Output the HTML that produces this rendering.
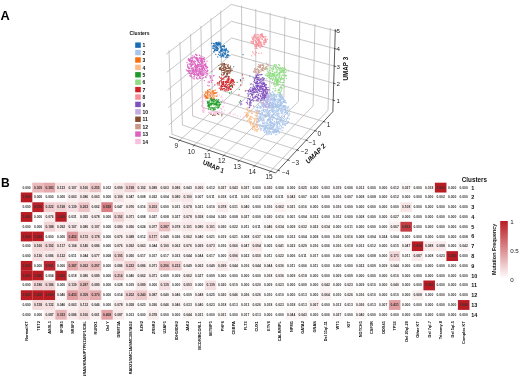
<!DOCTYPE html><html><head><meta charset="utf-8"><style>html,body{margin:0;padding:0;background:#fff;width:520px;height:376px;overflow:hidden}svg{display:block;filter:blur(0.3px)}text{font-family:"Liberation Sans",sans-serif}</style></head><body>
<svg width="520" height="376" viewBox="0 0 520 376">
<rect width="520" height="376" fill="#fff"/>
<text x="0.6" y="20.4" font-size="12.8" font-weight="bold" fill="#000">A</text>
<text transform="translate(1.1,186.8) scale(0.9,1)" font-size="13.4" font-weight="bold" fill="#000">B</text>
<line x1="179.74" y1="140.29" x2="242.04" y2="84.63" stroke="#b4b4b4" stroke-width="0.75"/>
<line x1="194.23" y1="145.23" x2="255.81" y2="88.74" stroke="#b4b4b4" stroke-width="0.75"/>
<line x1="208.96" y1="150.26" x2="269.8" y2="92.9" stroke="#b4b4b4" stroke-width="0.75"/>
<line x1="223.95" y1="155.37" x2="284.01" y2="97.14" stroke="#b4b4b4" stroke-width="0.75"/>
<line x1="239.2" y1="160.56" x2="298.45" y2="101.44" stroke="#b4b4b4" stroke-width="0.75"/>
<line x1="254.71" y1="165.85" x2="313.11" y2="105.8" stroke="#b4b4b4" stroke-width="0.75"/>
<line x1="270.49" y1="171.23" x2="328.01" y2="110.24" stroke="#b4b4b4" stroke-width="0.75"/>
<line x1="171.9" y1="134.28" x2="278.13" y2="170.29" stroke="#b4b4b4" stroke-width="0.75"/>
<line x1="182.43" y1="125.05" x2="287.76" y2="159.97" stroke="#b4b4b4" stroke-width="0.75"/>
<line x1="192.67" y1="116.07" x2="297.11" y2="149.95" stroke="#b4b4b4" stroke-width="0.75"/>
<line x1="202.64" y1="107.33" x2="306.2" y2="140.22" stroke="#b4b4b4" stroke-width="0.75"/>
<line x1="212.35" y1="98.82" x2="315.04" y2="130.75" stroke="#b4b4b4" stroke-width="0.75"/>
<line x1="221.81" y1="90.53" x2="323.64" y2="121.55" stroke="#b4b4b4" stroke-width="0.75"/>
<line x1="171.9" y1="134.28" x2="168.99" y2="50.34" stroke="#b4b4b4" stroke-width="0.75"/>
<line x1="182.43" y1="125.05" x2="179.91" y2="41.99" stroke="#b4b4b4" stroke-width="0.75"/>
<line x1="192.67" y1="116.07" x2="190.53" y2="33.87" stroke="#b4b4b4" stroke-width="0.75"/>
<line x1="202.64" y1="107.33" x2="200.85" y2="25.98" stroke="#b4b4b4" stroke-width="0.75"/>
<line x1="212.35" y1="98.82" x2="210.9" y2="18.3" stroke="#b4b4b4" stroke-width="0.75"/>
<line x1="221.81" y1="90.53" x2="220.67" y2="10.82" stroke="#b4b4b4" stroke-width="0.75"/>
<line x1="168.74" y1="125.02" x2="231.85" y2="70.68" stroke="#b4b4b4" stroke-width="0.75"/>
<line x1="168.12" y1="107.69" x2="231.68" y2="54.43" stroke="#b4b4b4" stroke-width="0.75"/>
<line x1="167.49" y1="90.12" x2="231.52" y2="37.97" stroke="#b4b4b4" stroke-width="0.75"/>
<line x1="166.85" y1="72.3" x2="231.35" y2="21.29" stroke="#b4b4b4" stroke-width="0.75"/>
<line x1="166.2" y1="54.23" x2="231.17" y2="4.4" stroke="#b4b4b4" stroke-width="0.75"/>
<line x1="242.04" y1="84.63" x2="241.55" y2="5.44" stroke="#b4b4b4" stroke-width="0.75"/>
<line x1="255.81" y1="88.74" x2="255.75" y2="9.04" stroke="#b4b4b4" stroke-width="0.75"/>
<line x1="269.8" y1="92.9" x2="270.19" y2="12.7" stroke="#b4b4b4" stroke-width="0.75"/>
<line x1="284.01" y1="97.14" x2="284.86" y2="16.42" stroke="#b4b4b4" stroke-width="0.75"/>
<line x1="298.45" y1="101.44" x2="299.77" y2="20.2" stroke="#b4b4b4" stroke-width="0.75"/>
<line x1="313.11" y1="105.8" x2="314.92" y2="24.04" stroke="#b4b4b4" stroke-width="0.75"/>
<line x1="328.01" y1="110.24" x2="330.33" y2="27.95" stroke="#b4b4b4" stroke-width="0.75"/>
<line x1="231.85" y1="70.68" x2="333.19" y2="100.24" stroke="#b4b4b4" stroke-width="0.75"/>
<line x1="231.68" y1="54.43" x2="333.7" y2="83.25" stroke="#b4b4b4" stroke-width="0.75"/>
<line x1="231.52" y1="37.97" x2="334.22" y2="66.04" stroke="#b4b4b4" stroke-width="0.75"/>
<line x1="231.35" y1="21.29" x2="334.74" y2="48.58" stroke="#b4b4b4" stroke-width="0.75"/>
<line x1="231.17" y1="4.4" x2="335.28" y2="30.89" stroke="#b4b4b4" stroke-width="0.75"/>
<line x1="169.15" y1="136.69" x2="275.62" y2="172.98" stroke="#333" stroke-width="0.8"/>
<line x1="275.62" y1="172.98" x2="332.85" y2="111.68" stroke="#333" stroke-width="0.8"/>
<line x1="332.85" y1="111.68" x2="335.33" y2="29.21" stroke="#333" stroke-width="0.8"/>
<line x1="180.19" y1="139.9" x2="178.25" y2="141.63" stroke="#222" stroke-width="0.7"/>
<line x1="194.67" y1="144.83" x2="192.75" y2="146.59" stroke="#222" stroke-width="0.7"/>
<line x1="209.4" y1="149.85" x2="207.51" y2="151.63" stroke="#222" stroke-width="0.7"/>
<line x1="224.38" y1="154.95" x2="222.52" y2="156.76" stroke="#222" stroke-width="0.7"/>
<line x1="239.62" y1="160.14" x2="237.78" y2="161.98" stroke="#222" stroke-width="0.7"/>
<line x1="255.13" y1="165.42" x2="253.31" y2="167.28" stroke="#222" stroke-width="0.7"/>
<line x1="270.9" y1="170.79" x2="269.12" y2="172.69" stroke="#222" stroke-width="0.7"/>
<line x1="277.56" y1="170.09" x2="280.02" y2="170.93" stroke="#222" stroke-width="0.7"/>
<line x1="287.19" y1="159.78" x2="289.66" y2="160.6" stroke="#222" stroke-width="0.7"/>
<line x1="296.54" y1="149.77" x2="299.02" y2="150.57" stroke="#222" stroke-width="0.7"/>
<line x1="305.63" y1="140.04" x2="308.11" y2="140.82" stroke="#222" stroke-width="0.7"/>
<line x1="314.47" y1="130.57" x2="316.95" y2="131.35" stroke="#222" stroke-width="0.7"/>
<line x1="323.06" y1="121.37" x2="325.55" y2="122.13" stroke="#222" stroke-width="0.7"/>
<line x1="332.61" y1="100.07" x2="335.11" y2="100.8" stroke="#222" stroke-width="0.7"/>
<line x1="333.12" y1="83.09" x2="335.63" y2="83.8" stroke="#222" stroke-width="0.7"/>
<line x1="333.64" y1="65.88" x2="336.15" y2="66.56" stroke="#222" stroke-width="0.7"/>
<line x1="334.16" y1="48.43" x2="336.68" y2="49.09" stroke="#222" stroke-width="0.7"/>
<line x1="334.69" y1="30.74" x2="337.21" y2="31.38" stroke="#222" stroke-width="0.7"/>
<text x="176.3" y="145.2" font-size="6.5" fill="#222" text-anchor="middle" dominant-baseline="central">9</text>
<text x="191.3" y="151.3" font-size="6.5" fill="#222" text-anchor="middle" dominant-baseline="central">10</text>
<text x="207.4" y="155.9" font-size="6.5" fill="#222" text-anchor="middle" dominant-baseline="central">11</text>
<text x="221.7" y="160.6" font-size="6.5" fill="#222" text-anchor="middle" dominant-baseline="central">12</text>
<text x="237.2" y="166.4" font-size="6.5" fill="#222" text-anchor="middle" dominant-baseline="central">13</text>
<text x="252.3" y="171.7" font-size="6.5" fill="#222" text-anchor="middle" dominant-baseline="central">14</text>
<text x="269" y="176.4" font-size="6.5" fill="#222" text-anchor="middle" dominant-baseline="central">15</text>
<text x="285.8" y="172.6" font-size="6.5" fill="#222" text-anchor="middle" dominant-baseline="central">−4</text>
<text x="295.4" y="162" font-size="6.5" fill="#222" text-anchor="middle" dominant-baseline="central">−3</text>
<text x="304.4" y="151.5" font-size="6.5" fill="#222" text-anchor="middle" dominant-baseline="central">−2</text>
<text x="312.3" y="142.1" font-size="6.5" fill="#222" text-anchor="middle" dominant-baseline="central">−1</text>
<text x="319.4" y="133.2" font-size="6.5" fill="#222" text-anchor="middle" dominant-baseline="central">0</text>
<text x="328.5" y="124.7" font-size="6.5" fill="#222" text-anchor="middle" dominant-baseline="central">1</text>
<text x="336.6" y="100.3" font-size="6.2" fill="#222" text-anchor="start" dominant-baseline="central">1</text>
<text x="336.6" y="83.3" font-size="6.2" fill="#222" text-anchor="start" dominant-baseline="central">2</text>
<text x="336.6" y="66.2" font-size="6.2" fill="#222" text-anchor="start" dominant-baseline="central">3</text>
<text x="336.6" y="48.8" font-size="6.2" fill="#222" text-anchor="start" dominant-baseline="central">4</text>
<text x="336.6" y="30.9" font-size="6.2" fill="#222" text-anchor="start" dominant-baseline="central">5</text>
<text transform="translate(213.6,166.2) scale(1,1.15) rotate(21.5)" font-size="5.9" font-weight="bold" text-anchor="middle" dominant-baseline="central" fill="#111">UMAP 1</text>
<text transform="translate(315.6,153.4) scale(1,1.2) rotate(-39.5)" font-size="6.2" font-weight="bold" text-anchor="middle" dominant-baseline="central" fill="#111">UMAP 2</text>
<text transform="translate(345.1,68.7) rotate(-90)" font-size="6.3" font-weight="bold" text-anchor="middle" dominant-baseline="central" fill="#111">UMAP 3</text>
<g>
<circle cx="222.94" cy="106.73" r="0.62" fill="#f9bfdc"/>
<circle cx="213.97" cy="112" r="0.62" fill="#f9bfdc"/>
<circle cx="217.24" cy="92.45" r="0.62" fill="#f9bfdc"/>
<circle cx="202.52" cy="99.52" r="0.62" fill="#f9bfdc"/>
<circle cx="223.29" cy="106.64" r="0.62" fill="#f9bfdc"/>
<circle cx="202.46" cy="107.7" r="0.62" fill="#f9bfdc"/>
<circle cx="201.49" cy="106.34" r="0.62" fill="#f9bfdc"/>
<circle cx="217.72" cy="111.87" r="0.62" fill="#f9bfdc"/>
<circle cx="210.89" cy="95.45" r="0.62" fill="#f9bfdc"/>
<circle cx="221.29" cy="109.35" r="0.62" fill="#f9bfdc"/>
<circle cx="202.75" cy="111.18" r="0.62" fill="#f9bfdc"/>
<circle cx="202.81" cy="103.26" r="0.62" fill="#f9bfdc"/>
<circle cx="204.17" cy="107.86" r="0.62" fill="#f9bfdc"/>
<circle cx="202.96" cy="97.77" r="0.62" fill="#f9bfdc"/>
<circle cx="211.36" cy="95.4" r="0.62" fill="#f9bfdc"/>
<circle cx="222.13" cy="100.33" r="0.62" fill="#f9bfdc"/>
<circle cx="210.33" cy="113.01" r="0.62" fill="#f9bfdc"/>
<circle cx="207.03" cy="94.62" r="0.62" fill="#f9bfdc"/>
<circle cx="207.62" cy="94.53" r="0.62" fill="#f9bfdc"/>
<circle cx="211.3" cy="113.42" r="0.62" fill="#f9bfdc"/>
<circle cx="224.22" cy="103.27" r="0.62" fill="#f9bfdc"/>
<circle cx="224.14" cy="101.68" r="0.62" fill="#f9bfdc"/>
<circle cx="210.52" cy="111.77" r="0.62" fill="#f9bfdc"/>
<circle cx="208.83" cy="112.13" r="0.62" fill="#f9bfdc"/>
<circle cx="222.09" cy="97.75" r="0.62" fill="#f9bfdc"/>
<circle cx="206.09" cy="100.15" r="0.62" fill="#f9bfdc"/>
<circle cx="203.67" cy="103.16" r="0.62" fill="#f9bfdc"/>
<circle cx="214.26" cy="93.49" r="0.62" fill="#f9bfdc"/>
<circle cx="224.33" cy="103.02" r="0.62" fill="#f9bfdc"/>
<circle cx="211.24" cy="95.41" r="0.62" fill="#f9bfdc"/>
<circle cx="203.96" cy="109.27" r="0.62" fill="#f9bfdc"/>
<circle cx="221.45" cy="108.68" r="0.62" fill="#f9bfdc"/>
<circle cx="207.78" cy="97.51" r="0.62" fill="#f9bfdc"/>
<circle cx="222.8" cy="100.3" r="0.62" fill="#f9bfdc"/>
<circle cx="216.08" cy="114.42" r="0.62" fill="#f9bfdc"/>
<circle cx="206.22" cy="97.94" r="0.62" fill="#f9bfdc"/>
<circle cx="208.64" cy="112.38" r="0.62" fill="#f9bfdc"/>
<circle cx="211.62" cy="95.52" r="0.62" fill="#f9bfdc"/>
<circle cx="211.74" cy="93.84" r="0.62" fill="#f9bfdc"/>
<circle cx="214.7" cy="113.3" r="0.62" fill="#f9bfdc"/>
<circle cx="217.59" cy="94.24" r="0.62" fill="#f9bfdc"/>
<circle cx="207.45" cy="98.02" r="0.62" fill="#f9bfdc"/>
<circle cx="208.25" cy="94.28" r="0.62" fill="#f9bfdc"/>
<circle cx="216.52" cy="93.57" r="0.62" fill="#f9bfdc"/>
<circle cx="203.61" cy="108.47" r="0.62" fill="#f9bfdc"/>
<circle cx="213.61" cy="94.35" r="0.62" fill="#f9bfdc"/>
<circle cx="221.06" cy="97.07" r="0.62" fill="#f9bfdc"/>
<circle cx="220.28" cy="108.74" r="0.62" fill="#f9bfdc"/>
<circle cx="219.56" cy="95.02" r="0.62" fill="#f9bfdc"/>
<circle cx="203.88" cy="108.55" r="0.62" fill="#f9bfdc"/>
<circle cx="201.76" cy="105.56" r="0.62" fill="#f9bfdc"/>
<circle cx="219.26" cy="110.9" r="0.62" fill="#f9bfdc"/>
<circle cx="210.31" cy="95.14" r="0.62" fill="#f9bfdc"/>
<circle cx="211.83" cy="110.58" r="0.62" fill="#f9bfdc"/>
<circle cx="221.44" cy="96.14" r="0.62" fill="#f9bfdc"/>
<circle cx="211.39" cy="113.72" r="0.62" fill="#f9bfdc"/>
<circle cx="203.9" cy="100.94" r="0.62" fill="#f9bfdc"/>
<circle cx="204.27" cy="110.71" r="0.62" fill="#f9bfdc"/>
<circle cx="204.37" cy="97.17" r="0.62" fill="#f9bfdc"/>
<circle cx="217.42" cy="111.92" r="0.62" fill="#f9bfdc"/>
<circle cx="221.54" cy="113.53" r="0.62" fill="#f9bfdc"/>
<circle cx="214.64" cy="111.78" r="0.62" fill="#f9bfdc"/>
<circle cx="223.87" cy="112.06" r="0.62" fill="#f9bfdc"/>
<circle cx="203.55" cy="112.49" r="0.62" fill="#f9bfdc"/>
<circle cx="211.05" cy="112.79" r="0.62" fill="#f9bfdc"/>
<circle cx="218.49" cy="113.56" r="0.62" fill="#f9bfdc"/>
<circle cx="216.96" cy="113.04" r="0.62" fill="#f9bfdc"/>
<circle cx="214.81" cy="112.95" r="0.62" fill="#f9bfdc"/>
<circle cx="216.79" cy="112.5" r="0.62" fill="#f9bfdc"/>
<circle cx="221.25" cy="111.67" r="0.62" fill="#f9bfdc"/>
<circle cx="217.23" cy="112.23" r="0.62" fill="#f9bfdc"/>
<circle cx="215.39" cy="114.06" r="0.62" fill="#f9bfdc"/>
<circle cx="213.25" cy="113.18" r="0.62" fill="#f9bfdc"/>
<circle cx="216.89" cy="112.33" r="0.62" fill="#f9bfdc"/>
<circle cx="210.23" cy="112.45" r="0.62" fill="#f9bfdc"/>
<circle cx="215.64" cy="112.96" r="0.62" fill="#f9bfdc"/>
<circle cx="215.8" cy="113.2" r="0.62" fill="#f9bfdc"/>
<circle cx="218.52" cy="113.78" r="0.62" fill="#f9bfdc"/>
<circle cx="213.67" cy="112.06" r="0.62" fill="#f9bfdc"/>
<circle cx="203.04" cy="112.46" r="0.62" fill="#f9bfdc"/>
<circle cx="213.82" cy="114.43" r="0.62" fill="#f9bfdc"/>
<circle cx="221.18" cy="112.55" r="0.62" fill="#f9bfdc"/>
<circle cx="202.97" cy="105.97" r="0.62" fill="#f9bfdc"/>
<circle cx="201.6" cy="101.72" r="0.62" fill="#f9bfdc"/>
<circle cx="202.56" cy="99.42" r="0.62" fill="#f9bfdc"/>
<circle cx="202.74" cy="101.53" r="0.62" fill="#f9bfdc"/>
<circle cx="202.96" cy="110.47" r="0.62" fill="#f9bfdc"/>
<circle cx="202.68" cy="96.17" r="0.62" fill="#f9bfdc"/>
<circle cx="202" cy="95.47" r="0.62" fill="#f9bfdc"/>
<circle cx="202.91" cy="92.41" r="0.62" fill="#f9bfdc"/>
<circle cx="202.18" cy="109.55" r="0.62" fill="#f9bfdc"/>
<circle cx="203.82" cy="111.63" r="0.62" fill="#f9bfdc"/>
<circle cx="202.05" cy="96.63" r="0.62" fill="#f9bfdc"/>
<circle cx="202.99" cy="96.04" r="0.62" fill="#f9bfdc"/>
<circle cx="202.36" cy="96.8" r="0.62" fill="#f9bfdc"/>
<circle cx="201.73" cy="105.05" r="0.62" fill="#f9bfdc"/>
<circle cx="202.62" cy="101.32" r="0.62" fill="#f9bfdc"/>
<circle cx="202.55" cy="107.34" r="0.62" fill="#f9bfdc"/>
<circle cx="233.46" cy="114.25" r="0.62" fill="#f9bfdc"/>
<circle cx="230.34" cy="112.67" r="0.62" fill="#f9bfdc"/>
<circle cx="229.52" cy="115.41" r="0.62" fill="#f9bfdc"/>
<circle cx="245.91" cy="116.27" r="0.62" fill="#f9bfdc"/>
<circle cx="222.28" cy="112.02" r="0.62" fill="#f9bfdc"/>
<circle cx="240.52" cy="116.55" r="0.62" fill="#f9bfdc"/>
<circle cx="244.2" cy="116.62" r="0.62" fill="#f9bfdc"/>
<circle cx="229.54" cy="112.68" r="0.62" fill="#f9bfdc"/>
<circle cx="224.58" cy="110.35" r="0.62" fill="#f9bfdc"/>
<circle cx="230.43" cy="113.67" r="0.62" fill="#f9bfdc"/>
<circle cx="229.6" cy="112.54" r="0.62" fill="#f9bfdc"/>
<circle cx="235.16" cy="114.61" r="0.62" fill="#f9bfdc"/>
<circle cx="237.77" cy="115.95" r="0.62" fill="#f9bfdc"/>
<circle cx="243.77" cy="118.82" r="0.62" fill="#f9bfdc"/>
<circle cx="248.38" cy="115.35" r="0.62" fill="#fcbb85"/>
<circle cx="249.07" cy="118.87" r="0.62" fill="#fcbb85"/>
<circle cx="246.91" cy="114.89" r="0.62" fill="#fcbb85"/>
<circle cx="247.41" cy="116.07" r="0.62" fill="#fcbb85"/>
<circle cx="250.51" cy="124.68" r="0.62" fill="#fcbb85"/>
<circle cx="252.98" cy="124.98" r="0.62" fill="#fcbb85"/>
<circle cx="246.99" cy="117.31" r="0.62" fill="#fcbb85"/>
<circle cx="250.53" cy="118.88" r="0.62" fill="#fcbb85"/>
<circle cx="252.73" cy="128.43" r="0.62" fill="#fcbb85"/>
<circle cx="256.66" cy="130.81" r="0.62" fill="#fcbb85"/>
<circle cx="247.21" cy="114.84" r="0.62" fill="#fcbb85"/>
<circle cx="246.81" cy="114.17" r="0.62" fill="#fcbb85"/>
<circle cx="252.23" cy="127.69" r="0.62" fill="#fcbb85"/>
<circle cx="250.71" cy="123.4" r="0.62" fill="#fcbb85"/>
<circle cx="247.5" cy="120.64" r="0.62" fill="#fcbb85"/>
<circle cx="252.92" cy="123.34" r="0.62" fill="#fcbb85"/>
<circle cx="253.6" cy="126.89" r="0.62" fill="#fcbb85"/>
<circle cx="246.83" cy="112.7" r="0.62" fill="#fcbb85"/>
<circle cx="254.96" cy="130.91" r="0.62" fill="#fcbb85"/>
<circle cx="256.49" cy="129.83" r="0.62" fill="#fcbb85"/>
<circle cx="249.75" cy="119.93" r="0.62" fill="#fcbb85"/>
<circle cx="251.34" cy="119.53" r="0.62" fill="#fcbb85"/>
<circle cx="246.76" cy="117.17" r="0.62" fill="#fcbb85"/>
<circle cx="250.16" cy="122.22" r="0.62" fill="#fcbb85"/>
<circle cx="247.65" cy="116.33" r="0.62" fill="#fcbb85"/>
<circle cx="249.67" cy="122.77" r="0.62" fill="#fcbb85"/>
<circle cx="252.59" cy="129.33" r="0.62" fill="#fcbb85"/>
<circle cx="248.83" cy="119.96" r="0.62" fill="#fcbb85"/>
<circle cx="254.48" cy="126.85" r="0.62" fill="#fcbb85"/>
<circle cx="246.42" cy="114.83" r="0.62" fill="#fcbb85"/>
<circle cx="254.85" cy="128.29" r="0.62" fill="#fcbb85"/>
<circle cx="246.7" cy="115.44" r="0.62" fill="#fcbb85"/>
<circle cx="246.84" cy="115.42" r="0.62" fill="#fcbb85"/>
<circle cx="252.13" cy="126.61" r="0.62" fill="#fcbb85"/>
<circle cx="249.61" cy="119" r="0.62" fill="#fcbb85"/>
<circle cx="246.65" cy="114.03" r="0.62" fill="#fcbb85"/>
<circle cx="247.31" cy="113.17" r="0.62" fill="#fcbb85"/>
<circle cx="254.35" cy="127.47" r="0.62" fill="#fcbb85"/>
<circle cx="244.93" cy="112.27" r="0.62" fill="#fcbb85"/>
<circle cx="245.93" cy="114.95" r="0.62" fill="#fcbb85"/>
<circle cx="257.8" cy="129.38" r="0.62" fill="#fcbb85"/>
<circle cx="253.34" cy="123.96" r="0.62" fill="#fcbb85"/>
<circle cx="249.44" cy="118.85" r="0.62" fill="#fcbb85"/>
<circle cx="246.24" cy="116.42" r="0.62" fill="#fcbb85"/>
<circle cx="252.45" cy="127.81" r="0.62" fill="#fcbb85"/>
<circle cx="253.53" cy="125.2" r="0.62" fill="#fcbb85"/>
<circle cx="253.13" cy="125.53" r="0.62" fill="#fcbb85"/>
<circle cx="249.28" cy="120.26" r="0.62" fill="#fcbb85"/>
<circle cx="251.42" cy="121.68" r="0.62" fill="#fcbb85"/>
<circle cx="253.95" cy="129.77" r="0.62" fill="#fcbb85"/>
<circle cx="250.6" cy="121.51" r="0.62" fill="#fcbb85"/>
<circle cx="247.25" cy="113.98" r="0.62" fill="#fcbb85"/>
<circle cx="248.19" cy="114.9" r="0.62" fill="#fcbb85"/>
<circle cx="252.2" cy="124.2" r="0.62" fill="#fcbb85"/>
<circle cx="254.28" cy="126.33" r="0.62" fill="#fcbb85"/>
<circle cx="257.64" cy="129.63" r="0.62" fill="#fcbb85"/>
<circle cx="258.66" cy="111.48" r="0.62" fill="#fcbb85"/>
<circle cx="256.51" cy="118.1" r="0.62" fill="#fcbb85"/>
<circle cx="257.09" cy="127.02" r="0.62" fill="#fcbb85"/>
<circle cx="256.37" cy="119.87" r="0.62" fill="#fcbb85"/>
<circle cx="255.26" cy="118.47" r="0.62" fill="#fcbb85"/>
<circle cx="256.91" cy="126.02" r="0.62" fill="#fcbb85"/>
<circle cx="257.37" cy="126.76" r="0.62" fill="#fcbb85"/>
<circle cx="257.21" cy="114.72" r="0.62" fill="#fcbb85"/>
<circle cx="257.7" cy="118.38" r="0.62" fill="#fcbb85"/>
<circle cx="253.95" cy="111.98" r="0.62" fill="#fcbb85"/>
<circle cx="258.29" cy="113.22" r="0.62" fill="#fcbb85"/>
<circle cx="256.49" cy="121.49" r="0.62" fill="#fcbb85"/>
<circle cx="256.24" cy="115.39" r="0.62" fill="#fcbb85"/>
<circle cx="257.08" cy="126.97" r="0.62" fill="#fcbb85"/>
<circle cx="257.35" cy="116.89" r="0.62" fill="#fcbb85"/>
<circle cx="257.74" cy="113.29" r="0.62" fill="#fcbb85"/>
<circle cx="257.86" cy="125.47" r="0.62" fill="#fcbb85"/>
<circle cx="256.37" cy="113.2" r="0.62" fill="#fcbb85"/>
<circle cx="256.97" cy="111.74" r="0.62" fill="#fcbb85"/>
<circle cx="257.05" cy="131.56" r="0.62" fill="#fcbb85"/>
<circle cx="256.44" cy="112.98" r="0.62" fill="#fcbb85"/>
<circle cx="258.57" cy="111.6" r="0.62" fill="#fcbb85"/>
<circle cx="257.87" cy="119.62" r="0.62" fill="#fcbb85"/>
<circle cx="258.26" cy="110.79" r="0.62" fill="#fcbb85"/>
<circle cx="257.09" cy="127" r="0.62" fill="#fcbb85"/>
<circle cx="256.4" cy="111.84" r="0.62" fill="#fcbb85"/>
<circle cx="257.45" cy="111.12" r="0.62" fill="#fcbb85"/>
<circle cx="257.28" cy="129.53" r="0.62" fill="#fcbb85"/>
<circle cx="256.01" cy="119.87" r="0.62" fill="#fcbb85"/>
<circle cx="255.8" cy="129.79" r="0.62" fill="#fcbb85"/>
<circle cx="255.34" cy="129.55" r="0.62" fill="#fcbb85"/>
<circle cx="256.69" cy="124.82" r="0.62" fill="#fcbb85"/>
<circle cx="256.12" cy="110.85" r="0.62" fill="#fcbb85"/>
<circle cx="257.23" cy="121.43" r="0.62" fill="#fcbb85"/>
<circle cx="258.59" cy="112.98" r="0.62" fill="#fcbb85"/>
<circle cx="257.82" cy="110.71" r="0.62" fill="#fcbb85"/>
<circle cx="258.65" cy="128.54" r="0.62" fill="#fcbb85"/>
<circle cx="256.14" cy="116.27" r="0.62" fill="#fcbb85"/>
<circle cx="256.22" cy="125.17" r="0.62" fill="#fcbb85"/>
<circle cx="254.34" cy="121.62" r="0.62" fill="#fcbb85"/>
<circle cx="255.69" cy="126.24" r="0.62" fill="#fcbb85"/>
<circle cx="256.4" cy="123.99" r="0.62" fill="#fcbb85"/>
<circle cx="255.75" cy="129.15" r="0.62" fill="#fcbb85"/>
<circle cx="257.32" cy="121.14" r="0.62" fill="#fcbb85"/>
<circle cx="247.39" cy="109.95" r="0.62" fill="#fcbb85"/>
<circle cx="250.03" cy="111.42" r="0.62" fill="#fcbb85"/>
<circle cx="251.41" cy="111.96" r="0.62" fill="#fcbb85"/>
<circle cx="247.36" cy="109.68" r="0.62" fill="#fcbb85"/>
<circle cx="251.88" cy="112.81" r="0.62" fill="#fcbb85"/>
<circle cx="252.63" cy="113.25" r="0.62" fill="#fcbb85"/>
<circle cx="249.63" cy="110.29" r="0.62" fill="#fcbb85"/>
<circle cx="246.85" cy="108.04" r="0.62" fill="#fcbb85"/>
<circle cx="247.48" cy="107.94" r="0.62" fill="#fcbb85"/>
<circle cx="248.72" cy="111.36" r="0.62" fill="#fcbb85"/>
<circle cx="249.32" cy="110.59" r="0.62" fill="#fcbb85"/>
<circle cx="247.22" cy="110.12" r="0.62" fill="#fcbb85"/>
<circle cx="247.73" cy="110.75" r="0.62" fill="#fcbb85"/>
<circle cx="251.3" cy="113.2" r="0.62" fill="#fcbb85"/>
<circle cx="250" cy="122.07" r="0.62" fill="#fcbb85"/>
<circle cx="253.77" cy="118.48" r="0.62" fill="#fcbb85"/>
<circle cx="254.68" cy="120.41" r="0.62" fill="#fcbb85"/>
<circle cx="253.73" cy="122.46" r="0.62" fill="#fcbb85"/>
<circle cx="254.7" cy="119.66" r="0.62" fill="#fcbb85"/>
<circle cx="249.98" cy="118.11" r="0.62" fill="#fcbb85"/>
<circle cx="251.09" cy="116.28" r="0.62" fill="#fcbb85"/>
<circle cx="250.33" cy="117.02" r="0.62" fill="#fcbb85"/>
<circle cx="255.32" cy="115.22" r="0.62" fill="#fcbb85"/>
<circle cx="252.02" cy="117.44" r="0.62" fill="#fcbb85"/>
<circle cx="252.05" cy="117.43" r="0.62" fill="#fcbb85"/>
<circle cx="250.02" cy="116.88" r="0.62" fill="#fcbb85"/>
<circle cx="267.15" cy="121.05" r="0.62" fill="#a9c5ec"/>
<circle cx="274.51" cy="96.61" r="0.62" fill="#a9c5ec"/>
<circle cx="267.59" cy="120.15" r="0.62" fill="#a9c5ec"/>
<circle cx="265.53" cy="116.3" r="0.62" fill="#a9c5ec"/>
<circle cx="267.66" cy="125.61" r="0.62" fill="#a9c5ec"/>
<circle cx="280.77" cy="121.93" r="0.62" fill="#a9c5ec"/>
<circle cx="264.4" cy="129.19" r="0.62" fill="#a9c5ec"/>
<circle cx="283.34" cy="100.21" r="0.62" fill="#a9c5ec"/>
<circle cx="274.09" cy="97.88" r="0.62" fill="#a9c5ec"/>
<circle cx="266.71" cy="133.05" r="0.62" fill="#a9c5ec"/>
<circle cx="268.54" cy="105.41" r="0.62" fill="#a9c5ec"/>
<circle cx="275.76" cy="104.88" r="0.62" fill="#a9c5ec"/>
<circle cx="275.16" cy="102.94" r="0.62" fill="#a9c5ec"/>
<circle cx="283.24" cy="118.55" r="0.62" fill="#a9c5ec"/>
<circle cx="273.94" cy="117.7" r="0.62" fill="#a9c5ec"/>
<circle cx="276.86" cy="113.34" r="0.62" fill="#a9c5ec"/>
<circle cx="273.37" cy="126.49" r="0.62" fill="#a9c5ec"/>
<circle cx="273.46" cy="109.2" r="0.62" fill="#a9c5ec"/>
<circle cx="267.8" cy="107.67" r="0.62" fill="#a9c5ec"/>
<circle cx="277.12" cy="110.08" r="0.62" fill="#a9c5ec"/>
<circle cx="281.24" cy="119.43" r="0.62" fill="#a9c5ec"/>
<circle cx="281.91" cy="109.05" r="0.62" fill="#a9c5ec"/>
<circle cx="281.56" cy="105.16" r="0.62" fill="#a9c5ec"/>
<circle cx="274.05" cy="132.85" r="0.62" fill="#a9c5ec"/>
<circle cx="272.18" cy="102.49" r="0.62" fill="#a9c5ec"/>
<circle cx="282.17" cy="115.18" r="0.62" fill="#a9c5ec"/>
<circle cx="282.48" cy="98.9" r="0.62" fill="#a9c5ec"/>
<circle cx="271.9" cy="115.36" r="0.62" fill="#a9c5ec"/>
<circle cx="270.68" cy="102.04" r="0.62" fill="#a9c5ec"/>
<circle cx="272.56" cy="107.44" r="0.62" fill="#a9c5ec"/>
<circle cx="273.59" cy="114.58" r="0.62" fill="#a9c5ec"/>
<circle cx="284.36" cy="100.37" r="0.62" fill="#a9c5ec"/>
<circle cx="282.75" cy="123.9" r="0.62" fill="#a9c5ec"/>
<circle cx="277.49" cy="126.74" r="0.62" fill="#a9c5ec"/>
<circle cx="258.9" cy="118.58" r="0.62" fill="#a9c5ec"/>
<circle cx="271.42" cy="133.2" r="0.62" fill="#a9c5ec"/>
<circle cx="265.44" cy="101.28" r="0.62" fill="#a9c5ec"/>
<circle cx="278" cy="123.57" r="0.62" fill="#a9c5ec"/>
<circle cx="269.66" cy="113.35" r="0.62" fill="#a9c5ec"/>
<circle cx="271.47" cy="94.55" r="0.62" fill="#a9c5ec"/>
<circle cx="285.5" cy="110.76" r="0.62" fill="#a9c5ec"/>
<circle cx="268.85" cy="119.47" r="0.62" fill="#a9c5ec"/>
<circle cx="271.26" cy="128.6" r="0.62" fill="#a9c5ec"/>
<circle cx="266.17" cy="110.68" r="0.62" fill="#a9c5ec"/>
<circle cx="264.11" cy="97.5" r="0.62" fill="#a9c5ec"/>
<circle cx="278.85" cy="107.48" r="0.62" fill="#a9c5ec"/>
<circle cx="267.95" cy="107.31" r="0.62" fill="#a9c5ec"/>
<circle cx="258.72" cy="120.3" r="0.62" fill="#a9c5ec"/>
<circle cx="270.84" cy="124.83" r="0.62" fill="#a9c5ec"/>
<circle cx="270.76" cy="106.95" r="0.62" fill="#a9c5ec"/>
<circle cx="267.23" cy="110.58" r="0.62" fill="#a9c5ec"/>
<circle cx="278.93" cy="115.36" r="0.62" fill="#a9c5ec"/>
<circle cx="270.37" cy="126.46" r="0.62" fill="#a9c5ec"/>
<circle cx="276.75" cy="121.04" r="0.62" fill="#a9c5ec"/>
<circle cx="260.13" cy="115.23" r="0.62" fill="#a9c5ec"/>
<circle cx="261.47" cy="125.69" r="0.62" fill="#a9c5ec"/>
<circle cx="276.8" cy="121.99" r="0.62" fill="#a9c5ec"/>
<circle cx="269.98" cy="114.54" r="0.62" fill="#a9c5ec"/>
<circle cx="264.34" cy="99.57" r="0.62" fill="#a9c5ec"/>
<circle cx="265.96" cy="127.94" r="0.62" fill="#a9c5ec"/>
<circle cx="283.52" cy="98.52" r="0.62" fill="#a9c5ec"/>
<circle cx="276.33" cy="119.18" r="0.62" fill="#a9c5ec"/>
<circle cx="283.79" cy="120.44" r="0.62" fill="#a9c5ec"/>
<circle cx="271.27" cy="103.26" r="0.62" fill="#a9c5ec"/>
<circle cx="265.86" cy="109.65" r="0.62" fill="#a9c5ec"/>
<circle cx="272.87" cy="100.97" r="0.62" fill="#a9c5ec"/>
<circle cx="288.22" cy="107.54" r="0.62" fill="#a9c5ec"/>
<circle cx="257.91" cy="111.17" r="0.62" fill="#a9c5ec"/>
<circle cx="281.05" cy="98.96" r="0.62" fill="#a9c5ec"/>
<circle cx="268.45" cy="106.42" r="0.62" fill="#a9c5ec"/>
<circle cx="262.12" cy="112.36" r="0.62" fill="#a9c5ec"/>
<circle cx="268.17" cy="114.2" r="0.62" fill="#a9c5ec"/>
<circle cx="278.42" cy="112.86" r="0.62" fill="#a9c5ec"/>
<circle cx="261.21" cy="130.06" r="0.62" fill="#a9c5ec"/>
<circle cx="268.89" cy="119.23" r="0.62" fill="#a9c5ec"/>
<circle cx="260.01" cy="116.24" r="0.62" fill="#a9c5ec"/>
<circle cx="263.14" cy="100.21" r="0.62" fill="#a9c5ec"/>
<circle cx="283.4" cy="118.46" r="0.62" fill="#a9c5ec"/>
<circle cx="266.42" cy="102.11" r="0.62" fill="#a9c5ec"/>
<circle cx="289.51" cy="118.77" r="0.62" fill="#a9c5ec"/>
<circle cx="262.45" cy="125.17" r="0.62" fill="#a9c5ec"/>
<circle cx="258.87" cy="119.49" r="0.62" fill="#a9c5ec"/>
<circle cx="259.58" cy="107.77" r="0.62" fill="#a9c5ec"/>
<circle cx="269.76" cy="113.64" r="0.62" fill="#a9c5ec"/>
<circle cx="262.65" cy="104.13" r="0.62" fill="#a9c5ec"/>
<circle cx="284.43" cy="117.35" r="0.62" fill="#a9c5ec"/>
<circle cx="269.58" cy="122.8" r="0.62" fill="#a9c5ec"/>
<circle cx="271" cy="108.78" r="0.62" fill="#a9c5ec"/>
<circle cx="263.09" cy="119.65" r="0.62" fill="#a9c5ec"/>
<circle cx="276.95" cy="101.35" r="0.62" fill="#a9c5ec"/>
<circle cx="261.87" cy="110.67" r="0.62" fill="#a9c5ec"/>
<circle cx="260.91" cy="106.48" r="0.62" fill="#a9c5ec"/>
<circle cx="269.32" cy="102.82" r="0.62" fill="#a9c5ec"/>
<circle cx="286.48" cy="111.88" r="0.62" fill="#a9c5ec"/>
<circle cx="288.89" cy="115.28" r="0.62" fill="#a9c5ec"/>
<circle cx="273.82" cy="113.6" r="0.62" fill="#a9c5ec"/>
<circle cx="284.23" cy="123.23" r="0.62" fill="#a9c5ec"/>
<circle cx="276.69" cy="131.69" r="0.62" fill="#a9c5ec"/>
<circle cx="275.18" cy="114.7" r="0.62" fill="#a9c5ec"/>
<circle cx="282.16" cy="112.96" r="0.62" fill="#a9c5ec"/>
<circle cx="281.39" cy="127.87" r="0.62" fill="#a9c5ec"/>
<circle cx="258.34" cy="118.97" r="0.62" fill="#a9c5ec"/>
<circle cx="280.6" cy="105.33" r="0.62" fill="#a9c5ec"/>
<circle cx="262.75" cy="112.79" r="0.62" fill="#a9c5ec"/>
<circle cx="270.92" cy="117.38" r="0.62" fill="#a9c5ec"/>
<circle cx="271.16" cy="125.26" r="0.62" fill="#a9c5ec"/>
<circle cx="258.95" cy="124.91" r="0.62" fill="#a9c5ec"/>
<circle cx="268.24" cy="131.56" r="0.62" fill="#a9c5ec"/>
<circle cx="260.72" cy="117.02" r="0.62" fill="#a9c5ec"/>
<circle cx="262.74" cy="122.23" r="0.62" fill="#a9c5ec"/>
<circle cx="280.52" cy="117.65" r="0.62" fill="#a9c5ec"/>
<circle cx="280.38" cy="104.43" r="0.62" fill="#a9c5ec"/>
<circle cx="278.26" cy="116.16" r="0.62" fill="#a9c5ec"/>
<circle cx="263.47" cy="110.47" r="0.62" fill="#a9c5ec"/>
<circle cx="272.41" cy="114.57" r="0.62" fill="#a9c5ec"/>
<circle cx="280.77" cy="106.3" r="0.62" fill="#a9c5ec"/>
<circle cx="264.15" cy="129.61" r="0.62" fill="#a9c5ec"/>
<circle cx="266.85" cy="123.73" r="0.62" fill="#a9c5ec"/>
<circle cx="271.47" cy="134.31" r="0.62" fill="#a9c5ec"/>
<circle cx="284.02" cy="109.28" r="0.62" fill="#a9c5ec"/>
<circle cx="267.02" cy="97.25" r="0.62" fill="#a9c5ec"/>
<circle cx="269.19" cy="133.75" r="0.62" fill="#a9c5ec"/>
<circle cx="269.16" cy="117.99" r="0.62" fill="#a9c5ec"/>
<circle cx="263.43" cy="120.59" r="0.62" fill="#a9c5ec"/>
<circle cx="268.68" cy="118.94" r="0.62" fill="#a9c5ec"/>
<circle cx="269.4" cy="108.09" r="0.62" fill="#a9c5ec"/>
<circle cx="284.09" cy="109.9" r="0.62" fill="#a9c5ec"/>
<circle cx="273.59" cy="114.24" r="0.62" fill="#a9c5ec"/>
<circle cx="276.75" cy="99.53" r="0.62" fill="#a9c5ec"/>
<circle cx="280.22" cy="97.77" r="0.62" fill="#a9c5ec"/>
<circle cx="273.2" cy="127.19" r="0.62" fill="#a9c5ec"/>
<circle cx="285.8" cy="111.42" r="0.62" fill="#a9c5ec"/>
<circle cx="274.19" cy="110.58" r="0.62" fill="#a9c5ec"/>
<circle cx="269.79" cy="97.6" r="0.62" fill="#a9c5ec"/>
<circle cx="282.72" cy="124.95" r="0.62" fill="#a9c5ec"/>
<circle cx="261.75" cy="119.26" r="0.62" fill="#a9c5ec"/>
<circle cx="274.35" cy="94.65" r="0.62" fill="#a9c5ec"/>
<circle cx="263.69" cy="106.78" r="0.62" fill="#a9c5ec"/>
<circle cx="283.35" cy="120.74" r="0.62" fill="#a9c5ec"/>
<circle cx="272.37" cy="110.89" r="0.62" fill="#a9c5ec"/>
<circle cx="258.1" cy="125.11" r="0.62" fill="#a9c5ec"/>
<circle cx="271.94" cy="126.13" r="0.62" fill="#a9c5ec"/>
<circle cx="265.06" cy="128.65" r="0.62" fill="#a9c5ec"/>
<circle cx="283.16" cy="121.65" r="0.62" fill="#a9c5ec"/>
<circle cx="267.46" cy="119.64" r="0.62" fill="#a9c5ec"/>
<circle cx="281.43" cy="116.31" r="0.62" fill="#a9c5ec"/>
<circle cx="287.45" cy="113.97" r="0.62" fill="#a9c5ec"/>
<circle cx="279.57" cy="126.23" r="0.62" fill="#a9c5ec"/>
<circle cx="268.87" cy="119.56" r="0.62" fill="#a9c5ec"/>
<circle cx="267.46" cy="129.14" r="0.62" fill="#a9c5ec"/>
<circle cx="256.96" cy="115.67" r="0.62" fill="#a9c5ec"/>
<circle cx="271.86" cy="116.33" r="0.62" fill="#a9c5ec"/>
<circle cx="271.85" cy="116.47" r="0.62" fill="#a9c5ec"/>
<circle cx="277.96" cy="129.06" r="0.62" fill="#a9c5ec"/>
<circle cx="284.03" cy="114.13" r="0.62" fill="#a9c5ec"/>
<circle cx="261.35" cy="126.27" r="0.62" fill="#a9c5ec"/>
<circle cx="282.77" cy="111.77" r="0.62" fill="#a9c5ec"/>
<circle cx="266.4" cy="127.65" r="0.62" fill="#a9c5ec"/>
<circle cx="277.36" cy="117.14" r="0.62" fill="#a9c5ec"/>
<circle cx="276.24" cy="108.57" r="0.62" fill="#a9c5ec"/>
<circle cx="277.24" cy="125.77" r="0.62" fill="#a9c5ec"/>
<circle cx="271.29" cy="95.38" r="0.62" fill="#a9c5ec"/>
<circle cx="280.2" cy="105.51" r="0.62" fill="#a9c5ec"/>
<circle cx="271.71" cy="115.18" r="0.62" fill="#a9c5ec"/>
<circle cx="272.32" cy="112.31" r="0.62" fill="#a9c5ec"/>
<circle cx="258.37" cy="107.86" r="0.62" fill="#a9c5ec"/>
<circle cx="277.43" cy="104.09" r="0.62" fill="#a9c5ec"/>
<circle cx="278.12" cy="107.49" r="0.62" fill="#a9c5ec"/>
<circle cx="264.42" cy="115.11" r="0.62" fill="#a9c5ec"/>
<circle cx="257.6" cy="106.52" r="0.62" fill="#a9c5ec"/>
<circle cx="275.86" cy="103.88" r="0.62" fill="#a9c5ec"/>
<circle cx="276.45" cy="119.71" r="0.62" fill="#a9c5ec"/>
<circle cx="278.58" cy="110.49" r="0.62" fill="#a9c5ec"/>
<circle cx="273.42" cy="109.22" r="0.62" fill="#a9c5ec"/>
<circle cx="275.88" cy="131.64" r="0.62" fill="#a9c5ec"/>
<circle cx="264.32" cy="105.41" r="0.62" fill="#a9c5ec"/>
<circle cx="273.09" cy="99.41" r="0.62" fill="#a9c5ec"/>
<circle cx="271.9" cy="109.65" r="0.62" fill="#a9c5ec"/>
<circle cx="282.02" cy="119.18" r="0.62" fill="#a9c5ec"/>
<circle cx="285.47" cy="121.68" r="0.62" fill="#a9c5ec"/>
<circle cx="275.63" cy="131.16" r="0.62" fill="#a9c5ec"/>
<circle cx="283.54" cy="121.76" r="0.62" fill="#a9c5ec"/>
<circle cx="265.44" cy="114.42" r="0.62" fill="#a9c5ec"/>
<circle cx="269.05" cy="93.12" r="0.62" fill="#a9c5ec"/>
<circle cx="264.29" cy="109.58" r="0.62" fill="#a9c5ec"/>
<circle cx="281.54" cy="108.25" r="0.62" fill="#a9c5ec"/>
<circle cx="266.11" cy="112.96" r="0.62" fill="#a9c5ec"/>
<circle cx="261.78" cy="118.74" r="0.62" fill="#a9c5ec"/>
<circle cx="280.04" cy="128.71" r="0.62" fill="#a9c5ec"/>
<circle cx="284.9" cy="112.58" r="0.62" fill="#a9c5ec"/>
<circle cx="264.6" cy="98" r="0.62" fill="#a9c5ec"/>
<circle cx="281.54" cy="110.99" r="0.62" fill="#a9c5ec"/>
<circle cx="283.61" cy="106.19" r="0.62" fill="#a9c5ec"/>
<circle cx="278.87" cy="118.77" r="0.62" fill="#a9c5ec"/>
<circle cx="265.48" cy="105.3" r="0.62" fill="#a9c5ec"/>
<circle cx="261.94" cy="115.39" r="0.62" fill="#a9c5ec"/>
<circle cx="273.16" cy="103.82" r="0.62" fill="#a9c5ec"/>
<circle cx="287.37" cy="118.1" r="0.62" fill="#a9c5ec"/>
<circle cx="269.41" cy="104.92" r="0.62" fill="#a9c5ec"/>
<circle cx="263.94" cy="105.69" r="0.62" fill="#a9c5ec"/>
<circle cx="265.59" cy="122.85" r="0.62" fill="#a9c5ec"/>
<circle cx="281.4" cy="126.55" r="0.62" fill="#a9c5ec"/>
<circle cx="269.65" cy="103.72" r="0.62" fill="#a9c5ec"/>
<circle cx="280.46" cy="120.4" r="0.62" fill="#a9c5ec"/>
<circle cx="265.73" cy="127.34" r="0.62" fill="#a9c5ec"/>
<circle cx="279.79" cy="117.49" r="0.62" fill="#a9c5ec"/>
<circle cx="264.27" cy="129.53" r="0.62" fill="#a9c5ec"/>
<circle cx="273.22" cy="133.01" r="0.62" fill="#a9c5ec"/>
<circle cx="265.96" cy="104.42" r="0.62" fill="#a9c5ec"/>
<circle cx="267.63" cy="100.5" r="0.62" fill="#a9c5ec"/>
<circle cx="271.77" cy="111.24" r="0.62" fill="#a9c5ec"/>
<circle cx="260.29" cy="124.74" r="0.62" fill="#a9c5ec"/>
<circle cx="272.3" cy="100.9" r="0.62" fill="#a9c5ec"/>
<circle cx="265.35" cy="100.27" r="0.62" fill="#a9c5ec"/>
<circle cx="263.43" cy="109.61" r="0.62" fill="#a9c5ec"/>
<circle cx="273.1" cy="98.1" r="0.62" fill="#a9c5ec"/>
<circle cx="282.66" cy="110.85" r="0.62" fill="#a9c5ec"/>
<circle cx="259.96" cy="117.61" r="0.62" fill="#a9c5ec"/>
<circle cx="287.22" cy="108.44" r="0.62" fill="#a9c5ec"/>
<circle cx="265.36" cy="102.33" r="0.62" fill="#a9c5ec"/>
<circle cx="268.8" cy="119.95" r="0.62" fill="#a9c5ec"/>
<circle cx="265.51" cy="114.54" r="0.62" fill="#a9c5ec"/>
<circle cx="266.82" cy="99.47" r="0.62" fill="#a9c5ec"/>
<circle cx="266.42" cy="131.55" r="0.62" fill="#a9c5ec"/>
<circle cx="286.54" cy="102.85" r="0.62" fill="#a9c5ec"/>
<circle cx="261.86" cy="126.71" r="0.62" fill="#a9c5ec"/>
<circle cx="262.27" cy="100.49" r="0.62" fill="#a9c5ec"/>
<circle cx="278.86" cy="102.72" r="0.62" fill="#a9c5ec"/>
<circle cx="279.27" cy="101.11" r="0.62" fill="#a9c5ec"/>
<circle cx="269.86" cy="105.68" r="0.62" fill="#a9c5ec"/>
<circle cx="268.12" cy="99.45" r="0.62" fill="#a9c5ec"/>
<circle cx="275.33" cy="100.27" r="0.62" fill="#a9c5ec"/>
<circle cx="262.51" cy="105.17" r="0.62" fill="#a9c5ec"/>
<circle cx="268.48" cy="115.65" r="0.62" fill="#a9c5ec"/>
<circle cx="277.35" cy="111.13" r="0.62" fill="#a9c5ec"/>
<circle cx="279.8" cy="128.68" r="0.62" fill="#a9c5ec"/>
<circle cx="277.61" cy="124.28" r="0.62" fill="#a9c5ec"/>
<circle cx="269.92" cy="122.32" r="0.62" fill="#a9c5ec"/>
<circle cx="273.83" cy="132.39" r="0.62" fill="#a9c5ec"/>
<circle cx="275.86" cy="112.48" r="0.62" fill="#a9c5ec"/>
<circle cx="255.34" cy="110.12" r="0.62" fill="#a9c5ec"/>
<circle cx="282.63" cy="101.56" r="0.62" fill="#a9c5ec"/>
<circle cx="273.87" cy="113.55" r="0.62" fill="#a9c5ec"/>
<circle cx="275.54" cy="134.86" r="0.62" fill="#a9c5ec"/>
<circle cx="280.22" cy="102.3" r="0.62" fill="#a9c5ec"/>
<circle cx="279.27" cy="109.31" r="0.62" fill="#a9c5ec"/>
<circle cx="284.48" cy="124.66" r="0.62" fill="#a9c5ec"/>
<circle cx="274.67" cy="94.47" r="0.62" fill="#a9c5ec"/>
<circle cx="268.1" cy="110.84" r="0.62" fill="#a9c5ec"/>
<circle cx="274.33" cy="124.1" r="0.62" fill="#a9c5ec"/>
<circle cx="270.26" cy="118.67" r="0.62" fill="#a9c5ec"/>
<circle cx="271.77" cy="94.61" r="0.62" fill="#a9c5ec"/>
<circle cx="273.31" cy="117.24" r="0.62" fill="#a9c5ec"/>
<circle cx="269.68" cy="110.72" r="0.62" fill="#a9c5ec"/>
<circle cx="267.16" cy="112.11" r="0.62" fill="#a9c5ec"/>
<circle cx="256.41" cy="110.96" r="0.62" fill="#a9c5ec"/>
<circle cx="275.22" cy="122.63" r="0.62" fill="#a9c5ec"/>
<circle cx="279.73" cy="94.63" r="0.62" fill="#a9c5ec"/>
<circle cx="267.55" cy="113.41" r="0.62" fill="#a9c5ec"/>
<circle cx="266.28" cy="101.64" r="0.62" fill="#a9c5ec"/>
<circle cx="269.42" cy="107.11" r="0.62" fill="#a9c5ec"/>
<circle cx="270.28" cy="121.63" r="0.62" fill="#a9c5ec"/>
<circle cx="272.46" cy="104.61" r="0.62" fill="#a9c5ec"/>
<circle cx="262.8" cy="123.41" r="0.62" fill="#a9c5ec"/>
<circle cx="281.22" cy="110.41" r="0.62" fill="#a9c5ec"/>
<circle cx="263.99" cy="115.39" r="0.62" fill="#a9c5ec"/>
<circle cx="277.89" cy="130.55" r="0.62" fill="#a9c5ec"/>
<circle cx="260.21" cy="117.66" r="0.62" fill="#a9c5ec"/>
<circle cx="272.59" cy="115.64" r="0.62" fill="#a9c5ec"/>
<circle cx="280.53" cy="110.77" r="0.62" fill="#a9c5ec"/>
<circle cx="269.62" cy="127.47" r="0.62" fill="#a9c5ec"/>
<circle cx="279.39" cy="108.44" r="0.62" fill="#a9c5ec"/>
<circle cx="277.01" cy="115.92" r="0.62" fill="#a9c5ec"/>
<circle cx="276.92" cy="121.12" r="0.62" fill="#a9c5ec"/>
<circle cx="271.18" cy="123.41" r="0.62" fill="#a9c5ec"/>
<circle cx="271.75" cy="98.57" r="0.62" fill="#a9c5ec"/>
<circle cx="264.64" cy="106.2" r="0.62" fill="#a9c5ec"/>
<circle cx="267.98" cy="120.15" r="0.62" fill="#a9c5ec"/>
<circle cx="265.64" cy="117.2" r="0.62" fill="#a9c5ec"/>
<circle cx="274.71" cy="106.76" r="0.62" fill="#a9c5ec"/>
<circle cx="275.33" cy="132.09" r="0.62" fill="#a9c5ec"/>
<circle cx="271.53" cy="107.87" r="0.62" fill="#a9c5ec"/>
<circle cx="269.89" cy="117.21" r="0.62" fill="#a9c5ec"/>
<circle cx="270.22" cy="107.59" r="0.62" fill="#a9c5ec"/>
<circle cx="279.59" cy="99.54" r="0.62" fill="#a9c5ec"/>
<circle cx="268.23" cy="114.57" r="0.62" fill="#a9c5ec"/>
<circle cx="274.9" cy="124.09" r="0.62" fill="#a9c5ec"/>
<circle cx="272.52" cy="123.42" r="0.62" fill="#a9c5ec"/>
<circle cx="272.25" cy="127.25" r="0.62" fill="#a9c5ec"/>
<circle cx="279.24" cy="123.63" r="0.62" fill="#a9c5ec"/>
<circle cx="261.19" cy="119.66" r="0.62" fill="#a9c5ec"/>
<circle cx="266.42" cy="106.35" r="0.62" fill="#a9c5ec"/>
<circle cx="269.01" cy="121.19" r="0.62" fill="#a9c5ec"/>
<circle cx="283.69" cy="107.64" r="0.62" fill="#a9c5ec"/>
<circle cx="278.66" cy="110.94" r="0.62" fill="#a9c5ec"/>
<circle cx="271.97" cy="106.92" r="0.62" fill="#a9c5ec"/>
<circle cx="273.44" cy="111.96" r="0.62" fill="#a9c5ec"/>
<circle cx="264.67" cy="132.09" r="0.62" fill="#a9c5ec"/>
<circle cx="273.05" cy="97" r="0.62" fill="#a9c5ec"/>
<circle cx="285.89" cy="118.6" r="0.62" fill="#a9c5ec"/>
<circle cx="278.84" cy="113.83" r="0.62" fill="#a9c5ec"/>
<circle cx="287.7" cy="123.42" r="0.62" fill="#a9c5ec"/>
<circle cx="269.71" cy="118.76" r="0.62" fill="#a9c5ec"/>
<circle cx="270.81" cy="96.16" r="0.62" fill="#a9c5ec"/>
<circle cx="287.61" cy="118.15" r="0.62" fill="#a9c5ec"/>
<circle cx="263.21" cy="123.08" r="0.62" fill="#a9c5ec"/>
<circle cx="267.72" cy="108.75" r="0.62" fill="#a9c5ec"/>
<circle cx="280.52" cy="99.66" r="0.62" fill="#a9c5ec"/>
<circle cx="268.11" cy="112.69" r="0.62" fill="#a9c5ec"/>
<circle cx="274" cy="125.28" r="0.62" fill="#a9c5ec"/>
<circle cx="280.9" cy="121.6" r="0.62" fill="#a9c5ec"/>
<circle cx="259.54" cy="113.01" r="0.62" fill="#a9c5ec"/>
<circle cx="275.6" cy="106.42" r="0.62" fill="#a9c5ec"/>
<circle cx="276.68" cy="105.25" r="0.62" fill="#a9c5ec"/>
<circle cx="266.26" cy="106.8" r="0.62" fill="#a9c5ec"/>
<circle cx="276.88" cy="134.51" r="0.62" fill="#a9c5ec"/>
<circle cx="285.99" cy="123.96" r="0.62" fill="#a9c5ec"/>
<circle cx="275.3" cy="115.23" r="0.62" fill="#a9c5ec"/>
<circle cx="269.1" cy="133.64" r="0.62" fill="#a9c5ec"/>
<circle cx="263.69" cy="111.32" r="0.62" fill="#a9c5ec"/>
<circle cx="277" cy="122.53" r="0.62" fill="#a9c5ec"/>
<circle cx="263.62" cy="104.18" r="0.62" fill="#a9c5ec"/>
<circle cx="270.08" cy="119.24" r="0.62" fill="#a9c5ec"/>
<circle cx="275.88" cy="95.92" r="0.62" fill="#a9c5ec"/>
<circle cx="259.76" cy="111.43" r="0.62" fill="#a9c5ec"/>
<circle cx="275.04" cy="103.4" r="0.62" fill="#a9c5ec"/>
<circle cx="272.86" cy="120.05" r="0.62" fill="#a9c5ec"/>
<circle cx="259.59" cy="106.23" r="0.62" fill="#a9c5ec"/>
<circle cx="285.09" cy="100.45" r="0.62" fill="#a9c5ec"/>
<circle cx="278.24" cy="114.12" r="0.62" fill="#a9c5ec"/>
<circle cx="286.01" cy="106.95" r="0.62" fill="#a9c5ec"/>
<circle cx="262.01" cy="104.66" r="0.62" fill="#a9c5ec"/>
<circle cx="279.85" cy="113.65" r="0.62" fill="#a9c5ec"/>
<circle cx="269.83" cy="132.2" r="0.62" fill="#a9c5ec"/>
<circle cx="260.64" cy="113.64" r="0.62" fill="#a9c5ec"/>
<circle cx="268.32" cy="100.87" r="0.62" fill="#a9c5ec"/>
<circle cx="262.67" cy="106.18" r="0.62" fill="#a9c5ec"/>
<circle cx="266.26" cy="106.41" r="0.62" fill="#a9c5ec"/>
<circle cx="279.33" cy="100.59" r="0.62" fill="#a9c5ec"/>
<circle cx="276.93" cy="123.82" r="0.62" fill="#a9c5ec"/>
<circle cx="269.1" cy="104.13" r="0.62" fill="#a9c5ec"/>
<circle cx="258.89" cy="118.25" r="0.62" fill="#a9c5ec"/>
<circle cx="285.28" cy="105.54" r="0.62" fill="#a9c5ec"/>
<circle cx="285.27" cy="108.4" r="0.62" fill="#a9c5ec"/>
<circle cx="260.14" cy="120.12" r="0.62" fill="#a9c5ec"/>
<circle cx="264.35" cy="128.44" r="0.62" fill="#a9c5ec"/>
<circle cx="281.38" cy="102.6" r="0.62" fill="#a9c5ec"/>
<circle cx="282.51" cy="107.52" r="0.62" fill="#a9c5ec"/>
<circle cx="273.67" cy="104.56" r="0.62" fill="#a9c5ec"/>
<circle cx="274.28" cy="113.4" r="0.62" fill="#a9c5ec"/>
<circle cx="277.7" cy="111.29" r="0.62" fill="#a9c5ec"/>
<circle cx="258.93" cy="116.52" r="0.62" fill="#a9c5ec"/>
<circle cx="260.5" cy="129.63" r="0.62" fill="#a9c5ec"/>
<circle cx="277.69" cy="118.8" r="0.62" fill="#a9c5ec"/>
<circle cx="256.67" cy="121.81" r="0.62" fill="#a9c5ec"/>
<circle cx="274.38" cy="131.79" r="0.62" fill="#a9c5ec"/>
<circle cx="269.51" cy="106.24" r="0.62" fill="#a9c5ec"/>
<circle cx="264.15" cy="104.4" r="0.62" fill="#a9c5ec"/>
<circle cx="281.9" cy="110.34" r="0.62" fill="#a9c5ec"/>
<circle cx="268.18" cy="98.46" r="0.62" fill="#a9c5ec"/>
<circle cx="274.62" cy="125" r="0.62" fill="#a9c5ec"/>
<circle cx="264.98" cy="122.54" r="0.62" fill="#a9c5ec"/>
<circle cx="261.06" cy="114.14" r="0.62" fill="#a9c5ec"/>
<circle cx="264.94" cy="111.77" r="0.62" fill="#a9c5ec"/>
<circle cx="285.03" cy="107.35" r="0.62" fill="#a9c5ec"/>
<circle cx="264.53" cy="99.54" r="0.62" fill="#a9c5ec"/>
<circle cx="272.4" cy="117.31" r="0.62" fill="#a9c5ec"/>
<circle cx="270.08" cy="129.09" r="0.62" fill="#a9c5ec"/>
<circle cx="262.69" cy="106.07" r="0.62" fill="#a9c5ec"/>
<circle cx="285.4" cy="125.47" r="0.62" fill="#a9c5ec"/>
<circle cx="258.6" cy="120.48" r="0.62" fill="#a9c5ec"/>
<circle cx="274.87" cy="110.69" r="0.62" fill="#a9c5ec"/>
<circle cx="285.91" cy="107.1" r="0.62" fill="#a9c5ec"/>
<circle cx="260.78" cy="106.92" r="0.62" fill="#a9c5ec"/>
<circle cx="259.2" cy="111.74" r="0.62" fill="#a9c5ec"/>
<circle cx="267.96" cy="120.31" r="0.62" fill="#a9c5ec"/>
<circle cx="260.7" cy="107.95" r="0.62" fill="#a9c5ec"/>
<circle cx="260.33" cy="118.1" r="0.62" fill="#a9c5ec"/>
<circle cx="265.5" cy="101.82" r="0.62" fill="#a9c5ec"/>
<circle cx="289.14" cy="109.13" r="0.62" fill="#a9c5ec"/>
<circle cx="271.71" cy="104.5" r="0.62" fill="#a9c5ec"/>
<circle cx="279.3" cy="122.59" r="0.62" fill="#a9c5ec"/>
<circle cx="275.61" cy="115.62" r="0.62" fill="#a9c5ec"/>
<circle cx="269.63" cy="103.22" r="0.62" fill="#a9c5ec"/>
<circle cx="287.19" cy="112.86" r="0.62" fill="#a9c5ec"/>
<circle cx="264.66" cy="106.6" r="0.62" fill="#a9c5ec"/>
<circle cx="281.04" cy="97.56" r="0.62" fill="#a9c5ec"/>
<circle cx="269.39" cy="131.48" r="0.62" fill="#a9c5ec"/>
<circle cx="275.46" cy="129.09" r="0.62" fill="#a9c5ec"/>
<circle cx="287.78" cy="113.4" r="0.62" fill="#a9c5ec"/>
<circle cx="277.58" cy="107.36" r="0.62" fill="#a9c5ec"/>
<circle cx="266.27" cy="116.32" r="0.62" fill="#a9c5ec"/>
<circle cx="275.74" cy="105.2" r="0.62" fill="#a9c5ec"/>
<circle cx="270.88" cy="106.92" r="0.62" fill="#a9c5ec"/>
<circle cx="273.97" cy="106.15" r="0.62" fill="#a9c5ec"/>
<circle cx="268.13" cy="111.45" r="0.62" fill="#a9c5ec"/>
<circle cx="272.4" cy="107.62" r="0.62" fill="#a9c5ec"/>
<circle cx="276.25" cy="110.14" r="0.62" fill="#a9c5ec"/>
<circle cx="264.27" cy="120.92" r="0.62" fill="#a9c5ec"/>
<circle cx="272.26" cy="105.62" r="0.62" fill="#a9c5ec"/>
<circle cx="288.25" cy="106.47" r="0.62" fill="#a9c5ec"/>
<circle cx="284.14" cy="116.53" r="0.62" fill="#a9c5ec"/>
<circle cx="274.77" cy="131.58" r="0.62" fill="#a9c5ec"/>
<circle cx="264.28" cy="126.68" r="0.62" fill="#a9c5ec"/>
<circle cx="258.39" cy="105.53" r="0.62" fill="#a9c5ec"/>
<circle cx="257.39" cy="118.54" r="0.62" fill="#a9c5ec"/>
<circle cx="280.29" cy="108.77" r="0.62" fill="#a9c5ec"/>
<circle cx="274.01" cy="121.88" r="0.62" fill="#a9c5ec"/>
<circle cx="271.07" cy="119.13" r="0.62" fill="#a9c5ec"/>
<circle cx="287" cy="122.8" r="0.62" fill="#a9c5ec"/>
<circle cx="278.33" cy="121.86" r="0.62" fill="#a9c5ec"/>
<circle cx="258.14" cy="104.11" r="0.62" fill="#a9c5ec"/>
<circle cx="284.54" cy="119.6" r="0.62" fill="#a9c5ec"/>
<circle cx="287.18" cy="107.36" r="0.62" fill="#a9c5ec"/>
<circle cx="272.22" cy="111.43" r="0.62" fill="#a9c5ec"/>
<circle cx="286.03" cy="123.09" r="0.62" fill="#a9c5ec"/>
<circle cx="272.12" cy="107.94" r="0.62" fill="#a9c5ec"/>
<circle cx="280.74" cy="125.42" r="0.62" fill="#a9c5ec"/>
<circle cx="268.14" cy="113.95" r="0.62" fill="#a9c5ec"/>
<circle cx="276.89" cy="132.17" r="0.62" fill="#a9c5ec"/>
<circle cx="273.73" cy="116.84" r="0.62" fill="#a9c5ec"/>
<circle cx="264.5" cy="111.8" r="0.62" fill="#a9c5ec"/>
<circle cx="281.22" cy="105.62" r="0.62" fill="#a9c5ec"/>
<circle cx="278.97" cy="117.84" r="0.62" fill="#a9c5ec"/>
<circle cx="270.46" cy="121.58" r="0.62" fill="#a9c5ec"/>
<circle cx="264.5" cy="116.22" r="0.62" fill="#a9c5ec"/>
<circle cx="277.29" cy="114.02" r="0.62" fill="#a9c5ec"/>
<circle cx="267.9" cy="125.94" r="0.62" fill="#a9c5ec"/>
<circle cx="283.82" cy="102.46" r="0.62" fill="#a9c5ec"/>
<circle cx="262.42" cy="110.18" r="0.62" fill="#a9c5ec"/>
<circle cx="260.57" cy="117.05" r="0.62" fill="#a9c5ec"/>
<circle cx="273.87" cy="103.69" r="0.62" fill="#a9c5ec"/>
<circle cx="274.69" cy="125.97" r="0.62" fill="#a9c5ec"/>
<circle cx="258.54" cy="113.34" r="0.62" fill="#a9c5ec"/>
<circle cx="287.3" cy="118.24" r="0.62" fill="#a9c5ec"/>
<circle cx="259.55" cy="110.54" r="0.62" fill="#a9c5ec"/>
<circle cx="289.66" cy="113.23" r="0.62" fill="#a9c5ec"/>
<circle cx="281.88" cy="121.74" r="0.62" fill="#a9c5ec"/>
<circle cx="285.21" cy="123.93" r="0.62" fill="#a9c5ec"/>
<circle cx="260.84" cy="106.73" r="0.62" fill="#a9c5ec"/>
<circle cx="276.83" cy="113.85" r="0.62" fill="#a9c5ec"/>
<circle cx="257.29" cy="107.55" r="0.62" fill="#a9c5ec"/>
<circle cx="284.27" cy="108.1" r="0.62" fill="#a9c5ec"/>
<circle cx="270.71" cy="120.78" r="0.62" fill="#a9c5ec"/>
<circle cx="285.88" cy="112.73" r="0.62" fill="#a9c5ec"/>
<circle cx="274.05" cy="125.83" r="0.62" fill="#a9c5ec"/>
<circle cx="273" cy="106.95" r="0.62" fill="#a9c5ec"/>
<circle cx="270.51" cy="122.54" r="0.62" fill="#a9c5ec"/>
<circle cx="274.87" cy="106.42" r="0.62" fill="#a9c5ec"/>
<circle cx="287.92" cy="117.99" r="0.62" fill="#a9c5ec"/>
<circle cx="264.69" cy="132.49" r="0.62" fill="#a9c5ec"/>
<circle cx="284.69" cy="105.7" r="0.62" fill="#a9c5ec"/>
<circle cx="272.39" cy="104.49" r="0.62" fill="#a9c5ec"/>
<circle cx="259.98" cy="114.44" r="0.62" fill="#a9c5ec"/>
<circle cx="266.67" cy="121.96" r="0.62" fill="#a9c5ec"/>
<circle cx="285.53" cy="109.86" r="0.62" fill="#a9c5ec"/>
<circle cx="273.25" cy="116.2" r="0.62" fill="#a9c5ec"/>
<circle cx="279.1" cy="133.07" r="0.62" fill="#a9c5ec"/>
<circle cx="280.68" cy="119.15" r="0.62" fill="#a9c5ec"/>
<circle cx="265.87" cy="97.4" r="0.62" fill="#a9c5ec"/>
<circle cx="275.98" cy="111.48" r="0.62" fill="#a9c5ec"/>
<circle cx="279.16" cy="121.29" r="0.62" fill="#a9c5ec"/>
<circle cx="273.42" cy="95.74" r="0.62" fill="#a9c5ec"/>
<circle cx="274.57" cy="97.74" r="0.62" fill="#a9c5ec"/>
<circle cx="274.05" cy="129.75" r="0.62" fill="#a9c5ec"/>
<circle cx="261.68" cy="113.22" r="0.62" fill="#a9c5ec"/>
<circle cx="261.73" cy="107.84" r="0.62" fill="#a9c5ec"/>
<circle cx="288.14" cy="121.46" r="0.62" fill="#a9c5ec"/>
<circle cx="284.86" cy="106.59" r="0.62" fill="#a9c5ec"/>
<circle cx="283.35" cy="127.77" r="0.62" fill="#a9c5ec"/>
<circle cx="276.86" cy="122.3" r="0.62" fill="#a9c5ec"/>
<circle cx="270.5" cy="103.93" r="0.62" fill="#a9c5ec"/>
<circle cx="258.35" cy="113.63" r="0.62" fill="#a9c5ec"/>
<circle cx="274.69" cy="100.36" r="0.62" fill="#a9c5ec"/>
<circle cx="264.06" cy="103.77" r="0.62" fill="#a9c5ec"/>
<circle cx="279.72" cy="116.57" r="0.62" fill="#a9c5ec"/>
<circle cx="263.77" cy="118.66" r="0.62" fill="#a9c5ec"/>
<circle cx="281.39" cy="112.47" r="0.62" fill="#a9c5ec"/>
<circle cx="267.29" cy="130.25" r="0.62" fill="#a9c5ec"/>
<circle cx="279.1" cy="132.5" r="0.62" fill="#a9c5ec"/>
<circle cx="278.63" cy="106.62" r="0.62" fill="#a9c5ec"/>
<circle cx="284.1" cy="124.33" r="0.62" fill="#a9c5ec"/>
<circle cx="261.75" cy="120.84" r="0.62" fill="#a9c5ec"/>
<circle cx="288.05" cy="114.7" r="0.62" fill="#a9c5ec"/>
<circle cx="280.63" cy="100.57" r="0.62" fill="#a9c5ec"/>
<circle cx="277.4" cy="119.56" r="0.62" fill="#a9c5ec"/>
<circle cx="283.29" cy="124.22" r="0.62" fill="#a9c5ec"/>
<circle cx="264.9" cy="117.02" r="0.62" fill="#a9c5ec"/>
<circle cx="269.36" cy="102.84" r="0.62" fill="#a9c5ec"/>
<circle cx="274.09" cy="110.56" r="0.62" fill="#a9c5ec"/>
<circle cx="275.71" cy="118.45" r="0.62" fill="#a9c5ec"/>
<circle cx="259.23" cy="121.69" r="0.62" fill="#a9c5ec"/>
<circle cx="260.98" cy="118.32" r="0.62" fill="#a9c5ec"/>
<circle cx="269.28" cy="124.95" r="0.62" fill="#a9c5ec"/>
<circle cx="267.39" cy="100.02" r="0.62" fill="#a9c5ec"/>
<circle cx="270.13" cy="112.46" r="0.62" fill="#a9c5ec"/>
<circle cx="264.23" cy="123.25" r="0.62" fill="#a9c5ec"/>
<circle cx="272.6" cy="96.25" r="0.62" fill="#a9c5ec"/>
<circle cx="272.34" cy="119.29" r="0.62" fill="#a9c5ec"/>
<circle cx="261.08" cy="103.13" r="0.62" fill="#a9c5ec"/>
<circle cx="274.49" cy="99.45" r="0.62" fill="#a9c5ec"/>
<circle cx="265.1" cy="126.86" r="0.62" fill="#a9c5ec"/>
<circle cx="277.78" cy="115.29" r="0.62" fill="#a9c5ec"/>
<circle cx="277.83" cy="113.04" r="0.62" fill="#a9c5ec"/>
<circle cx="272.76" cy="107.54" r="0.62" fill="#a9c5ec"/>
<circle cx="276.51" cy="105.63" r="0.62" fill="#a9c5ec"/>
<circle cx="268.47" cy="96.34" r="0.62" fill="#a9c5ec"/>
<circle cx="284.51" cy="116.02" r="0.62" fill="#a9c5ec"/>
<circle cx="270.9" cy="134.06" r="0.62" fill="#a9c5ec"/>
<circle cx="278.31" cy="108.98" r="0.62" fill="#a9c5ec"/>
<circle cx="257.59" cy="107.56" r="0.62" fill="#a9c5ec"/>
<circle cx="259.27" cy="117.86" r="0.62" fill="#a9c5ec"/>
<circle cx="284.98" cy="112.12" r="0.62" fill="#a9c5ec"/>
<circle cx="285.13" cy="109.97" r="0.62" fill="#a9c5ec"/>
<circle cx="273.05" cy="123.9" r="0.62" fill="#a9c5ec"/>
<circle cx="269.19" cy="97.53" r="0.62" fill="#a9c5ec"/>
<circle cx="275.03" cy="104.87" r="0.62" fill="#a9c5ec"/>
<circle cx="278" cy="99.92" r="0.62" fill="#a9c5ec"/>
<circle cx="283.7" cy="105.41" r="0.62" fill="#a9c5ec"/>
<circle cx="273.4" cy="103.61" r="0.62" fill="#a9c5ec"/>
<circle cx="288.43" cy="122.18" r="0.62" fill="#a9c5ec"/>
<circle cx="272.43" cy="120" r="0.62" fill="#a9c5ec"/>
<circle cx="278.97" cy="131.86" r="0.62" fill="#a9c5ec"/>
<circle cx="262.29" cy="100.19" r="0.62" fill="#a9c5ec"/>
<circle cx="256.4" cy="107.45" r="0.62" fill="#a9c5ec"/>
<circle cx="285.26" cy="109.69" r="0.62" fill="#a9c5ec"/>
<circle cx="272.81" cy="132.31" r="0.62" fill="#a9c5ec"/>
<circle cx="283.18" cy="124.58" r="0.62" fill="#a9c5ec"/>
<circle cx="288.17" cy="116.25" r="0.62" fill="#a9c5ec"/>
<circle cx="276.1" cy="131.07" r="0.62" fill="#a9c5ec"/>
<circle cx="277.24" cy="109.55" r="0.62" fill="#a9c5ec"/>
<circle cx="264.08" cy="104.33" r="0.62" fill="#a9c5ec"/>
<circle cx="272.7" cy="119.1" r="0.62" fill="#a9c5ec"/>
<circle cx="260.93" cy="108.09" r="0.62" fill="#a9c5ec"/>
<circle cx="267.73" cy="109.69" r="0.62" fill="#a9c5ec"/>
<circle cx="269.56" cy="127.92" r="0.62" fill="#a9c5ec"/>
<circle cx="289.47" cy="114.77" r="0.62" fill="#a9c5ec"/>
<circle cx="271.96" cy="109.75" r="0.62" fill="#a9c5ec"/>
<circle cx="263.25" cy="106.04" r="0.62" fill="#a9c5ec"/>
<circle cx="274.45" cy="117.47" r="0.62" fill="#a9c5ec"/>
<circle cx="264.29" cy="115.31" r="0.62" fill="#a9c5ec"/>
<circle cx="279.88" cy="124.6" r="0.62" fill="#a9c5ec"/>
<circle cx="269.8" cy="115.07" r="0.62" fill="#a9c5ec"/>
<circle cx="272.46" cy="104.3" r="0.62" fill="#a9c5ec"/>
<circle cx="261.57" cy="103.38" r="0.62" fill="#a9c5ec"/>
<circle cx="266.64" cy="127.86" r="0.62" fill="#a9c5ec"/>
<circle cx="273.73" cy="106.62" r="0.62" fill="#a9c5ec"/>
<circle cx="271.34" cy="127.27" r="0.62" fill="#a9c5ec"/>
<circle cx="269.12" cy="111.44" r="0.62" fill="#a9c5ec"/>
<circle cx="270.17" cy="120.59" r="0.62" fill="#a9c5ec"/>
<circle cx="265.66" cy="104.86" r="0.62" fill="#a9c5ec"/>
<circle cx="270.56" cy="110.5" r="0.62" fill="#a9c5ec"/>
<circle cx="263.86" cy="104.15" r="0.62" fill="#a9c5ec"/>
<circle cx="273.62" cy="109.67" r="0.62" fill="#a9c5ec"/>
<circle cx="280.35" cy="96.55" r="0.62" fill="#a9c5ec"/>
<circle cx="286.93" cy="113.08" r="0.62" fill="#a9c5ec"/>
<circle cx="274.8" cy="129.06" r="0.62" fill="#a9c5ec"/>
<circle cx="287.63" cy="112.12" r="0.62" fill="#a9c5ec"/>
<circle cx="267.35" cy="99.28" r="0.62" fill="#a9c5ec"/>
<circle cx="282.48" cy="130.26" r="0.62" fill="#a9c5ec"/>
<circle cx="277.13" cy="114.73" r="0.62" fill="#a9c5ec"/>
<circle cx="271.97" cy="117.67" r="0.62" fill="#a9c5ec"/>
<circle cx="262.54" cy="116.87" r="0.62" fill="#a9c5ec"/>
<circle cx="261.47" cy="100.43" r="0.62" fill="#a9c5ec"/>
<circle cx="280.57" cy="103.78" r="0.62" fill="#a9c5ec"/>
<circle cx="280.53" cy="102" r="0.62" fill="#a9c5ec"/>
<circle cx="280.9" cy="109.04" r="0.62" fill="#a9c5ec"/>
<circle cx="281.69" cy="103.19" r="0.62" fill="#a9c5ec"/>
<circle cx="280.97" cy="101.47" r="0.62" fill="#a9c5ec"/>
<circle cx="284.69" cy="112.62" r="0.62" fill="#a9c5ec"/>
<circle cx="273.56" cy="107.8" r="0.62" fill="#a9c5ec"/>
<circle cx="278.35" cy="122.87" r="0.62" fill="#a9c5ec"/>
<circle cx="263.21" cy="108.87" r="0.62" fill="#a9c5ec"/>
<circle cx="267.4" cy="115.4" r="0.62" fill="#a9c5ec"/>
<circle cx="272.19" cy="110.48" r="0.62" fill="#a9c5ec"/>
<circle cx="270.5" cy="131.86" r="0.62" fill="#a9c5ec"/>
<circle cx="273.77" cy="111.64" r="0.62" fill="#a9c5ec"/>
<circle cx="270.87" cy="125.54" r="0.62" fill="#a9c5ec"/>
<circle cx="260.87" cy="116.69" r="0.62" fill="#a9c5ec"/>
<circle cx="277.21" cy="128.55" r="0.62" fill="#a9c5ec"/>
<circle cx="278.63" cy="109.77" r="0.62" fill="#a9c5ec"/>
<circle cx="276.13" cy="111.87" r="0.62" fill="#a9c5ec"/>
<circle cx="287.07" cy="110.19" r="0.62" fill="#a9c5ec"/>
<circle cx="275.18" cy="130.81" r="0.62" fill="#a9c5ec"/>
<circle cx="265.05" cy="129.72" r="0.62" fill="#a9c5ec"/>
<circle cx="285.13" cy="106.49" r="0.62" fill="#a9c5ec"/>
<circle cx="283.93" cy="101.88" r="0.62" fill="#a9c5ec"/>
<circle cx="276.37" cy="119.7" r="0.62" fill="#a9c5ec"/>
<circle cx="267.29" cy="115.4" r="0.62" fill="#a9c5ec"/>
<circle cx="286.45" cy="119.96" r="0.62" fill="#a9c5ec"/>
<circle cx="276.93" cy="106.19" r="0.62" fill="#a9c5ec"/>
<circle cx="279.88" cy="100.82" r="0.62" fill="#a9c5ec"/>
<circle cx="284.12" cy="106.39" r="0.62" fill="#a9c5ec"/>
<circle cx="279.94" cy="100.22" r="0.62" fill="#a9c5ec"/>
<circle cx="269.2" cy="115.8" r="0.62" fill="#a9c5ec"/>
<circle cx="264.09" cy="124.15" r="0.62" fill="#a9c5ec"/>
<circle cx="266.74" cy="104.34" r="0.62" fill="#a9c5ec"/>
<circle cx="263.96" cy="119.73" r="0.62" fill="#a9c5ec"/>
<circle cx="282.87" cy="111.65" r="0.62" fill="#a9c5ec"/>
<circle cx="259.9" cy="117.77" r="0.62" fill="#a9c5ec"/>
<circle cx="268.35" cy="112.85" r="0.62" fill="#a9c5ec"/>
<circle cx="280.74" cy="110.96" r="0.62" fill="#a9c5ec"/>
<circle cx="270.69" cy="122.65" r="0.62" fill="#a9c5ec"/>
<circle cx="268.55" cy="125.15" r="0.62" fill="#a9c5ec"/>
<circle cx="279.02" cy="118.1" r="0.62" fill="#a9c5ec"/>
<circle cx="281.06" cy="107.04" r="0.62" fill="#a9c5ec"/>
<circle cx="262.24" cy="112.73" r="0.62" fill="#a9c5ec"/>
<circle cx="266.07" cy="116.54" r="0.62" fill="#a9c5ec"/>
<circle cx="278.63" cy="106.2" r="0.62" fill="#a9c5ec"/>
<circle cx="282.93" cy="106.42" r="0.62" fill="#a9c5ec"/>
<circle cx="277.89" cy="127.66" r="0.62" fill="#a9c5ec"/>
<circle cx="282.31" cy="127.69" r="0.62" fill="#a9c5ec"/>
<circle cx="281.07" cy="102.7" r="0.62" fill="#a9c5ec"/>
<circle cx="284.08" cy="109.62" r="0.62" fill="#a9c5ec"/>
<circle cx="257.19" cy="109.21" r="0.62" fill="#a9c5ec"/>
<circle cx="268.4" cy="95.09" r="0.62" fill="#a9c5ec"/>
<circle cx="281.24" cy="117.81" r="0.62" fill="#a9c5ec"/>
<circle cx="262.53" cy="114.09" r="0.62" fill="#a9c5ec"/>
<circle cx="287.35" cy="123.2" r="0.62" fill="#a9c5ec"/>
<circle cx="279.53" cy="123.74" r="0.62" fill="#a9c5ec"/>
<circle cx="286.57" cy="120.2" r="0.62" fill="#a9c5ec"/>
<circle cx="266.52" cy="111.83" r="0.62" fill="#a9c5ec"/>
<circle cx="266.07" cy="109.05" r="0.62" fill="#a9c5ec"/>
<circle cx="262.55" cy="120.54" r="0.62" fill="#a9c5ec"/>
<circle cx="271.03" cy="98.45" r="0.62" fill="#a9c5ec"/>
<circle cx="281.44" cy="120.33" r="0.62" fill="#a9c5ec"/>
<circle cx="270.68" cy="122.15" r="0.62" fill="#a9c5ec"/>
<circle cx="274.53" cy="121.49" r="0.62" fill="#a9c5ec"/>
<circle cx="269.6" cy="115.28" r="0.62" fill="#a9c5ec"/>
<circle cx="276.73" cy="96.84" r="0.62" fill="#a9c5ec"/>
<circle cx="277.38" cy="130.77" r="0.62" fill="#a9c5ec"/>
<circle cx="284.94" cy="102.14" r="0.62" fill="#a9c5ec"/>
<circle cx="265.32" cy="128.73" r="0.62" fill="#a9c5ec"/>
<circle cx="278.68" cy="130.02" r="0.62" fill="#a9c5ec"/>
<circle cx="271.43" cy="127.52" r="0.62" fill="#a9c5ec"/>
<circle cx="273.36" cy="99.02" r="0.62" fill="#a9c5ec"/>
<circle cx="282.01" cy="113.41" r="0.62" fill="#a9c5ec"/>
<circle cx="257.14" cy="122.47" r="0.62" fill="#a9c5ec"/>
<circle cx="271.1" cy="122.78" r="0.62" fill="#a9c5ec"/>
<circle cx="261.02" cy="111.11" r="0.62" fill="#a9c5ec"/>
<circle cx="263.07" cy="123.29" r="0.62" fill="#a9c5ec"/>
<circle cx="282.63" cy="122.64" r="0.62" fill="#a9c5ec"/>
<circle cx="280.99" cy="129.79" r="0.62" fill="#a9c5ec"/>
<circle cx="286.92" cy="110.34" r="0.62" fill="#a9c5ec"/>
<circle cx="265.26" cy="110.66" r="0.62" fill="#a9c5ec"/>
<circle cx="282.04" cy="108.06" r="0.62" fill="#a9c5ec"/>
<circle cx="274.84" cy="112.84" r="0.62" fill="#a9c5ec"/>
<circle cx="263.67" cy="105.25" r="0.62" fill="#a9c5ec"/>
<circle cx="285.56" cy="101.97" r="0.62" fill="#a9c5ec"/>
<circle cx="267.78" cy="115.97" r="0.62" fill="#a9c5ec"/>
<circle cx="270.16" cy="95.02" r="0.62" fill="#a9c5ec"/>
<circle cx="270.82" cy="105.93" r="0.62" fill="#a9c5ec"/>
<circle cx="276.45" cy="96.13" r="0.62" fill="#a9c5ec"/>
<circle cx="279.64" cy="101.41" r="0.62" fill="#a9c5ec"/>
<circle cx="279.69" cy="105.62" r="0.62" fill="#a9c5ec"/>
<circle cx="273.58" cy="102.87" r="0.62" fill="#a9c5ec"/>
<circle cx="268.96" cy="94.7" r="0.62" fill="#a9c5ec"/>
<circle cx="272.37" cy="105.95" r="0.62" fill="#a9c5ec"/>
<circle cx="282.03" cy="102.68" r="0.62" fill="#a9c5ec"/>
<circle cx="279.07" cy="96.14" r="0.62" fill="#a9c5ec"/>
<circle cx="276.99" cy="102.07" r="0.62" fill="#a9c5ec"/>
<circle cx="275.16" cy="107.28" r="0.62" fill="#a9c5ec"/>
<circle cx="275.59" cy="99.78" r="0.62" fill="#a9c5ec"/>
<circle cx="275.01" cy="94.22" r="0.62" fill="#a9c5ec"/>
<circle cx="274.7" cy="100.64" r="0.62" fill="#a9c5ec"/>
<circle cx="272.54" cy="91.92" r="0.62" fill="#a9c5ec"/>
<circle cx="272.03" cy="104.56" r="0.62" fill="#a9c5ec"/>
<circle cx="273.77" cy="94.23" r="0.62" fill="#a9c5ec"/>
<circle cx="271.5" cy="104.79" r="0.62" fill="#a9c5ec"/>
<circle cx="275.05" cy="101.83" r="0.62" fill="#a9c5ec"/>
<circle cx="270.93" cy="94.39" r="0.62" fill="#a9c5ec"/>
<circle cx="267.57" cy="101.38" r="0.62" fill="#a9c5ec"/>
<circle cx="282.39" cy="97.37" r="0.62" fill="#a9c5ec"/>
<circle cx="273.02" cy="105.32" r="0.62" fill="#a9c5ec"/>
<circle cx="274.64" cy="108.11" r="0.62" fill="#a9c5ec"/>
<circle cx="272.5" cy="95.13" r="0.62" fill="#a9c5ec"/>
<circle cx="285.23" cy="102.72" r="0.62" fill="#a9c5ec"/>
<circle cx="273.95" cy="101.22" r="0.62" fill="#a9c5ec"/>
<circle cx="274.79" cy="94.85" r="0.62" fill="#a9c5ec"/>
<circle cx="283.97" cy="101.51" r="0.62" fill="#a9c5ec"/>
<circle cx="273.8" cy="99.07" r="0.62" fill="#a9c5ec"/>
<circle cx="273.77" cy="94.51" r="0.62" fill="#a9c5ec"/>
<circle cx="271.02" cy="100.35" r="0.62" fill="#a9c5ec"/>
<circle cx="284.03" cy="101.45" r="0.62" fill="#a9c5ec"/>
<circle cx="281.32" cy="104.98" r="0.62" fill="#a9c5ec"/>
<circle cx="274.55" cy="95.05" r="0.62" fill="#a9c5ec"/>
<circle cx="268.18" cy="104.57" r="0.62" fill="#a9c5ec"/>
<circle cx="270.71" cy="93.95" r="0.62" fill="#a9c5ec"/>
<circle cx="281.49" cy="97.2" r="0.62" fill="#a9c5ec"/>
<circle cx="284.01" cy="99.22" r="0.62" fill="#a9c5ec"/>
<circle cx="272.92" cy="98.73" r="0.62" fill="#a9c5ec"/>
<circle cx="269.61" cy="104.34" r="0.62" fill="#a9c5ec"/>
<circle cx="271.19" cy="99.46" r="0.62" fill="#a9c5ec"/>
<circle cx="281.14" cy="96.92" r="0.62" fill="#a9c5ec"/>
<circle cx="280.52" cy="92.25" r="0.62" fill="#a9c5ec"/>
<circle cx="266.78" cy="98.87" r="0.62" fill="#a9c5ec"/>
<circle cx="279.94" cy="96.41" r="0.62" fill="#a9c5ec"/>
<circle cx="280.24" cy="95.42" r="0.62" fill="#a9c5ec"/>
<circle cx="269.05" cy="104.17" r="0.62" fill="#a9c5ec"/>
<circle cx="274.46" cy="99.54" r="0.62" fill="#a9c5ec"/>
<circle cx="274.15" cy="100.67" r="0.62" fill="#a9c5ec"/>
<circle cx="277.68" cy="106.87" r="0.62" fill="#a9c5ec"/>
<circle cx="281.61" cy="95.5" r="0.62" fill="#a9c5ec"/>
<circle cx="280.32" cy="97.03" r="0.62" fill="#a9c5ec"/>
<circle cx="279.95" cy="104.48" r="0.62" fill="#a9c5ec"/>
<circle cx="278.02" cy="101.96" r="0.62" fill="#a9c5ec"/>
<circle cx="278.63" cy="93.01" r="0.62" fill="#a9c5ec"/>
<circle cx="282.31" cy="103.27" r="0.62" fill="#a9c5ec"/>
<circle cx="275.33" cy="104.61" r="0.62" fill="#a9c5ec"/>
<circle cx="271.63" cy="99.45" r="0.62" fill="#a9c5ec"/>
<circle cx="269.91" cy="95.71" r="0.62" fill="#a9c5ec"/>
<circle cx="280.48" cy="93.79" r="0.62" fill="#a9c5ec"/>
<circle cx="275.15" cy="104.73" r="0.62" fill="#a9c5ec"/>
<circle cx="274.2" cy="100.36" r="0.62" fill="#a9c5ec"/>
<circle cx="277.75" cy="102.03" r="0.62" fill="#a9c5ec"/>
<circle cx="272.83" cy="106.03" r="0.62" fill="#a9c5ec"/>
<circle cx="274.35" cy="98.67" r="0.62" fill="#a9c5ec"/>
<circle cx="275.44" cy="99.49" r="0.62" fill="#a9c5ec"/>
<circle cx="270.93" cy="96.95" r="0.62" fill="#a9c5ec"/>
<circle cx="271.75" cy="96.97" r="0.62" fill="#a9c5ec"/>
<circle cx="267.24" cy="97.04" r="0.62" fill="#a9c5ec"/>
<circle cx="270.53" cy="102.28" r="0.62" fill="#a9c5ec"/>
<circle cx="264.48" cy="98.29" r="0.62" fill="#a9c5ec"/>
<circle cx="278.81" cy="94.66" r="0.62" fill="#a9c5ec"/>
<circle cx="271.16" cy="103.39" r="0.62" fill="#a9c5ec"/>
<circle cx="278.06" cy="107.32" r="0.62" fill="#a9c5ec"/>
<circle cx="276.55" cy="106.51" r="0.62" fill="#a9c5ec"/>
<circle cx="272.94" cy="106.55" r="0.62" fill="#a9c5ec"/>
<circle cx="277.99" cy="104.24" r="0.62" fill="#a9c5ec"/>
<circle cx="280.07" cy="98.83" r="0.62" fill="#a9c5ec"/>
<circle cx="279.61" cy="106.47" r="0.62" fill="#a9c5ec"/>
<circle cx="277.36" cy="94.25" r="0.62" fill="#a9c5ec"/>
<circle cx="267.8" cy="96.38" r="0.62" fill="#a9c5ec"/>
<circle cx="279.09" cy="100.21" r="0.62" fill="#a9c5ec"/>
<circle cx="272.68" cy="104.61" r="0.62" fill="#a9c5ec"/>
<circle cx="280.62" cy="94.05" r="0.62" fill="#a9c5ec"/>
<circle cx="281.3" cy="104.96" r="0.62" fill="#a9c5ec"/>
<circle cx="272.13" cy="102.81" r="0.62" fill="#a9c5ec"/>
<circle cx="267.01" cy="99.1" r="0.62" fill="#a9c5ec"/>
<circle cx="276.32" cy="96.77" r="0.62" fill="#a9c5ec"/>
<circle cx="265.71" cy="95.62" r="0.62" fill="#a9c5ec"/>
<circle cx="276.57" cy="96.6" r="0.62" fill="#a9c5ec"/>
<circle cx="267.11" cy="101.43" r="0.62" fill="#a9c5ec"/>
<circle cx="285.17" cy="102.75" r="0.62" fill="#a9c5ec"/>
<circle cx="280.13" cy="103.4" r="0.62" fill="#a9c5ec"/>
<circle cx="272.3" cy="106.22" r="0.62" fill="#a9c5ec"/>
<circle cx="279.05" cy="104.82" r="0.62" fill="#a9c5ec"/>
<circle cx="282.31" cy="97.47" r="0.62" fill="#a9c5ec"/>
<circle cx="266.34" cy="99.08" r="0.62" fill="#a9c5ec"/>
<circle cx="279.52" cy="96.89" r="0.62" fill="#a9c5ec"/>
<circle cx="275.47" cy="100.37" r="0.62" fill="#a9c5ec"/>
<circle cx="281.1" cy="96.4" r="0.62" fill="#a9c5ec"/>
<circle cx="282.14" cy="105.23" r="0.62" fill="#a9c5ec"/>
<circle cx="283.61" cy="101.84" r="0.62" fill="#a9c5ec"/>
<circle cx="273.43" cy="93.18" r="0.62" fill="#a9c5ec"/>
<circle cx="272.51" cy="103.05" r="0.62" fill="#a9c5ec"/>
<circle cx="269.68" cy="100.87" r="0.62" fill="#a9c5ec"/>
<circle cx="281.91" cy="94.42" r="0.62" fill="#a9c5ec"/>
<circle cx="272.95" cy="99.29" r="0.62" fill="#a9c5ec"/>
<circle cx="276.26" cy="95.73" r="0.62" fill="#a9c5ec"/>
<circle cx="274.37" cy="97.57" r="0.62" fill="#a9c5ec"/>
<circle cx="268.55" cy="101.35" r="0.62" fill="#a9c5ec"/>
<circle cx="270.62" cy="106.08" r="0.62" fill="#a9c5ec"/>
<circle cx="272.04" cy="98.42" r="0.62" fill="#a9c5ec"/>
<circle cx="278.23" cy="98.65" r="0.62" fill="#a9c5ec"/>
<circle cx="279.19" cy="96.24" r="0.62" fill="#a9c5ec"/>
<circle cx="280.27" cy="94.54" r="0.62" fill="#a9c5ec"/>
<circle cx="274.75" cy="106.53" r="0.62" fill="#a9c5ec"/>
<circle cx="277.41" cy="106.45" r="0.62" fill="#a9c5ec"/>
<circle cx="272.86" cy="91.84" r="0.62" fill="#a9c5ec"/>
<circle cx="267.81" cy="98.95" r="0.62" fill="#a9c5ec"/>
<circle cx="283.15" cy="98.83" r="0.62" fill="#a9c5ec"/>
<circle cx="279.72" cy="105.34" r="0.62" fill="#a9c5ec"/>
<circle cx="278.31" cy="99.05" r="0.62" fill="#a9c5ec"/>
<circle cx="281.87" cy="98.39" r="0.62" fill="#a9c5ec"/>
<circle cx="284.02" cy="99.92" r="0.62" fill="#a9c5ec"/>
<circle cx="278.61" cy="104.89" r="0.62" fill="#a9c5ec"/>
<circle cx="276.56" cy="95.24" r="0.62" fill="#a9c5ec"/>
<circle cx="265.86" cy="96.58" r="0.62" fill="#a9c5ec"/>
<circle cx="277.52" cy="105.56" r="0.62" fill="#a9c5ec"/>
<circle cx="279.36" cy="95.49" r="0.62" fill="#a9c5ec"/>
<circle cx="275.79" cy="98.1" r="0.62" fill="#a9c5ec"/>
<circle cx="265.76" cy="97.8" r="0.62" fill="#a9c5ec"/>
<circle cx="274.37" cy="101.15" r="0.62" fill="#a9c5ec"/>
<circle cx="282.36" cy="96.2" r="0.62" fill="#a9c5ec"/>
<circle cx="272.53" cy="105.04" r="0.62" fill="#a9c5ec"/>
<circle cx="268.23" cy="93.95" r="0.62" fill="#a9c5ec"/>
<circle cx="268.55" cy="97.6" r="0.62" fill="#a9c5ec"/>
<circle cx="278.12" cy="100.21" r="0.62" fill="#a9c5ec"/>
<circle cx="274.47" cy="98.21" r="0.62" fill="#a9c5ec"/>
<circle cx="272.94" cy="131.36" r="0.62" fill="#a9c5ec"/>
<circle cx="269.89" cy="128.81" r="0.62" fill="#a9c5ec"/>
<circle cx="276.61" cy="132.62" r="0.62" fill="#a9c5ec"/>
<circle cx="266.82" cy="130.87" r="0.62" fill="#a9c5ec"/>
<circle cx="272.93" cy="124.9" r="0.62" fill="#a9c5ec"/>
<circle cx="264.19" cy="128.57" r="0.62" fill="#a9c5ec"/>
<circle cx="274.2" cy="123.86" r="0.62" fill="#a9c5ec"/>
<circle cx="268.03" cy="134.56" r="0.62" fill="#a9c5ec"/>
<circle cx="276.86" cy="125.86" r="0.62" fill="#a9c5ec"/>
<circle cx="267.48" cy="122.76" r="0.62" fill="#a9c5ec"/>
<circle cx="275.55" cy="129.63" r="0.62" fill="#a9c5ec"/>
<circle cx="269.14" cy="124.98" r="0.62" fill="#a9c5ec"/>
<circle cx="261.8" cy="125.74" r="0.62" fill="#a9c5ec"/>
<circle cx="269.02" cy="132.89" r="0.62" fill="#a9c5ec"/>
<circle cx="265.92" cy="125.97" r="0.62" fill="#a9c5ec"/>
<circle cx="266.23" cy="124.99" r="0.62" fill="#a9c5ec"/>
<circle cx="277.2" cy="123.64" r="0.62" fill="#a9c5ec"/>
<circle cx="263.35" cy="130.09" r="0.62" fill="#a9c5ec"/>
<circle cx="262.34" cy="126.23" r="0.62" fill="#a9c5ec"/>
<circle cx="269.2" cy="128.05" r="0.62" fill="#a9c5ec"/>
<circle cx="272.95" cy="129.97" r="0.62" fill="#a9c5ec"/>
<circle cx="278.4" cy="128.81" r="0.62" fill="#a9c5ec"/>
<circle cx="268.04" cy="133.26" r="0.62" fill="#a9c5ec"/>
<circle cx="263.69" cy="130.85" r="0.62" fill="#a9c5ec"/>
<circle cx="275.18" cy="130.76" r="0.62" fill="#a9c5ec"/>
<circle cx="270.32" cy="132.5" r="0.62" fill="#a9c5ec"/>
<circle cx="268.96" cy="128.53" r="0.62" fill="#a9c5ec"/>
<circle cx="271.2" cy="128.48" r="0.62" fill="#a9c5ec"/>
<circle cx="273.73" cy="125.92" r="0.62" fill="#a9c5ec"/>
<circle cx="272.65" cy="122.5" r="0.62" fill="#a9c5ec"/>
<circle cx="259.49" cy="126.69" r="0.62" fill="#a9c5ec"/>
<circle cx="273.72" cy="123.88" r="0.62" fill="#a9c5ec"/>
<circle cx="273.15" cy="128.11" r="0.62" fill="#a9c5ec"/>
<circle cx="263.75" cy="125.83" r="0.62" fill="#a9c5ec"/>
<circle cx="265.18" cy="129.76" r="0.62" fill="#a9c5ec"/>
<circle cx="265.17" cy="130.88" r="0.62" fill="#a9c5ec"/>
<circle cx="276.91" cy="130.56" r="0.62" fill="#a9c5ec"/>
<circle cx="272.38" cy="127.29" r="0.62" fill="#a9c5ec"/>
<circle cx="273.67" cy="126.61" r="0.62" fill="#a9c5ec"/>
<circle cx="272.25" cy="126.06" r="0.62" fill="#a9c5ec"/>
<circle cx="278.53" cy="130.72" r="0.62" fill="#a9c5ec"/>
<circle cx="271.56" cy="125.13" r="0.62" fill="#a9c5ec"/>
<circle cx="266.39" cy="132.19" r="0.62" fill="#a9c5ec"/>
<circle cx="276.22" cy="127.47" r="0.62" fill="#a9c5ec"/>
<circle cx="268.24" cy="127.01" r="0.62" fill="#a9c5ec"/>
<circle cx="274.13" cy="129.3" r="0.62" fill="#a9c5ec"/>
<circle cx="267.73" cy="125.19" r="0.62" fill="#a9c5ec"/>
<circle cx="266.65" cy="126.99" r="0.62" fill="#a9c5ec"/>
<circle cx="273.22" cy="127.06" r="0.62" fill="#a9c5ec"/>
<circle cx="271.93" cy="131.88" r="0.62" fill="#a9c5ec"/>
<circle cx="266.01" cy="125.59" r="0.62" fill="#a9c5ec"/>
<circle cx="269.8" cy="127.52" r="0.62" fill="#a9c5ec"/>
<circle cx="266.81" cy="123.78" r="0.62" fill="#a9c5ec"/>
<circle cx="275.31" cy="129.19" r="0.62" fill="#a9c5ec"/>
<circle cx="270.24" cy="123.87" r="0.62" fill="#a9c5ec"/>
<circle cx="278.8" cy="127.35" r="0.62" fill="#a9c5ec"/>
<circle cx="266.47" cy="131" r="0.62" fill="#a9c5ec"/>
<circle cx="273.15" cy="131.4" r="0.62" fill="#a9c5ec"/>
<circle cx="274" cy="124.05" r="0.62" fill="#a9c5ec"/>
<circle cx="260.15" cy="127.96" r="0.62" fill="#a9c5ec"/>
<circle cx="276.54" cy="129.06" r="0.62" fill="#a9c5ec"/>
<circle cx="274.6" cy="132.2" r="0.62" fill="#a9c5ec"/>
<circle cx="270.35" cy="128.66" r="0.62" fill="#a9c5ec"/>
<circle cx="270.66" cy="124.22" r="0.62" fill="#a9c5ec"/>
<circle cx="271.11" cy="121.5" r="0.62" fill="#a9c5ec"/>
<circle cx="271.66" cy="127.85" r="0.62" fill="#a9c5ec"/>
<circle cx="273.26" cy="131.08" r="0.62" fill="#a9c5ec"/>
<circle cx="260.97" cy="128.31" r="0.62" fill="#a9c5ec"/>
<circle cx="267.14" cy="128.58" r="0.62" fill="#a9c5ec"/>
<circle cx="267.91" cy="123.46" r="0.62" fill="#a9c5ec"/>
<circle cx="276.67" cy="125.62" r="0.62" fill="#a9c5ec"/>
<circle cx="269.63" cy="127.97" r="0.62" fill="#a9c5ec"/>
<circle cx="272.17" cy="128.58" r="0.62" fill="#a9c5ec"/>
<circle cx="268.58" cy="129.92" r="0.62" fill="#a9c5ec"/>
<circle cx="266.05" cy="126.73" r="0.62" fill="#a9c5ec"/>
<circle cx="271.44" cy="128.79" r="0.62" fill="#a9c5ec"/>
<circle cx="265.48" cy="127.82" r="0.62" fill="#a9c5ec"/>
<circle cx="266.86" cy="134.67" r="0.62" fill="#a9c5ec"/>
<circle cx="271.44" cy="122.5" r="0.62" fill="#a9c5ec"/>
<circle cx="264.03" cy="125.66" r="0.62" fill="#a9c5ec"/>
<circle cx="263.31" cy="127.1" r="0.62" fill="#a9c5ec"/>
<circle cx="277.81" cy="130.03" r="0.62" fill="#a9c5ec"/>
<circle cx="277.13" cy="130.3" r="0.62" fill="#a9c5ec"/>
<circle cx="261.81" cy="128.51" r="0.62" fill="#a9c5ec"/>
<circle cx="269.46" cy="127.21" r="0.62" fill="#a9c5ec"/>
<circle cx="269.06" cy="128.22" r="0.62" fill="#a9c5ec"/>
<circle cx="271.93" cy="128.71" r="0.62" fill="#a9c5ec"/>
<circle cx="275.28" cy="130.53" r="0.62" fill="#a9c5ec"/>
<circle cx="276.67" cy="132.27" r="0.62" fill="#a9c5ec"/>
<circle cx="265.24" cy="125.41" r="0.62" fill="#a9c5ec"/>
<circle cx="266.96" cy="103.53" r="0.62" fill="#c3abe0"/>
<circle cx="263.38" cy="102.93" r="0.62" fill="#c3abe0"/>
<circle cx="262.6" cy="94.03" r="0.62" fill="#c3abe0"/>
<circle cx="261.93" cy="98.31" r="0.62" fill="#c3abe0"/>
<circle cx="267.87" cy="90.5" r="0.62" fill="#c3abe0"/>
<circle cx="268.94" cy="95.32" r="0.62" fill="#c3abe0"/>
<circle cx="263.42" cy="103.29" r="0.62" fill="#c3abe0"/>
<circle cx="261.78" cy="104.87" r="0.62" fill="#c3abe0"/>
<circle cx="264.21" cy="99.5" r="0.62" fill="#c3abe0"/>
<circle cx="265.32" cy="105.81" r="0.62" fill="#c3abe0"/>
<circle cx="261.9" cy="97.31" r="0.62" fill="#c3abe0"/>
<circle cx="266.2" cy="102.23" r="0.62" fill="#c3abe0"/>
<circle cx="270.06" cy="100.99" r="0.62" fill="#c3abe0"/>
<circle cx="265.8" cy="106.61" r="0.62" fill="#c3abe0"/>
<circle cx="260.81" cy="99.24" r="0.62" fill="#c3abe0"/>
<circle cx="264.87" cy="99.59" r="0.62" fill="#c3abe0"/>
<circle cx="264.07" cy="95.46" r="0.62" fill="#c3abe0"/>
<circle cx="271.05" cy="92.77" r="0.62" fill="#c3abe0"/>
<circle cx="264.62" cy="95.18" r="0.62" fill="#c3abe0"/>
<circle cx="264.87" cy="95.9" r="0.62" fill="#c3abe0"/>
<circle cx="261.89" cy="97.07" r="0.62" fill="#c3abe0"/>
<circle cx="262.63" cy="92.3" r="0.62" fill="#c3abe0"/>
<circle cx="262.45" cy="100.04" r="0.62" fill="#c3abe0"/>
<circle cx="269.51" cy="105.09" r="0.62" fill="#c3abe0"/>
<circle cx="269.69" cy="96.39" r="0.62" fill="#c3abe0"/>
<circle cx="262.51" cy="102.37" r="0.62" fill="#c3abe0"/>
<circle cx="265.29" cy="96.24" r="0.62" fill="#c3abe0"/>
<circle cx="270.63" cy="93.98" r="0.62" fill="#c3abe0"/>
<circle cx="265.64" cy="107.24" r="0.62" fill="#c3abe0"/>
<circle cx="265.12" cy="105.55" r="0.62" fill="#c3abe0"/>
<circle cx="268.08" cy="107.82" r="0.62" fill="#c3abe0"/>
<circle cx="264.97" cy="93.69" r="0.62" fill="#c3abe0"/>
<circle cx="266.38" cy="102.45" r="0.62" fill="#c3abe0"/>
<circle cx="266.16" cy="107.44" r="0.62" fill="#c3abe0"/>
<circle cx="266.26" cy="100.21" r="0.62" fill="#c3abe0"/>
<circle cx="263.86" cy="94.46" r="0.62" fill="#c3abe0"/>
<circle cx="269.3" cy="107.37" r="0.62" fill="#c3abe0"/>
<circle cx="266.11" cy="105.72" r="0.62" fill="#c3abe0"/>
<circle cx="263.85" cy="90.34" r="0.62" fill="#c3abe0"/>
<circle cx="269.31" cy="96.04" r="0.62" fill="#c3abe0"/>
<circle cx="262.95" cy="99.08" r="0.62" fill="#c3abe0"/>
<circle cx="270.6" cy="99.04" r="0.62" fill="#c3abe0"/>
<circle cx="263.11" cy="94.61" r="0.62" fill="#c3abe0"/>
<circle cx="268.45" cy="97.59" r="0.62" fill="#c3abe0"/>
<circle cx="263.45" cy="102.27" r="0.62" fill="#c3abe0"/>
<circle cx="268.57" cy="97.02" r="0.62" fill="#c3abe0"/>
<circle cx="268.17" cy="106.72" r="0.62" fill="#c3abe0"/>
<circle cx="270.03" cy="99.71" r="0.62" fill="#c3abe0"/>
<circle cx="263.5" cy="103.78" r="0.62" fill="#c3abe0"/>
<circle cx="264.65" cy="96.13" r="0.62" fill="#c3abe0"/>
<circle cx="266.76" cy="93.36" r="0.62" fill="#c3abe0"/>
<circle cx="269.08" cy="98.79" r="0.62" fill="#c3abe0"/>
<circle cx="267.39" cy="97.84" r="0.62" fill="#c3abe0"/>
<circle cx="268.17" cy="103.49" r="0.62" fill="#c3abe0"/>
<circle cx="268.34" cy="95.93" r="0.62" fill="#c3abe0"/>
<circle cx="265.12" cy="105.31" r="0.62" fill="#c3abe0"/>
<circle cx="263.79" cy="101.23" r="0.62" fill="#c3abe0"/>
<circle cx="262.18" cy="91.9" r="0.62" fill="#c3abe0"/>
<circle cx="268.95" cy="91.04" r="0.62" fill="#c3abe0"/>
<circle cx="262.11" cy="96.67" r="0.62" fill="#c3abe0"/>
<circle cx="266.31" cy="89.95" r="0.62" fill="#c3abe0"/>
<circle cx="267.39" cy="93.35" r="0.62" fill="#c3abe0"/>
<circle cx="266.9" cy="101.12" r="0.62" fill="#c3abe0"/>
<circle cx="267.65" cy="106.07" r="0.62" fill="#c3abe0"/>
<circle cx="267.35" cy="102.66" r="0.62" fill="#c3abe0"/>
<circle cx="268.24" cy="99.21" r="0.62" fill="#c3abe0"/>
<circle cx="267.66" cy="103.49" r="0.62" fill="#c3abe0"/>
<circle cx="263.85" cy="107.37" r="0.62" fill="#c3abe0"/>
<circle cx="269.15" cy="106.24" r="0.62" fill="#c3abe0"/>
<circle cx="263.24" cy="92.53" r="0.62" fill="#c3abe0"/>
<circle cx="262.9" cy="95.53" r="0.62" fill="#c3abe0"/>
<circle cx="266.93" cy="96.18" r="0.62" fill="#c3abe0"/>
<circle cx="263.09" cy="95.98" r="0.62" fill="#c3abe0"/>
<circle cx="268.63" cy="105.68" r="0.62" fill="#c3abe0"/>
<circle cx="261.28" cy="100.65" r="0.62" fill="#c3abe0"/>
<circle cx="267.88" cy="97.03" r="0.62" fill="#c3abe0"/>
<circle cx="264.31" cy="90.42" r="0.62" fill="#c3abe0"/>
<circle cx="267.39" cy="94.63" r="0.62" fill="#c3abe0"/>
<circle cx="267.31" cy="92.52" r="0.62" fill="#c3abe0"/>
<circle cx="263.46" cy="107.22" r="0.62" fill="#c3abe0"/>
<circle cx="250.07" cy="93.66" r="0.62" fill="#7f4fbf"/>
<circle cx="262.84" cy="89.62" r="0.62" fill="#7f4fbf"/>
<circle cx="255.44" cy="88.64" r="0.62" fill="#7f4fbf"/>
<circle cx="263.42" cy="91.55" r="0.62" fill="#7f4fbf"/>
<circle cx="264.12" cy="86.83" r="0.62" fill="#7f4fbf"/>
<circle cx="252.14" cy="89.71" r="0.62" fill="#7f4fbf"/>
<circle cx="264.61" cy="83.19" r="0.62" fill="#7f4fbf"/>
<circle cx="267.42" cy="89.57" r="0.62" fill="#7f4fbf"/>
<circle cx="264.06" cy="96.69" r="0.62" fill="#7f4fbf"/>
<circle cx="255.77" cy="90.48" r="0.62" fill="#7f4fbf"/>
<circle cx="252.96" cy="90.13" r="0.62" fill="#7f4fbf"/>
<circle cx="263.17" cy="91.59" r="0.62" fill="#7f4fbf"/>
<circle cx="254.56" cy="87.89" r="0.62" fill="#7f4fbf"/>
<circle cx="256.73" cy="86.79" r="0.62" fill="#7f4fbf"/>
<circle cx="258.98" cy="98.09" r="0.62" fill="#7f4fbf"/>
<circle cx="252.29" cy="99.17" r="0.62" fill="#7f4fbf"/>
<circle cx="254.77" cy="91.92" r="0.62" fill="#7f4fbf"/>
<circle cx="267.12" cy="93.12" r="0.62" fill="#7f4fbf"/>
<circle cx="263.91" cy="86.38" r="0.62" fill="#7f4fbf"/>
<circle cx="261.09" cy="91.37" r="0.62" fill="#7f4fbf"/>
<circle cx="256.28" cy="96.53" r="0.62" fill="#7f4fbf"/>
<circle cx="250.8" cy="87.63" r="0.62" fill="#7f4fbf"/>
<circle cx="256.65" cy="91.06" r="0.62" fill="#7f4fbf"/>
<circle cx="261.27" cy="86.14" r="0.62" fill="#7f4fbf"/>
<circle cx="264.16" cy="99.91" r="0.62" fill="#7f4fbf"/>
<circle cx="251.59" cy="83.82" r="0.62" fill="#7f4fbf"/>
<circle cx="265.38" cy="95.19" r="0.62" fill="#7f4fbf"/>
<circle cx="253.93" cy="86.43" r="0.62" fill="#7f4fbf"/>
<circle cx="249.7" cy="89.31" r="0.62" fill="#7f4fbf"/>
<circle cx="264.35" cy="84.34" r="0.62" fill="#7f4fbf"/>
<circle cx="261.86" cy="85.17" r="0.62" fill="#7f4fbf"/>
<circle cx="269.13" cy="89.65" r="0.62" fill="#7f4fbf"/>
<circle cx="260.58" cy="95.24" r="0.62" fill="#7f4fbf"/>
<circle cx="254.16" cy="87.34" r="0.62" fill="#7f4fbf"/>
<circle cx="256.1" cy="96.67" r="0.62" fill="#7f4fbf"/>
<circle cx="266.87" cy="89.92" r="0.62" fill="#7f4fbf"/>
<circle cx="259.47" cy="89.1" r="0.62" fill="#7f4fbf"/>
<circle cx="264.7" cy="86.39" r="0.62" fill="#7f4fbf"/>
<circle cx="264.15" cy="98.1" r="0.62" fill="#7f4fbf"/>
<circle cx="261.67" cy="93.18" r="0.62" fill="#7f4fbf"/>
<circle cx="257.66" cy="86.28" r="0.62" fill="#7f4fbf"/>
<circle cx="254.44" cy="92.54" r="0.62" fill="#7f4fbf"/>
<circle cx="266.47" cy="88.3" r="0.62" fill="#7f4fbf"/>
<circle cx="257.46" cy="92.01" r="0.62" fill="#7f4fbf"/>
<circle cx="253.49" cy="88.78" r="0.62" fill="#7f4fbf"/>
<circle cx="259.16" cy="83.84" r="0.62" fill="#7f4fbf"/>
<circle cx="257.2" cy="90.85" r="0.62" fill="#7f4fbf"/>
<circle cx="265.73" cy="84.28" r="0.62" fill="#7f4fbf"/>
<circle cx="256.27" cy="91.84" r="0.62" fill="#7f4fbf"/>
<circle cx="257.77" cy="92.57" r="0.62" fill="#7f4fbf"/>
<circle cx="263.48" cy="86.82" r="0.62" fill="#7f4fbf"/>
<circle cx="257.76" cy="99.84" r="0.62" fill="#7f4fbf"/>
<circle cx="263.56" cy="88.81" r="0.62" fill="#7f4fbf"/>
<circle cx="262.86" cy="84.56" r="0.62" fill="#7f4fbf"/>
<circle cx="259.77" cy="90.29" r="0.62" fill="#7f4fbf"/>
<circle cx="261.2" cy="87.9" r="0.62" fill="#7f4fbf"/>
<circle cx="263.98" cy="96.16" r="0.62" fill="#7f4fbf"/>
<circle cx="268.17" cy="89.77" r="0.62" fill="#7f4fbf"/>
<circle cx="255.91" cy="83" r="0.62" fill="#7f4fbf"/>
<circle cx="250.83" cy="90.85" r="0.62" fill="#7f4fbf"/>
<circle cx="268.05" cy="87.34" r="0.62" fill="#7f4fbf"/>
<circle cx="253.09" cy="84.28" r="0.62" fill="#7f4fbf"/>
<circle cx="253.83" cy="93.96" r="0.62" fill="#7f4fbf"/>
<circle cx="252.13" cy="94.23" r="0.62" fill="#7f4fbf"/>
<circle cx="249.98" cy="89.02" r="0.62" fill="#7f4fbf"/>
<circle cx="247.9" cy="93.67" r="0.62" fill="#7f4fbf"/>
<circle cx="250.56" cy="91.37" r="0.62" fill="#7f4fbf"/>
<circle cx="262.65" cy="88.52" r="0.62" fill="#7f4fbf"/>
<circle cx="252.2" cy="87.85" r="0.62" fill="#7f4fbf"/>
<circle cx="250.16" cy="91.74" r="0.62" fill="#7f4fbf"/>
<circle cx="263.27" cy="83.59" r="0.62" fill="#7f4fbf"/>
<circle cx="251.36" cy="91.5" r="0.62" fill="#7f4fbf"/>
<circle cx="253.32" cy="92.6" r="0.62" fill="#7f4fbf"/>
<circle cx="265.79" cy="91.39" r="0.62" fill="#7f4fbf"/>
<circle cx="260.85" cy="89.37" r="0.62" fill="#7f4fbf"/>
<circle cx="265.22" cy="95.66" r="0.62" fill="#7f4fbf"/>
<circle cx="252.78" cy="97.16" r="0.62" fill="#7f4fbf"/>
<circle cx="263.38" cy="93.15" r="0.62" fill="#7f4fbf"/>
<circle cx="247.04" cy="90.51" r="0.62" fill="#7f4fbf"/>
<circle cx="265.63" cy="97.45" r="0.62" fill="#7f4fbf"/>
<circle cx="254.09" cy="88.59" r="0.62" fill="#7f4fbf"/>
<circle cx="262.06" cy="86.02" r="0.62" fill="#7f4fbf"/>
<circle cx="265.97" cy="94.97" r="0.62" fill="#7f4fbf"/>
<circle cx="254.87" cy="96.28" r="0.62" fill="#7f4fbf"/>
<circle cx="262.26" cy="86.47" r="0.62" fill="#7f4fbf"/>
<circle cx="265.82" cy="91.97" r="0.62" fill="#7f4fbf"/>
<circle cx="260.26" cy="100" r="0.62" fill="#7f4fbf"/>
<circle cx="260.54" cy="96.2" r="0.62" fill="#7f4fbf"/>
<circle cx="263.48" cy="83.37" r="0.62" fill="#7f4fbf"/>
<circle cx="248.86" cy="91.94" r="0.62" fill="#7f4fbf"/>
<circle cx="266.27" cy="84.6" r="0.62" fill="#7f4fbf"/>
<circle cx="263.27" cy="83.55" r="0.62" fill="#7f4fbf"/>
<circle cx="258.39" cy="85.55" r="0.62" fill="#7f4fbf"/>
<circle cx="257.89" cy="99.12" r="0.62" fill="#7f4fbf"/>
<circle cx="260.44" cy="86.25" r="0.62" fill="#7f4fbf"/>
<circle cx="262.91" cy="93.44" r="0.62" fill="#7f4fbf"/>
<circle cx="248.44" cy="90.48" r="0.62" fill="#7f4fbf"/>
<circle cx="265.76" cy="86.75" r="0.62" fill="#7f4fbf"/>
<circle cx="265.89" cy="87.63" r="0.62" fill="#7f4fbf"/>
<circle cx="258.12" cy="89.46" r="0.62" fill="#7f4fbf"/>
<circle cx="266.14" cy="89.26" r="0.62" fill="#7f4fbf"/>
<circle cx="255.84" cy="89.56" r="0.62" fill="#7f4fbf"/>
<circle cx="266.59" cy="87.94" r="0.62" fill="#7f4fbf"/>
<circle cx="264.46" cy="83.28" r="0.62" fill="#7f4fbf"/>
<circle cx="265.05" cy="90.78" r="0.62" fill="#7f4fbf"/>
<circle cx="264.45" cy="98.42" r="0.62" fill="#7f4fbf"/>
<circle cx="255.39" cy="97.68" r="0.62" fill="#7f4fbf"/>
<circle cx="252.3" cy="92.79" r="0.62" fill="#7f4fbf"/>
<circle cx="260.14" cy="87.65" r="0.62" fill="#7f4fbf"/>
<circle cx="258.11" cy="85.47" r="0.62" fill="#7f4fbf"/>
<circle cx="257.84" cy="85.74" r="0.62" fill="#7f4fbf"/>
<circle cx="252.5" cy="88.67" r="0.62" fill="#7f4fbf"/>
<circle cx="265.71" cy="85.39" r="0.62" fill="#7f4fbf"/>
<circle cx="253.43" cy="91.02" r="0.62" fill="#7f4fbf"/>
<circle cx="256.36" cy="100" r="0.62" fill="#7f4fbf"/>
<circle cx="252.66" cy="90.2" r="0.62" fill="#7f4fbf"/>
<circle cx="264.09" cy="98.33" r="0.62" fill="#7f4fbf"/>
<circle cx="250.17" cy="90.67" r="0.62" fill="#7f4fbf"/>
<circle cx="259.93" cy="88.67" r="0.62" fill="#7f4fbf"/>
<circle cx="266.37" cy="93.91" r="0.62" fill="#7f4fbf"/>
<circle cx="267.41" cy="91.87" r="0.62" fill="#7f4fbf"/>
<circle cx="259.27" cy="98.82" r="0.62" fill="#7f4fbf"/>
<circle cx="255.97" cy="92.34" r="0.62" fill="#7f4fbf"/>
<circle cx="263.02" cy="97.43" r="0.62" fill="#7f4fbf"/>
<circle cx="264.49" cy="89.67" r="0.62" fill="#7f4fbf"/>
<circle cx="262.09" cy="94.18" r="0.62" fill="#7f4fbf"/>
<circle cx="250.5" cy="91.28" r="0.62" fill="#7f4fbf"/>
<circle cx="257.41" cy="96.9" r="0.62" fill="#7f4fbf"/>
<circle cx="262.63" cy="86.67" r="0.62" fill="#7f4fbf"/>
<circle cx="254.08" cy="89.6" r="0.62" fill="#7f4fbf"/>
<circle cx="262.89" cy="89.45" r="0.62" fill="#7f4fbf"/>
<circle cx="252.02" cy="95.23" r="0.62" fill="#7f4fbf"/>
<circle cx="260.75" cy="96.68" r="0.62" fill="#7f4fbf"/>
<circle cx="257.56" cy="88.24" r="0.62" fill="#7f4fbf"/>
<circle cx="250.38" cy="84.03" r="0.62" fill="#7f4fbf"/>
<circle cx="257.07" cy="87.32" r="0.62" fill="#7f4fbf"/>
<circle cx="252.41" cy="90.86" r="0.62" fill="#7f4fbf"/>
<circle cx="260.71" cy="79.69" r="0.62" fill="#7f4fbf"/>
<circle cx="262.46" cy="95.66" r="0.62" fill="#7f4fbf"/>
<circle cx="260.99" cy="86.78" r="0.62" fill="#7f4fbf"/>
<circle cx="251.83" cy="94.92" r="0.62" fill="#7f4fbf"/>
<circle cx="260.03" cy="82.02" r="0.62" fill="#7f4fbf"/>
<circle cx="259.58" cy="82.94" r="0.62" fill="#7f4fbf"/>
<circle cx="256.55" cy="83.03" r="0.62" fill="#7f4fbf"/>
<circle cx="265.54" cy="87.76" r="0.62" fill="#7f4fbf"/>
<circle cx="255.51" cy="88.83" r="0.62" fill="#7f4fbf"/>
<circle cx="258.93" cy="90.29" r="0.62" fill="#7f4fbf"/>
<circle cx="254.05" cy="88.36" r="0.62" fill="#7f4fbf"/>
<circle cx="254.68" cy="97.81" r="0.62" fill="#7f4fbf"/>
<circle cx="258.53" cy="90.51" r="0.62" fill="#7f4fbf"/>
<circle cx="262.36" cy="89.08" r="0.62" fill="#7f4fbf"/>
<circle cx="265.25" cy="89.87" r="0.62" fill="#7f4fbf"/>
<circle cx="252.43" cy="90.35" r="0.62" fill="#7f4fbf"/>
<circle cx="252.01" cy="94.62" r="0.62" fill="#7f4fbf"/>
<circle cx="257.89" cy="85.87" r="0.62" fill="#7f4fbf"/>
<circle cx="258.38" cy="94.21" r="0.62" fill="#7f4fbf"/>
<circle cx="261.28" cy="98.52" r="0.62" fill="#7f4fbf"/>
<circle cx="260.88" cy="88.92" r="0.62" fill="#7f4fbf"/>
<circle cx="261.87" cy="83.09" r="0.62" fill="#7f4fbf"/>
<circle cx="261.8" cy="98.93" r="0.62" fill="#7f4fbf"/>
<circle cx="266.21" cy="87.6" r="0.62" fill="#7f4fbf"/>
<circle cx="264.51" cy="97.83" r="0.62" fill="#7f4fbf"/>
<circle cx="256.12" cy="85.38" r="0.62" fill="#7f4fbf"/>
<circle cx="265.1" cy="93.99" r="0.62" fill="#7f4fbf"/>
<circle cx="261.66" cy="91.62" r="0.62" fill="#7f4fbf"/>
<circle cx="259.42" cy="91.54" r="0.62" fill="#7f4fbf"/>
<circle cx="265.88" cy="92.74" r="0.62" fill="#7f4fbf"/>
<circle cx="258.08" cy="100.72" r="0.62" fill="#7f4fbf"/>
<circle cx="256.75" cy="100.24" r="0.62" fill="#7f4fbf"/>
<circle cx="258.52" cy="98.68" r="0.62" fill="#7f4fbf"/>
<circle cx="256.76" cy="94.51" r="0.62" fill="#7f4fbf"/>
<circle cx="264.53" cy="85.4" r="0.62" fill="#7f4fbf"/>
<circle cx="263.08" cy="82.77" r="0.62" fill="#7f4fbf"/>
<circle cx="261.01" cy="100.71" r="0.62" fill="#7f4fbf"/>
<circle cx="259.96" cy="91.44" r="0.62" fill="#7f4fbf"/>
<circle cx="260.17" cy="87.62" r="0.62" fill="#7f4fbf"/>
<circle cx="262.75" cy="94.45" r="0.62" fill="#7f4fbf"/>
<circle cx="263.25" cy="90.39" r="0.62" fill="#7f4fbf"/>
<circle cx="261.94" cy="88.82" r="0.62" fill="#7f4fbf"/>
<circle cx="258.13" cy="95.59" r="0.62" fill="#7f4fbf"/>
<circle cx="252.49" cy="95.92" r="0.62" fill="#7f4fbf"/>
<circle cx="250.8" cy="90.69" r="0.62" fill="#7f4fbf"/>
<circle cx="261.71" cy="87.58" r="0.62" fill="#7f4fbf"/>
<circle cx="262.34" cy="89.88" r="0.62" fill="#7f4fbf"/>
<circle cx="251.05" cy="93.35" r="0.62" fill="#7f4fbf"/>
<circle cx="263.45" cy="92.59" r="0.62" fill="#7f4fbf"/>
<circle cx="258.1" cy="86.59" r="0.62" fill="#7f4fbf"/>
<circle cx="266.52" cy="93.58" r="0.62" fill="#7f4fbf"/>
<circle cx="256.17" cy="86.92" r="0.62" fill="#7f4fbf"/>
<circle cx="256.76" cy="85.93" r="0.62" fill="#7f4fbf"/>
<circle cx="257.84" cy="97.6" r="0.62" fill="#7f4fbf"/>
<circle cx="259.25" cy="87.35" r="0.62" fill="#7f4fbf"/>
<circle cx="258.35" cy="94.71" r="0.62" fill="#7f4fbf"/>
<circle cx="252.91" cy="97.42" r="0.62" fill="#7f4fbf"/>
<circle cx="255.84" cy="95.89" r="0.62" fill="#7f4fbf"/>
<circle cx="257.45" cy="88.56" r="0.62" fill="#7f4fbf"/>
<circle cx="260.44" cy="81.78" r="0.62" fill="#7f4fbf"/>
<circle cx="253.85" cy="89.73" r="0.62" fill="#7f4fbf"/>
<circle cx="248.42" cy="90.93" r="0.62" fill="#7f4fbf"/>
<circle cx="265.33" cy="89.05" r="0.62" fill="#7f4fbf"/>
<circle cx="255.75" cy="96.5" r="0.62" fill="#7f4fbf"/>
<circle cx="260.07" cy="82.41" r="0.62" fill="#7f4fbf"/>
<circle cx="259.94" cy="93.51" r="0.62" fill="#7f4fbf"/>
<circle cx="251.52" cy="94.48" r="0.62" fill="#7f4fbf"/>
<circle cx="252.69" cy="94.75" r="0.62" fill="#7f4fbf"/>
<circle cx="264.39" cy="95.83" r="0.62" fill="#7f4fbf"/>
<circle cx="265.91" cy="95.92" r="0.62" fill="#7f4fbf"/>
<circle cx="253.4" cy="85.99" r="0.62" fill="#7f4fbf"/>
<circle cx="258.86" cy="89.35" r="0.62" fill="#7f4fbf"/>
<circle cx="264.7" cy="91.76" r="0.62" fill="#7f4fbf"/>
<circle cx="248.87" cy="91.37" r="0.62" fill="#7f4fbf"/>
<circle cx="254.54" cy="89.11" r="0.62" fill="#7f4fbf"/>
<circle cx="254.26" cy="91.8" r="0.62" fill="#7f4fbf"/>
<circle cx="253.66" cy="98.35" r="0.62" fill="#7f4fbf"/>
<circle cx="264.26" cy="94.71" r="0.62" fill="#7f4fbf"/>
<circle cx="262.07" cy="97.24" r="0.62" fill="#7f4fbf"/>
<circle cx="266.95" cy="92.91" r="0.62" fill="#7f4fbf"/>
<circle cx="264.51" cy="96.03" r="0.62" fill="#7f4fbf"/>
<circle cx="263.14" cy="84.31" r="0.62" fill="#7f4fbf"/>
<circle cx="263.22" cy="95.3" r="0.62" fill="#7f4fbf"/>
<circle cx="262.08" cy="98.86" r="0.62" fill="#7f4fbf"/>
<circle cx="256.77" cy="89.49" r="0.62" fill="#7f4fbf"/>
<circle cx="257.65" cy="97.53" r="0.62" fill="#7f4fbf"/>
<circle cx="262.97" cy="97.72" r="0.62" fill="#7f4fbf"/>
<circle cx="265.23" cy="90.81" r="0.62" fill="#7f4fbf"/>
<circle cx="258.95" cy="95.52" r="0.62" fill="#7f4fbf"/>
<circle cx="253.08" cy="92.59" r="0.62" fill="#7f4fbf"/>
<circle cx="264.16" cy="89.84" r="0.62" fill="#7f4fbf"/>
<circle cx="257.63" cy="92.37" r="0.62" fill="#7f4fbf"/>
<circle cx="255.39" cy="92.04" r="0.62" fill="#7f4fbf"/>
<circle cx="256.53" cy="76.72" r="0.62" fill="#7f4fbf"/>
<circle cx="256.14" cy="82.48" r="0.62" fill="#7f4fbf"/>
<circle cx="263.22" cy="78.5" r="0.62" fill="#7f4fbf"/>
<circle cx="259.85" cy="80.59" r="0.62" fill="#7f4fbf"/>
<circle cx="258.65" cy="79.45" r="0.62" fill="#7f4fbf"/>
<circle cx="255.68" cy="83.48" r="0.62" fill="#7f4fbf"/>
<circle cx="261.05" cy="79.81" r="0.62" fill="#7f4fbf"/>
<circle cx="262.98" cy="82.95" r="0.62" fill="#7f4fbf"/>
<circle cx="256.06" cy="76.96" r="0.62" fill="#7f4fbf"/>
<circle cx="256.56" cy="82.21" r="0.62" fill="#7f4fbf"/>
<circle cx="253.32" cy="77.51" r="0.62" fill="#7f4fbf"/>
<circle cx="258.95" cy="80.12" r="0.62" fill="#7f4fbf"/>
<circle cx="263.01" cy="79.83" r="0.62" fill="#7f4fbf"/>
<circle cx="255.96" cy="83.29" r="0.62" fill="#7f4fbf"/>
<circle cx="258.19" cy="85.65" r="0.62" fill="#7f4fbf"/>
<circle cx="257.71" cy="83.24" r="0.62" fill="#7f4fbf"/>
<circle cx="258.48" cy="85.41" r="0.62" fill="#7f4fbf"/>
<circle cx="258.22" cy="83.29" r="0.62" fill="#7f4fbf"/>
<circle cx="261.16" cy="78.31" r="0.62" fill="#7f4fbf"/>
<circle cx="257.44" cy="74.88" r="0.62" fill="#7f4fbf"/>
<circle cx="262.84" cy="77.91" r="0.62" fill="#7f4fbf"/>
<circle cx="256.08" cy="77.72" r="0.62" fill="#7f4fbf"/>
<circle cx="261.75" cy="74.78" r="0.62" fill="#7f4fbf"/>
<circle cx="257.5" cy="83.98" r="0.62" fill="#7f4fbf"/>
<circle cx="254.39" cy="79.66" r="0.62" fill="#7f4fbf"/>
<circle cx="260" cy="74.65" r="0.62" fill="#7f4fbf"/>
<circle cx="257.46" cy="81.38" r="0.62" fill="#7f4fbf"/>
<circle cx="258.48" cy="75.18" r="0.62" fill="#7f4fbf"/>
<circle cx="260.03" cy="79.03" r="0.62" fill="#7f4fbf"/>
<circle cx="257.05" cy="85.8" r="0.62" fill="#7f4fbf"/>
<circle cx="262.74" cy="77.7" r="0.62" fill="#7f4fbf"/>
<circle cx="256.67" cy="75.26" r="0.62" fill="#7f4fbf"/>
<circle cx="259.14" cy="77.23" r="0.62" fill="#7f4fbf"/>
<circle cx="257.48" cy="79.59" r="0.62" fill="#7f4fbf"/>
<circle cx="263.84" cy="82.13" r="0.62" fill="#7f4fbf"/>
<circle cx="257.05" cy="75" r="0.62" fill="#7f4fbf"/>
<circle cx="261.64" cy="81.18" r="0.62" fill="#7f4fbf"/>
<circle cx="256.2" cy="77.8" r="0.62" fill="#7f4fbf"/>
<circle cx="257.53" cy="78.82" r="0.62" fill="#7f4fbf"/>
<circle cx="255.14" cy="78.28" r="0.62" fill="#7f4fbf"/>
<circle cx="262.87" cy="84.5" r="0.62" fill="#7f4fbf"/>
<circle cx="259.45" cy="86.18" r="0.62" fill="#7f4fbf"/>
<circle cx="257.72" cy="77.42" r="0.62" fill="#7f4fbf"/>
<circle cx="255.31" cy="78.25" r="0.62" fill="#7f4fbf"/>
<circle cx="260.78" cy="85.87" r="0.62" fill="#7f4fbf"/>
<circle cx="260.22" cy="74.72" r="0.62" fill="#7f4fbf"/>
<circle cx="262.71" cy="80.66" r="0.62" fill="#7f4fbf"/>
<circle cx="254.52" cy="80.42" r="0.62" fill="#7f4fbf"/>
<circle cx="256.91" cy="83.61" r="0.62" fill="#7f4fbf"/>
<circle cx="257.05" cy="80.89" r="0.62" fill="#7f4fbf"/>
<circle cx="258.8" cy="72.63" r="0.62" fill="#7f4fbf"/>
<circle cx="256.1" cy="75.35" r="0.62" fill="#7f4fbf"/>
<circle cx="260.1" cy="86" r="0.62" fill="#7f4fbf"/>
<circle cx="256.92" cy="79.29" r="0.62" fill="#7f4fbf"/>
<circle cx="261.78" cy="83.26" r="0.62" fill="#7f4fbf"/>
<circle cx="257.96" cy="74.11" r="0.62" fill="#7f4fbf"/>
<circle cx="253.91" cy="81.69" r="0.62" fill="#7f4fbf"/>
<circle cx="260.98" cy="83.76" r="0.62" fill="#7f4fbf"/>
<circle cx="258.15" cy="77.72" r="0.62" fill="#7f4fbf"/>
<circle cx="254.11" cy="77.97" r="0.62" fill="#7f4fbf"/>
<circle cx="257.73" cy="82.89" r="0.62" fill="#7f4fbf"/>
<circle cx="256.96" cy="85.01" r="0.62" fill="#7f4fbf"/>
<circle cx="256.57" cy="76.54" r="0.62" fill="#7f4fbf"/>
<circle cx="259.05" cy="80.38" r="0.62" fill="#7f4fbf"/>
<circle cx="263.59" cy="79.6" r="0.62" fill="#7f4fbf"/>
<circle cx="264.65" cy="78.6" r="0.62" fill="#7f4fbf"/>
<circle cx="263.72" cy="79.77" r="0.62" fill="#7f4fbf"/>
<circle cx="254.67" cy="82.47" r="0.62" fill="#7f4fbf"/>
<circle cx="261.35" cy="83.38" r="0.62" fill="#7f4fbf"/>
<circle cx="261.75" cy="74.42" r="0.62" fill="#7f4fbf"/>
<circle cx="247.47" cy="100.87" r="0.62" fill="#7f4fbf"/>
<circle cx="248.21" cy="98.49" r="0.62" fill="#7f4fbf"/>
<circle cx="249.55" cy="99.63" r="0.62" fill="#7f4fbf"/>
<circle cx="252.79" cy="99.8" r="0.62" fill="#7f4fbf"/>
<circle cx="250.48" cy="96.82" r="0.62" fill="#7f4fbf"/>
<circle cx="249.27" cy="104.28" r="0.62" fill="#7f4fbf"/>
<circle cx="249.89" cy="103.42" r="0.62" fill="#7f4fbf"/>
<circle cx="250.37" cy="101.02" r="0.62" fill="#7f4fbf"/>
<circle cx="251.24" cy="102.82" r="0.62" fill="#7f4fbf"/>
<circle cx="250.91" cy="100.31" r="0.62" fill="#7f4fbf"/>
<circle cx="248.27" cy="94.89" r="0.62" fill="#7f4fbf"/>
<circle cx="250" cy="99.11" r="0.62" fill="#7f4fbf"/>
<circle cx="247.43" cy="103.8" r="0.62" fill="#7f4fbf"/>
<circle cx="250.26" cy="102.72" r="0.62" fill="#7f4fbf"/>
<circle cx="247.52" cy="102.94" r="0.62" fill="#7f4fbf"/>
<circle cx="249.76" cy="102.24" r="0.62" fill="#7f4fbf"/>
<circle cx="249.36" cy="105.86" r="0.62" fill="#7f4fbf"/>
<circle cx="246.34" cy="102.36" r="0.62" fill="#7f4fbf"/>
<circle cx="250.57" cy="104.12" r="0.62" fill="#7f4fbf"/>
<circle cx="251.3" cy="100.61" r="0.62" fill="#7f4fbf"/>
<circle cx="250.25" cy="105.63" r="0.62" fill="#7f4fbf"/>
<circle cx="253.02" cy="100.86" r="0.62" fill="#7f4fbf"/>
<circle cx="250.39" cy="101.55" r="0.62" fill="#7f4fbf"/>
<circle cx="253.82" cy="100.82" r="0.62" fill="#7f4fbf"/>
<circle cx="253.81" cy="106.01" r="0.62" fill="#7f4fbf"/>
<circle cx="258.46" cy="71.65" r="0.62" fill="#c99a8c"/>
<circle cx="256.05" cy="69.71" r="0.62" fill="#c99a8c"/>
<circle cx="265.56" cy="67.14" r="0.62" fill="#c99a8c"/>
<circle cx="260.81" cy="65.07" r="0.62" fill="#c99a8c"/>
<circle cx="263.66" cy="65.77" r="0.62" fill="#c99a8c"/>
<circle cx="260.6" cy="67.57" r="0.62" fill="#c99a8c"/>
<circle cx="258.16" cy="70.85" r="0.62" fill="#c99a8c"/>
<circle cx="260.55" cy="65.48" r="0.62" fill="#c99a8c"/>
<circle cx="258.56" cy="70.98" r="0.62" fill="#c99a8c"/>
<circle cx="262.68" cy="69.24" r="0.62" fill="#c99a8c"/>
<circle cx="259.1" cy="66.85" r="0.62" fill="#c99a8c"/>
<circle cx="262" cy="64.59" r="0.62" fill="#c99a8c"/>
<circle cx="260.6" cy="65.77" r="0.62" fill="#c99a8c"/>
<circle cx="260.03" cy="65.84" r="0.62" fill="#c99a8c"/>
<circle cx="263.71" cy="70.74" r="0.62" fill="#c99a8c"/>
<circle cx="259.65" cy="70.85" r="0.62" fill="#c99a8c"/>
<circle cx="258.4" cy="66.73" r="0.62" fill="#c99a8c"/>
<circle cx="261.48" cy="69.81" r="0.62" fill="#c99a8c"/>
<circle cx="263.58" cy="65.94" r="0.62" fill="#c99a8c"/>
<circle cx="262.5" cy="70.3" r="0.62" fill="#c99a8c"/>
<circle cx="257.25" cy="69.35" r="0.62" fill="#c99a8c"/>
<circle cx="259.35" cy="67.68" r="0.62" fill="#c99a8c"/>
<circle cx="262.94" cy="64.7" r="0.62" fill="#c99a8c"/>
<circle cx="257.36" cy="68.35" r="0.62" fill="#c99a8c"/>
<circle cx="268.11" cy="65.89" r="0.62" fill="#c99a8c"/>
<circle cx="257.68" cy="73.21" r="0.62" fill="#c99a8c"/>
<circle cx="258.26" cy="69.88" r="0.62" fill="#c99a8c"/>
<circle cx="254.22" cy="72.48" r="0.62" fill="#c99a8c"/>
<circle cx="255.47" cy="71.72" r="0.62" fill="#c99a8c"/>
<circle cx="258.04" cy="66.56" r="0.62" fill="#c99a8c"/>
<circle cx="264.86" cy="68.02" r="0.62" fill="#c99a8c"/>
<circle cx="258.65" cy="69.89" r="0.62" fill="#c99a8c"/>
<circle cx="266.16" cy="68.56" r="0.62" fill="#c99a8c"/>
<circle cx="254.76" cy="68.85" r="0.62" fill="#c99a8c"/>
<circle cx="262.51" cy="67.64" r="0.62" fill="#c99a8c"/>
<circle cx="267.61" cy="69.07" r="0.62" fill="#c99a8c"/>
<circle cx="266.03" cy="67.73" r="0.62" fill="#c99a8c"/>
<circle cx="258.68" cy="72.58" r="0.62" fill="#c99a8c"/>
<circle cx="263.12" cy="65.3" r="0.62" fill="#c99a8c"/>
<circle cx="262.52" cy="69.03" r="0.62" fill="#c99a8c"/>
<circle cx="260.72" cy="65.63" r="0.62" fill="#c99a8c"/>
<circle cx="266.66" cy="66.63" r="0.62" fill="#c99a8c"/>
<circle cx="258.75" cy="64.69" r="0.62" fill="#c99a8c"/>
<circle cx="267.83" cy="64.11" r="0.62" fill="#c99a8c"/>
<circle cx="254.63" cy="70.81" r="0.62" fill="#c99a8c"/>
<circle cx="259.46" cy="65.82" r="0.62" fill="#c99a8c"/>
<circle cx="256.13" cy="71.89" r="0.62" fill="#c99a8c"/>
<circle cx="255.08" cy="68.71" r="0.62" fill="#c99a8c"/>
<circle cx="257.98" cy="70.8" r="0.62" fill="#c99a8c"/>
<circle cx="254.38" cy="70.43" r="0.62" fill="#c99a8c"/>
<circle cx="256.68" cy="72.81" r="0.62" fill="#c99a8c"/>
<circle cx="256.13" cy="69.51" r="0.62" fill="#c99a8c"/>
<circle cx="259.94" cy="66.91" r="0.62" fill="#c99a8c"/>
<circle cx="266.38" cy="63.1" r="0.62" fill="#c99a8c"/>
<circle cx="261.87" cy="68.6" r="0.62" fill="#c99a8c"/>
<circle cx="259.18" cy="72.43" r="0.62" fill="#c99a8c"/>
<circle cx="261.04" cy="69.59" r="0.62" fill="#c99a8c"/>
<circle cx="264.29" cy="69.38" r="0.62" fill="#c99a8c"/>
<circle cx="263.39" cy="67.22" r="0.62" fill="#c99a8c"/>
<circle cx="263.29" cy="68.45" r="0.62" fill="#c99a8c"/>
<circle cx="260.2" cy="64.8" r="0.62" fill="#c99a8c"/>
<circle cx="260.84" cy="71.69" r="0.62" fill="#c99a8c"/>
<circle cx="261.28" cy="70.23" r="0.62" fill="#c99a8c"/>
<circle cx="267.8" cy="64.78" r="0.62" fill="#c99a8c"/>
<circle cx="259.98" cy="66.16" r="0.62" fill="#c99a8c"/>
<circle cx="262.35" cy="65.44" r="0.62" fill="#c99a8c"/>
<circle cx="253.52" cy="71.66" r="0.62" fill="#c99a8c"/>
<circle cx="260.12" cy="67.48" r="0.62" fill="#c99a8c"/>
<circle cx="265.11" cy="68.43" r="0.62" fill="#c99a8c"/>
<circle cx="265.81" cy="69.5" r="0.62" fill="#c99a8c"/>
<circle cx="272.16" cy="69.1" r="0.62" fill="#8edc80"/>
<circle cx="276.26" cy="71.12" r="0.62" fill="#8edc80"/>
<circle cx="284.06" cy="80.44" r="0.62" fill="#8edc80"/>
<circle cx="269.99" cy="70.39" r="0.62" fill="#8edc80"/>
<circle cx="265.99" cy="67.56" r="0.62" fill="#8edc80"/>
<circle cx="278.76" cy="68.84" r="0.62" fill="#8edc80"/>
<circle cx="272.42" cy="74.37" r="0.62" fill="#8edc80"/>
<circle cx="279.32" cy="72.49" r="0.62" fill="#8edc80"/>
<circle cx="283.02" cy="74.73" r="0.62" fill="#8edc80"/>
<circle cx="272.49" cy="75.95" r="0.62" fill="#8edc80"/>
<circle cx="279.93" cy="75.14" r="0.62" fill="#8edc80"/>
<circle cx="266.71" cy="73.88" r="0.62" fill="#8edc80"/>
<circle cx="277.34" cy="74.33" r="0.62" fill="#8edc80"/>
<circle cx="281.56" cy="77.43" r="0.62" fill="#8edc80"/>
<circle cx="268.17" cy="72.89" r="0.62" fill="#8edc80"/>
<circle cx="279.58" cy="81.42" r="0.62" fill="#8edc80"/>
<circle cx="276.46" cy="72.3" r="0.62" fill="#8edc80"/>
<circle cx="279.81" cy="70.4" r="0.62" fill="#8edc80"/>
<circle cx="270.14" cy="76.62" r="0.62" fill="#8edc80"/>
<circle cx="278.4" cy="77.84" r="0.62" fill="#8edc80"/>
<circle cx="278.11" cy="73.75" r="0.62" fill="#8edc80"/>
<circle cx="271.12" cy="73.84" r="0.62" fill="#8edc80"/>
<circle cx="268.93" cy="75.5" r="0.62" fill="#8edc80"/>
<circle cx="278.95" cy="73.96" r="0.62" fill="#8edc80"/>
<circle cx="279.02" cy="73.34" r="0.62" fill="#8edc80"/>
<circle cx="276.25" cy="77.24" r="0.62" fill="#8edc80"/>
<circle cx="279.55" cy="78.17" r="0.62" fill="#8edc80"/>
<circle cx="274.59" cy="64.63" r="0.62" fill="#8edc80"/>
<circle cx="268.96" cy="74.04" r="0.62" fill="#8edc80"/>
<circle cx="274.77" cy="72.22" r="0.62" fill="#8edc80"/>
<circle cx="275.87" cy="79.96" r="0.62" fill="#8edc80"/>
<circle cx="272.62" cy="73.73" r="0.62" fill="#8edc80"/>
<circle cx="271.16" cy="76.6" r="0.62" fill="#8edc80"/>
<circle cx="274.82" cy="74.78" r="0.62" fill="#8edc80"/>
<circle cx="270.73" cy="67.24" r="0.62" fill="#8edc80"/>
<circle cx="275.13" cy="80.35" r="0.62" fill="#8edc80"/>
<circle cx="282.42" cy="67.68" r="0.62" fill="#8edc80"/>
<circle cx="270.06" cy="72.68" r="0.62" fill="#8edc80"/>
<circle cx="286.53" cy="75.54" r="0.62" fill="#8edc80"/>
<circle cx="267.22" cy="68.59" r="0.62" fill="#8edc80"/>
<circle cx="271.36" cy="78.31" r="0.62" fill="#8edc80"/>
<circle cx="276.61" cy="65.23" r="0.62" fill="#8edc80"/>
<circle cx="286.42" cy="78.59" r="0.62" fill="#8edc80"/>
<circle cx="273.85" cy="66.86" r="0.62" fill="#8edc80"/>
<circle cx="273.02" cy="79.22" r="0.62" fill="#8edc80"/>
<circle cx="277.59" cy="80.97" r="0.62" fill="#8edc80"/>
<circle cx="276.97" cy="75.61" r="0.62" fill="#8edc80"/>
<circle cx="278.75" cy="68.73" r="0.62" fill="#8edc80"/>
<circle cx="273.46" cy="69.33" r="0.62" fill="#8edc80"/>
<circle cx="272.16" cy="70.09" r="0.62" fill="#8edc80"/>
<circle cx="285.12" cy="75.27" r="0.62" fill="#8edc80"/>
<circle cx="273.52" cy="68.9" r="0.62" fill="#8edc80"/>
<circle cx="286.22" cy="71.22" r="0.62" fill="#8edc80"/>
<circle cx="284.5" cy="67.84" r="0.62" fill="#8edc80"/>
<circle cx="276.87" cy="78.36" r="0.62" fill="#8edc80"/>
<circle cx="284.59" cy="70.79" r="0.62" fill="#8edc80"/>
<circle cx="270.2" cy="73.73" r="0.62" fill="#8edc80"/>
<circle cx="283.1" cy="72.34" r="0.62" fill="#8edc80"/>
<circle cx="267.13" cy="69.9" r="0.62" fill="#8edc80"/>
<circle cx="277.97" cy="67.45" r="0.62" fill="#8edc80"/>
<circle cx="276.3" cy="80.54" r="0.62" fill="#8edc80"/>
<circle cx="266.89" cy="68.07" r="0.62" fill="#8edc80"/>
<circle cx="273.25" cy="73.52" r="0.62" fill="#8edc80"/>
<circle cx="274.82" cy="79.02" r="0.62" fill="#8edc80"/>
<circle cx="273.04" cy="67.69" r="0.62" fill="#8edc80"/>
<circle cx="281.4" cy="72.46" r="0.62" fill="#8edc80"/>
<circle cx="275.14" cy="64.72" r="0.62" fill="#8edc80"/>
<circle cx="279.48" cy="77.28" r="0.62" fill="#8edc80"/>
<circle cx="279.7" cy="74.63" r="0.62" fill="#8edc80"/>
<circle cx="281.68" cy="72.14" r="0.62" fill="#8edc80"/>
<circle cx="269.83" cy="75.06" r="0.62" fill="#8edc80"/>
<circle cx="280.18" cy="70.13" r="0.62" fill="#8edc80"/>
<circle cx="276.86" cy="82.19" r="0.62" fill="#8edc80"/>
<circle cx="272.02" cy="78.22" r="0.62" fill="#8edc80"/>
<circle cx="284.11" cy="70.29" r="0.62" fill="#8edc80"/>
<circle cx="273.22" cy="73.71" r="0.62" fill="#8edc80"/>
<circle cx="268.06" cy="76.05" r="0.62" fill="#8edc80"/>
<circle cx="283.01" cy="71.08" r="0.62" fill="#8edc80"/>
<circle cx="282.61" cy="71.8" r="0.62" fill="#8edc80"/>
<circle cx="282.68" cy="71.18" r="0.62" fill="#8edc80"/>
<circle cx="283.64" cy="72.78" r="0.62" fill="#8edc80"/>
<circle cx="269.02" cy="75.48" r="0.62" fill="#8edc80"/>
<circle cx="270.72" cy="78.84" r="0.62" fill="#8edc80"/>
<circle cx="275.7" cy="77.98" r="0.62" fill="#8edc80"/>
<circle cx="271.55" cy="68.45" r="0.62" fill="#8edc80"/>
<circle cx="272.85" cy="71.72" r="0.62" fill="#8edc80"/>
<circle cx="283.86" cy="72.37" r="0.62" fill="#8edc80"/>
<circle cx="285.77" cy="76.62" r="0.62" fill="#8edc80"/>
<circle cx="275.2" cy="79.74" r="0.62" fill="#8edc80"/>
<circle cx="275.93" cy="68.78" r="0.62" fill="#8edc80"/>
<circle cx="274.97" cy="75.97" r="0.62" fill="#8edc80"/>
<circle cx="284.3" cy="76.87" r="0.62" fill="#8edc80"/>
<circle cx="279.66" cy="76.85" r="0.62" fill="#8edc80"/>
<circle cx="267.81" cy="71.33" r="0.62" fill="#8edc80"/>
<circle cx="284.2" cy="67.03" r="0.62" fill="#8edc80"/>
<circle cx="272.8" cy="79.28" r="0.62" fill="#8edc80"/>
<circle cx="276.21" cy="65.86" r="0.62" fill="#8edc80"/>
<circle cx="275.72" cy="77.03" r="0.62" fill="#8edc80"/>
<circle cx="279.74" cy="69.81" r="0.62" fill="#8edc80"/>
<circle cx="270.92" cy="73.62" r="0.62" fill="#8edc80"/>
<circle cx="276.15" cy="65.42" r="0.62" fill="#8edc80"/>
<circle cx="281.97" cy="75.66" r="0.62" fill="#8edc80"/>
<circle cx="273.13" cy="73.72" r="0.62" fill="#8edc80"/>
<circle cx="273.49" cy="74.9" r="0.62" fill="#8edc80"/>
<circle cx="279.03" cy="76.33" r="0.62" fill="#8edc80"/>
<circle cx="282.05" cy="70.29" r="0.62" fill="#8edc80"/>
<circle cx="277.15" cy="71.12" r="0.62" fill="#8edc80"/>
<circle cx="279.66" cy="65.18" r="0.62" fill="#8edc80"/>
<circle cx="279.47" cy="73.59" r="0.62" fill="#8edc80"/>
<circle cx="267.12" cy="75.91" r="0.62" fill="#8edc80"/>
<circle cx="265.29" cy="74.93" r="0.62" fill="#8edc80"/>
<circle cx="269.21" cy="74.24" r="0.62" fill="#8edc80"/>
<circle cx="279.56" cy="65.51" r="0.62" fill="#8edc80"/>
<circle cx="283.81" cy="78.65" r="0.62" fill="#8edc80"/>
<circle cx="273.94" cy="65.99" r="0.62" fill="#8edc80"/>
<circle cx="285.67" cy="72.45" r="0.62" fill="#8edc80"/>
<circle cx="274.73" cy="74.6" r="0.62" fill="#8edc80"/>
<circle cx="276.94" cy="82.42" r="0.62" fill="#8edc80"/>
<circle cx="268.46" cy="72.11" r="0.62" fill="#8edc80"/>
<circle cx="283.42" cy="70.68" r="0.62" fill="#8edc80"/>
<circle cx="269.53" cy="77.12" r="0.62" fill="#8edc80"/>
<circle cx="270.14" cy="75.2" r="0.62" fill="#8edc80"/>
<circle cx="268.29" cy="72.66" r="0.62" fill="#8edc80"/>
<circle cx="273.7" cy="68.55" r="0.62" fill="#8edc80"/>
<circle cx="275.51" cy="67.38" r="0.62" fill="#8edc80"/>
<circle cx="273.68" cy="77.36" r="0.62" fill="#8edc80"/>
<circle cx="271.07" cy="79.03" r="0.62" fill="#8edc80"/>
<circle cx="271.3" cy="75.67" r="0.62" fill="#8edc80"/>
<circle cx="273.6" cy="73.75" r="0.62" fill="#8edc80"/>
<circle cx="267.9" cy="74.05" r="0.62" fill="#8edc80"/>
<circle cx="272.29" cy="71.16" r="0.62" fill="#8edc80"/>
<circle cx="278.95" cy="73.24" r="0.62" fill="#8edc80"/>
<circle cx="281.41" cy="77.74" r="0.62" fill="#8edc80"/>
<circle cx="282.99" cy="75.49" r="0.62" fill="#8edc80"/>
<circle cx="273.62" cy="78.09" r="0.62" fill="#8edc80"/>
<circle cx="276.08" cy="68.67" r="0.62" fill="#8edc80"/>
<circle cx="274.43" cy="76.54" r="0.62" fill="#8edc80"/>
<circle cx="280.4" cy="80.17" r="0.62" fill="#8edc80"/>
<circle cx="282.37" cy="78.96" r="0.62" fill="#8edc80"/>
<circle cx="281.55" cy="71.15" r="0.62" fill="#8edc80"/>
<circle cx="283.78" cy="68.74" r="0.62" fill="#8edc80"/>
<circle cx="276.99" cy="74.2" r="0.62" fill="#8edc80"/>
<circle cx="273.64" cy="75.41" r="0.62" fill="#8edc80"/>
<circle cx="277.64" cy="69.98" r="0.62" fill="#8edc80"/>
<circle cx="274.8" cy="74.34" r="0.62" fill="#8edc80"/>
<circle cx="281.49" cy="68.82" r="0.62" fill="#8edc80"/>
<circle cx="269.27" cy="70.3" r="0.62" fill="#8edc80"/>
<circle cx="271.64" cy="78.33" r="0.62" fill="#8edc80"/>
<circle cx="274.53" cy="72.94" r="0.62" fill="#8edc80"/>
<circle cx="277.67" cy="75.85" r="0.62" fill="#8edc80"/>
<circle cx="280.67" cy="79.2" r="0.62" fill="#8edc80"/>
<circle cx="270.4" cy="72.5" r="0.62" fill="#8edc80"/>
<circle cx="280.56" cy="71.79" r="0.62" fill="#8edc80"/>
<circle cx="276.94" cy="80.31" r="0.62" fill="#8edc80"/>
<circle cx="283.37" cy="70.46" r="0.62" fill="#8edc80"/>
<circle cx="279.3" cy="73.12" r="0.62" fill="#8edc80"/>
<circle cx="272.71" cy="75.77" r="0.62" fill="#8edc80"/>
<circle cx="280.7" cy="67.38" r="0.62" fill="#8edc80"/>
<circle cx="266.04" cy="75.56" r="0.62" fill="#8edc80"/>
<circle cx="276.28" cy="76.01" r="0.62" fill="#8edc80"/>
<circle cx="274.54" cy="75.4" r="0.62" fill="#8edc80"/>
<circle cx="272.81" cy="73.5" r="0.62" fill="#8edc80"/>
<circle cx="269.65" cy="77.67" r="0.62" fill="#8edc80"/>
<circle cx="266.68" cy="78.83" r="0.62" fill="#8edc80"/>
<circle cx="283.59" cy="78.84" r="0.62" fill="#8edc80"/>
<circle cx="274.28" cy="65.86" r="0.62" fill="#8edc80"/>
<circle cx="276.74" cy="75.01" r="0.62" fill="#8edc80"/>
<circle cx="277.84" cy="66.79" r="0.62" fill="#8edc80"/>
<circle cx="280.9" cy="68.6" r="0.62" fill="#8edc80"/>
<circle cx="281.98" cy="69.71" r="0.62" fill="#8edc80"/>
<circle cx="278.57" cy="64.39" r="0.62" fill="#8edc80"/>
<circle cx="285.03" cy="69.47" r="0.62" fill="#8edc80"/>
<circle cx="276.72" cy="69.96" r="0.62" fill="#8edc80"/>
<circle cx="278.91" cy="75.35" r="0.62" fill="#8edc80"/>
<circle cx="276.56" cy="78.95" r="0.62" fill="#8edc80"/>
<circle cx="281.13" cy="76.76" r="0.62" fill="#8edc80"/>
<circle cx="280.14" cy="72.97" r="0.62" fill="#8edc80"/>
<circle cx="280.45" cy="78.6" r="0.62" fill="#8edc80"/>
<circle cx="274.95" cy="81.34" r="0.62" fill="#8edc80"/>
<circle cx="268.63" cy="77.58" r="0.62" fill="#8edc80"/>
<circle cx="282.1" cy="78.28" r="0.62" fill="#8edc80"/>
<circle cx="273.91" cy="76.03" r="0.62" fill="#8edc80"/>
<circle cx="282.03" cy="70.13" r="0.62" fill="#8edc80"/>
<circle cx="280.28" cy="71.89" r="0.62" fill="#8edc80"/>
<circle cx="272.02" cy="76.14" r="0.62" fill="#8edc80"/>
<circle cx="283.38" cy="78.74" r="0.62" fill="#8edc80"/>
<circle cx="288.29" cy="70.92" r="0.62" fill="#8edc80"/>
<circle cx="272.54" cy="80.39" r="0.62" fill="#8edc80"/>
<circle cx="284.83" cy="68.14" r="0.62" fill="#8edc80"/>
<circle cx="277.19" cy="72.1" r="0.62" fill="#8edc80"/>
<circle cx="279.77" cy="68.11" r="0.62" fill="#8edc80"/>
<circle cx="285.37" cy="75.35" r="0.62" fill="#8edc80"/>
<circle cx="272.98" cy="68.84" r="0.62" fill="#8edc80"/>
<circle cx="275.54" cy="72.87" r="0.62" fill="#8edc80"/>
<circle cx="271.93" cy="73.94" r="0.62" fill="#8edc80"/>
<circle cx="284.83" cy="74.49" r="0.62" fill="#8edc80"/>
<circle cx="285.42" cy="69.38" r="0.62" fill="#8edc80"/>
<circle cx="267.7" cy="68.4" r="0.62" fill="#8edc80"/>
<circle cx="267.68" cy="76.29" r="0.62" fill="#8edc80"/>
<circle cx="267.47" cy="75.84" r="0.62" fill="#8edc80"/>
<circle cx="274.65" cy="81.38" r="0.62" fill="#8edc80"/>
<circle cx="282.12" cy="88.75" r="0.62" fill="#8edc80"/>
<circle cx="280.87" cy="79.19" r="0.62" fill="#8edc80"/>
<circle cx="273.18" cy="88.65" r="0.62" fill="#8edc80"/>
<circle cx="276.68" cy="81.21" r="0.62" fill="#8edc80"/>
<circle cx="279.76" cy="81.37" r="0.62" fill="#8edc80"/>
<circle cx="276.41" cy="82.53" r="0.62" fill="#8edc80"/>
<circle cx="274.86" cy="90.93" r="0.62" fill="#8edc80"/>
<circle cx="279.75" cy="89.19" r="0.62" fill="#8edc80"/>
<circle cx="281.71" cy="87.47" r="0.62" fill="#8edc80"/>
<circle cx="273.5" cy="83.97" r="0.62" fill="#8edc80"/>
<circle cx="279.42" cy="92.43" r="0.62" fill="#8edc80"/>
<circle cx="277.26" cy="81.59" r="0.62" fill="#8edc80"/>
<circle cx="277.95" cy="85.65" r="0.62" fill="#8edc80"/>
<circle cx="276.87" cy="85.21" r="0.62" fill="#8edc80"/>
<circle cx="278.3" cy="84.2" r="0.62" fill="#8edc80"/>
<circle cx="274.02" cy="84.65" r="0.62" fill="#8edc80"/>
<circle cx="280.98" cy="86.48" r="0.62" fill="#8edc80"/>
<circle cx="277.51" cy="81.13" r="0.62" fill="#8edc80"/>
<circle cx="275.83" cy="79.49" r="0.62" fill="#8edc80"/>
<circle cx="278.46" cy="89.54" r="0.62" fill="#8edc80"/>
<circle cx="283.48" cy="82.45" r="0.62" fill="#8edc80"/>
<circle cx="276.45" cy="84.13" r="0.62" fill="#8edc80"/>
<circle cx="279.86" cy="87.97" r="0.62" fill="#8edc80"/>
<circle cx="281.77" cy="87.79" r="0.62" fill="#8edc80"/>
<circle cx="280.41" cy="93.9" r="0.62" fill="#8edc80"/>
<circle cx="274.2" cy="94.31" r="0.62" fill="#8edc80"/>
<circle cx="274.45" cy="84.67" r="0.62" fill="#8edc80"/>
<circle cx="277.44" cy="79.56" r="0.62" fill="#8edc80"/>
<circle cx="274.92" cy="86.48" r="0.62" fill="#8edc80"/>
<circle cx="281.11" cy="90.87" r="0.62" fill="#8edc80"/>
<circle cx="276.86" cy="83.15" r="0.62" fill="#8edc80"/>
<circle cx="280.37" cy="79.12" r="0.62" fill="#8edc80"/>
<circle cx="274.8" cy="84.27" r="0.62" fill="#8edc80"/>
<circle cx="277.95" cy="92.18" r="0.62" fill="#8edc80"/>
<circle cx="278.59" cy="82.07" r="0.62" fill="#8edc80"/>
<circle cx="281.55" cy="88.96" r="0.62" fill="#8edc80"/>
<circle cx="281.99" cy="82.5" r="0.62" fill="#8edc80"/>
<circle cx="281.35" cy="79.26" r="0.62" fill="#8edc80"/>
<circle cx="275.72" cy="90.48" r="0.62" fill="#8edc80"/>
<circle cx="277.77" cy="81.72" r="0.62" fill="#8edc80"/>
<circle cx="278.54" cy="80.09" r="0.62" fill="#8edc80"/>
<circle cx="280.72" cy="87.45" r="0.62" fill="#8edc80"/>
<circle cx="276.97" cy="80.69" r="0.62" fill="#8edc80"/>
<circle cx="271.82" cy="83.19" r="0.62" fill="#8edc80"/>
<circle cx="281.02" cy="91.22" r="0.62" fill="#8edc80"/>
<circle cx="279.22" cy="90.55" r="0.62" fill="#8edc80"/>
<circle cx="274.97" cy="83.87" r="0.62" fill="#8edc80"/>
<circle cx="278.32" cy="90.43" r="0.62" fill="#8edc80"/>
<circle cx="276.8" cy="82.02" r="0.62" fill="#8edc80"/>
<circle cx="282.86" cy="82.36" r="0.62" fill="#8edc80"/>
<circle cx="278.84" cy="82.7" r="0.62" fill="#8edc80"/>
<circle cx="278.05" cy="80.53" r="0.62" fill="#8edc80"/>
<circle cx="277.9" cy="80.71" r="0.62" fill="#8edc80"/>
<circle cx="275.38" cy="78.94" r="0.62" fill="#8edc80"/>
<circle cx="279.19" cy="89.76" r="0.62" fill="#8edc80"/>
<circle cx="274.33" cy="82.99" r="0.62" fill="#8edc80"/>
<circle cx="278.5" cy="79.42" r="0.62" fill="#8edc80"/>
<circle cx="280.6" cy="82.48" r="0.62" fill="#8edc80"/>
<circle cx="282.24" cy="85.1" r="0.62" fill="#8edc80"/>
<circle cx="275.34" cy="88.33" r="0.62" fill="#8edc80"/>
<circle cx="282.68" cy="84.89" r="0.62" fill="#8edc80"/>
<circle cx="276.1" cy="85.46" r="0.62" fill="#8edc80"/>
<circle cx="280.03" cy="93.65" r="0.62" fill="#8edc80"/>
<circle cx="284.32" cy="87.05" r="0.62" fill="#8edc80"/>
<circle cx="280.72" cy="87.55" r="0.62" fill="#8edc80"/>
<circle cx="277.55" cy="84.06" r="0.62" fill="#8edc80"/>
<circle cx="277.33" cy="83.16" r="0.62" fill="#8edc80"/>
<circle cx="277.63" cy="79" r="0.62" fill="#8edc80"/>
<circle cx="282.68" cy="84.49" r="0.62" fill="#8edc80"/>
<circle cx="263.41" cy="37.14" r="0.62" fill="#f88f98"/>
<circle cx="264" cy="44.09" r="0.62" fill="#f88f98"/>
<circle cx="259.92" cy="43.92" r="0.62" fill="#f88f98"/>
<circle cx="256.79" cy="37.43" r="0.62" fill="#f88f98"/>
<circle cx="252.05" cy="37.02" r="0.62" fill="#f88f98"/>
<circle cx="264.6" cy="43.1" r="0.62" fill="#f88f98"/>
<circle cx="261.28" cy="46.43" r="0.62" fill="#f88f98"/>
<circle cx="263.66" cy="36.32" r="0.62" fill="#f88f98"/>
<circle cx="253.07" cy="42.35" r="0.62" fill="#f88f98"/>
<circle cx="251.26" cy="41.97" r="0.62" fill="#f88f98"/>
<circle cx="263.65" cy="42.94" r="0.62" fill="#f88f98"/>
<circle cx="256.76" cy="42.92" r="0.62" fill="#f88f98"/>
<circle cx="253.43" cy="43.15" r="0.62" fill="#f88f98"/>
<circle cx="258.18" cy="42.09" r="0.62" fill="#f88f98"/>
<circle cx="255.48" cy="37.52" r="0.62" fill="#f88f98"/>
<circle cx="264.34" cy="44.73" r="0.62" fill="#f88f98"/>
<circle cx="257.15" cy="39.4" r="0.62" fill="#f88f98"/>
<circle cx="259.06" cy="40.72" r="0.62" fill="#f88f98"/>
<circle cx="256.97" cy="43.9" r="0.62" fill="#f88f98"/>
<circle cx="261.72" cy="46.6" r="0.62" fill="#f88f98"/>
<circle cx="252.96" cy="38.31" r="0.62" fill="#f88f98"/>
<circle cx="253.24" cy="39.82" r="0.62" fill="#f88f98"/>
<circle cx="258.74" cy="43.39" r="0.62" fill="#f88f98"/>
<circle cx="265.91" cy="38.67" r="0.62" fill="#f88f98"/>
<circle cx="254.14" cy="35.2" r="0.62" fill="#f88f98"/>
<circle cx="265.45" cy="40.66" r="0.62" fill="#f88f98"/>
<circle cx="253.44" cy="38.14" r="0.62" fill="#f88f98"/>
<circle cx="262.87" cy="36.89" r="0.62" fill="#f88f98"/>
<circle cx="258.73" cy="36.23" r="0.62" fill="#f88f98"/>
<circle cx="262.17" cy="39.48" r="0.62" fill="#f88f98"/>
<circle cx="259.85" cy="35.2" r="0.62" fill="#f88f98"/>
<circle cx="258.61" cy="39.45" r="0.62" fill="#f88f98"/>
<circle cx="252.02" cy="41.88" r="0.62" fill="#f88f98"/>
<circle cx="253.49" cy="37.14" r="0.62" fill="#f88f98"/>
<circle cx="256.03" cy="44.81" r="0.62" fill="#f88f98"/>
<circle cx="260.68" cy="34.49" r="0.62" fill="#f88f98"/>
<circle cx="262.19" cy="36.46" r="0.62" fill="#f88f98"/>
<circle cx="256.9" cy="45.56" r="0.62" fill="#f88f98"/>
<circle cx="265.26" cy="42.54" r="0.62" fill="#f88f98"/>
<circle cx="256.74" cy="38.84" r="0.62" fill="#f88f98"/>
<circle cx="265.12" cy="36.72" r="0.62" fill="#f88f98"/>
<circle cx="255.46" cy="41.94" r="0.62" fill="#f88f98"/>
<circle cx="257.72" cy="44.46" r="0.62" fill="#f88f98"/>
<circle cx="263.44" cy="40.99" r="0.62" fill="#f88f98"/>
<circle cx="258.34" cy="45.66" r="0.62" fill="#f88f98"/>
<circle cx="252.57" cy="39.59" r="0.62" fill="#f88f98"/>
<circle cx="259.83" cy="47.13" r="0.62" fill="#f88f98"/>
<circle cx="256.11" cy="44.31" r="0.62" fill="#f88f98"/>
<circle cx="256.47" cy="46.3" r="0.62" fill="#f88f98"/>
<circle cx="265.07" cy="41.17" r="0.62" fill="#f88f98"/>
<circle cx="257.29" cy="44.25" r="0.62" fill="#f88f98"/>
<circle cx="262.15" cy="35.82" r="0.62" fill="#f88f98"/>
<circle cx="252.29" cy="38" r="0.62" fill="#f88f98"/>
<circle cx="261.78" cy="44.36" r="0.62" fill="#f88f98"/>
<circle cx="257.65" cy="34.3" r="0.62" fill="#f88f98"/>
<circle cx="265.55" cy="41.92" r="0.62" fill="#f88f98"/>
<circle cx="253.15" cy="41.47" r="0.62" fill="#f88f98"/>
<circle cx="262.47" cy="38.77" r="0.62" fill="#f88f98"/>
<circle cx="254.52" cy="36.04" r="0.62" fill="#f88f98"/>
<circle cx="259.54" cy="39.81" r="0.62" fill="#f88f98"/>
<circle cx="258.21" cy="38.03" r="0.62" fill="#f88f98"/>
<circle cx="255.36" cy="46.29" r="0.62" fill="#f88f98"/>
<circle cx="267.21" cy="39.42" r="0.62" fill="#f88f98"/>
<circle cx="254.14" cy="39.89" r="0.62" fill="#f88f98"/>
<circle cx="256.98" cy="38.62" r="0.62" fill="#f88f98"/>
<circle cx="256.72" cy="46.69" r="0.62" fill="#f88f98"/>
<circle cx="254.78" cy="36.15" r="0.62" fill="#f88f98"/>
<circle cx="260.98" cy="42.1" r="0.62" fill="#f88f98"/>
<circle cx="257.84" cy="40.66" r="0.62" fill="#f88f98"/>
<circle cx="254.32" cy="36.12" r="0.62" fill="#f88f98"/>
<circle cx="258.19" cy="39.26" r="0.62" fill="#f88f98"/>
<circle cx="257.38" cy="37.01" r="0.62" fill="#f88f98"/>
<circle cx="259.29" cy="42.48" r="0.62" fill="#f88f98"/>
<circle cx="256.4" cy="41.13" r="0.62" fill="#f88f98"/>
<circle cx="254.7" cy="35.29" r="0.62" fill="#f88f98"/>
<circle cx="257.84" cy="40.91" r="0.62" fill="#f88f98"/>
<circle cx="260.01" cy="42.45" r="0.62" fill="#f88f98"/>
<circle cx="254.42" cy="38.1" r="0.62" fill="#f88f98"/>
<circle cx="253.9" cy="36.71" r="0.62" fill="#f88f98"/>
<circle cx="261.73" cy="45.02" r="0.62" fill="#f88f98"/>
<circle cx="263.09" cy="36.98" r="0.62" fill="#f88f98"/>
<circle cx="262.54" cy="46.61" r="0.62" fill="#f88f98"/>
<circle cx="256.98" cy="45.18" r="0.62" fill="#f88f98"/>
<circle cx="255.98" cy="34.37" r="0.62" fill="#f88f98"/>
<circle cx="260.18" cy="41.74" r="0.62" fill="#f88f98"/>
<circle cx="260.67" cy="37.32" r="0.62" fill="#f88f98"/>
<circle cx="262.23" cy="35.48" r="0.62" fill="#f88f98"/>
<circle cx="254.59" cy="45.13" r="0.62" fill="#f88f98"/>
<circle cx="261.13" cy="35.72" r="0.62" fill="#f88f98"/>
<circle cx="255.45" cy="40.6" r="0.62" fill="#f88f98"/>
<circle cx="255.76" cy="46.45" r="0.62" fill="#f88f98"/>
<circle cx="265.26" cy="39.42" r="0.62" fill="#f88f98"/>
<circle cx="258.71" cy="41.85" r="0.62" fill="#f88f98"/>
<circle cx="251.53" cy="43.25" r="0.62" fill="#f88f98"/>
<circle cx="257.14" cy="39.02" r="0.62" fill="#f88f98"/>
<circle cx="255.24" cy="37.09" r="0.62" fill="#f88f98"/>
<circle cx="259.76" cy="38.56" r="0.62" fill="#f88f98"/>
<circle cx="266.06" cy="41.99" r="0.62" fill="#f88f98"/>
<circle cx="258.01" cy="37.67" r="0.62" fill="#f88f98"/>
<circle cx="261.56" cy="34.17" r="0.62" fill="#f88f98"/>
<circle cx="260.8" cy="36.19" r="0.62" fill="#f88f98"/>
<circle cx="255.89" cy="44.64" r="0.62" fill="#f88f98"/>
<circle cx="264.81" cy="42.14" r="0.62" fill="#f88f98"/>
<circle cx="260.11" cy="42.43" r="0.62" fill="#f88f98"/>
<circle cx="261.36" cy="43.84" r="0.62" fill="#f88f98"/>
<circle cx="258.08" cy="34.81" r="0.62" fill="#f88f98"/>
<circle cx="252.75" cy="43.83" r="0.62" fill="#f88f98"/>
<circle cx="260.09" cy="45.81" r="0.62" fill="#f88f98"/>
<circle cx="255.19" cy="44.29" r="0.62" fill="#f88f98"/>
<circle cx="258.8" cy="45.91" r="0.62" fill="#f88f98"/>
<circle cx="261.15" cy="36.22" r="0.62" fill="#f88f98"/>
<circle cx="265.63" cy="40.26" r="0.62" fill="#f88f98"/>
<circle cx="264.84" cy="37.9" r="0.62" fill="#f88f98"/>
<circle cx="257.77" cy="44.94" r="0.62" fill="#f88f98"/>
<circle cx="265.09" cy="39.38" r="0.62" fill="#f88f98"/>
<circle cx="258.88" cy="46.07" r="0.62" fill="#f88f98"/>
<circle cx="259" cy="40.57" r="0.62" fill="#f88f98"/>
<circle cx="260.14" cy="43.62" r="0.62" fill="#f88f98"/>
<circle cx="258.69" cy="43.08" r="0.62" fill="#f88f98"/>
<circle cx="254.97" cy="34.51" r="0.62" fill="#f88f98"/>
<circle cx="256.35" cy="42.42" r="0.62" fill="#f88f98"/>
<circle cx="264.37" cy="40.23" r="0.62" fill="#f88f98"/>
<circle cx="253.49" cy="43.17" r="0.62" fill="#f88f98"/>
<circle cx="259.45" cy="41.13" r="0.62" fill="#f88f98"/>
<circle cx="253.14" cy="41.35" r="0.62" fill="#f88f98"/>
<circle cx="265.85" cy="42.06" r="0.62" fill="#f88f98"/>
<circle cx="263.54" cy="37.24" r="0.62" fill="#f88f98"/>
<circle cx="261.18" cy="38.76" r="0.62" fill="#f88f98"/>
<circle cx="261.82" cy="33.97" r="0.62" fill="#f88f98"/>
<circle cx="260.21" cy="44.49" r="0.62" fill="#f88f98"/>
<circle cx="261.75" cy="45.57" r="0.62" fill="#f88f98"/>
<circle cx="250.96" cy="41.24" r="0.62" fill="#f88f98"/>
<circle cx="263.38" cy="42.86" r="0.62" fill="#f88f98"/>
<circle cx="262.39" cy="34.24" r="0.62" fill="#f88f98"/>
<circle cx="253.1" cy="41.61" r="0.62" fill="#f88f98"/>
<circle cx="258.49" cy="44.2" r="0.62" fill="#f88f98"/>
<circle cx="260.52" cy="47.77" r="0.62" fill="#f88f98"/>
<circle cx="259.13" cy="37.02" r="0.62" fill="#f88f98"/>
<circle cx="256.37" cy="47.91" r="0.62" fill="#f88f98"/>
<circle cx="259.45" cy="40.49" r="0.62" fill="#f88f98"/>
<circle cx="257.96" cy="45.84" r="0.62" fill="#f88f98"/>
<circle cx="254.81" cy="46.77" r="0.62" fill="#f88f98"/>
<circle cx="266.19" cy="40.57" r="0.62" fill="#f88f98"/>
<circle cx="262.05" cy="35.22" r="0.62" fill="#f88f98"/>
<circle cx="265.94" cy="36.52" r="0.62" fill="#f88f98"/>
<circle cx="259.05" cy="41.67" r="0.62" fill="#f88f98"/>
<circle cx="253.9" cy="40.07" r="0.62" fill="#f88f98"/>
<circle cx="256.8" cy="35.95" r="0.62" fill="#f88f98"/>
<circle cx="257.09" cy="43.6" r="0.62" fill="#f88f98"/>
<circle cx="261.14" cy="42.77" r="0.62" fill="#f88f98"/>
<circle cx="263.09" cy="46.37" r="0.62" fill="#f88f98"/>
<circle cx="256.37" cy="52.51" r="0.62" fill="#f88f98"/>
<circle cx="252.66" cy="51.9" r="0.62" fill="#f88f98"/>
<circle cx="257.23" cy="43.76" r="0.62" fill="#f88f98"/>
<circle cx="261.35" cy="53.02" r="0.62" fill="#f88f98"/>
<circle cx="257.03" cy="48.43" r="0.62" fill="#f88f98"/>
<circle cx="255.03" cy="48.74" r="0.62" fill="#f88f98"/>
<circle cx="253.39" cy="53.08" r="0.62" fill="#f88f98"/>
<circle cx="220.08" cy="46.86" r="0.62" fill="#1b6db3"/>
<circle cx="226.54" cy="49.88" r="0.62" fill="#1b6db3"/>
<circle cx="219.92" cy="52.43" r="0.62" fill="#1b6db3"/>
<circle cx="215.11" cy="49.9" r="0.62" fill="#1b6db3"/>
<circle cx="224.43" cy="53.47" r="0.62" fill="#1b6db3"/>
<circle cx="224.28" cy="50.9" r="0.62" fill="#1b6db3"/>
<circle cx="220.88" cy="56.99" r="0.62" fill="#1b6db3"/>
<circle cx="223.01" cy="55.38" r="0.62" fill="#1b6db3"/>
<circle cx="222.48" cy="54.49" r="0.62" fill="#1b6db3"/>
<circle cx="217.94" cy="49.68" r="0.62" fill="#1b6db3"/>
<circle cx="222.35" cy="55.25" r="0.62" fill="#1b6db3"/>
<circle cx="223.88" cy="49.73" r="0.62" fill="#1b6db3"/>
<circle cx="226.14" cy="49.07" r="0.62" fill="#1b6db3"/>
<circle cx="228.96" cy="55.46" r="0.62" fill="#1b6db3"/>
<circle cx="224.49" cy="46.74" r="0.62" fill="#1b6db3"/>
<circle cx="221.01" cy="55.17" r="0.62" fill="#1b6db3"/>
<circle cx="223.85" cy="56.88" r="0.62" fill="#1b6db3"/>
<circle cx="216.68" cy="46.63" r="0.62" fill="#1b6db3"/>
<circle cx="216.9" cy="50.35" r="0.62" fill="#1b6db3"/>
<circle cx="224.05" cy="45.74" r="0.62" fill="#1b6db3"/>
<circle cx="223.41" cy="46.36" r="0.62" fill="#1b6db3"/>
<circle cx="217.75" cy="56.89" r="0.62" fill="#1b6db3"/>
<circle cx="225.76" cy="53.83" r="0.62" fill="#1b6db3"/>
<circle cx="228.32" cy="54.93" r="0.62" fill="#1b6db3"/>
<circle cx="228.29" cy="51.23" r="0.62" fill="#1b6db3"/>
<circle cx="213.75" cy="51.37" r="0.62" fill="#1b6db3"/>
<circle cx="218.24" cy="43.4" r="0.62" fill="#1b6db3"/>
<circle cx="214.98" cy="45.84" r="0.62" fill="#1b6db3"/>
<circle cx="219" cy="51.87" r="0.62" fill="#1b6db3"/>
<circle cx="223.17" cy="54.11" r="0.62" fill="#1b6db3"/>
<circle cx="221.85" cy="46.6" r="0.62" fill="#1b6db3"/>
<circle cx="225.31" cy="50.43" r="0.62" fill="#1b6db3"/>
<circle cx="227.83" cy="52.28" r="0.62" fill="#1b6db3"/>
<circle cx="222.97" cy="52.12" r="0.62" fill="#1b6db3"/>
<circle cx="219.26" cy="52.09" r="0.62" fill="#1b6db3"/>
<circle cx="219.45" cy="44.61" r="0.62" fill="#1b6db3"/>
<circle cx="226.18" cy="48.29" r="0.62" fill="#1b6db3"/>
<circle cx="220.34" cy="55.12" r="0.62" fill="#1b6db3"/>
<circle cx="225.1" cy="50.55" r="0.62" fill="#1b6db3"/>
<circle cx="225.17" cy="52.94" r="0.62" fill="#1b6db3"/>
<circle cx="214.41" cy="49.99" r="0.62" fill="#1b6db3"/>
<circle cx="222.28" cy="49.45" r="0.62" fill="#1b6db3"/>
<circle cx="224.46" cy="54.78" r="0.62" fill="#1b6db3"/>
<circle cx="222.5" cy="49.02" r="0.62" fill="#1b6db3"/>
<circle cx="218.44" cy="54.44" r="0.62" fill="#1b6db3"/>
<circle cx="217.69" cy="47.78" r="0.62" fill="#1b6db3"/>
<circle cx="214.61" cy="50.31" r="0.62" fill="#1b6db3"/>
<circle cx="214.64" cy="50.4" r="0.62" fill="#1b6db3"/>
<circle cx="214.03" cy="52" r="0.62" fill="#1b6db3"/>
<circle cx="221.65" cy="56.74" r="0.62" fill="#1b6db3"/>
<circle cx="213.75" cy="47.88" r="0.62" fill="#1b6db3"/>
<circle cx="224.22" cy="46.69" r="0.62" fill="#1b6db3"/>
<circle cx="220.87" cy="51.38" r="0.62" fill="#1b6db3"/>
<circle cx="220.33" cy="45.7" r="0.62" fill="#1b6db3"/>
<circle cx="226.7" cy="55.71" r="0.62" fill="#1b6db3"/>
<circle cx="223.77" cy="52.73" r="0.62" fill="#1b6db3"/>
<circle cx="226.03" cy="49.82" r="0.62" fill="#1b6db3"/>
<circle cx="227.11" cy="55.99" r="0.62" fill="#1b6db3"/>
<circle cx="223.03" cy="50.05" r="0.62" fill="#1b6db3"/>
<circle cx="225.72" cy="49.72" r="0.62" fill="#1b6db3"/>
<circle cx="221.64" cy="50.45" r="0.62" fill="#1b6db3"/>
<circle cx="222.07" cy="46.28" r="0.62" fill="#1b6db3"/>
<circle cx="220.92" cy="47.96" r="0.62" fill="#1b6db3"/>
<circle cx="217.38" cy="47.37" r="0.62" fill="#1b6db3"/>
<circle cx="220.73" cy="47.13" r="0.62" fill="#1b6db3"/>
<circle cx="222.38" cy="50.76" r="0.62" fill="#1b6db3"/>
<circle cx="220.78" cy="43.47" r="0.62" fill="#1b6db3"/>
<circle cx="224.66" cy="49.55" r="0.62" fill="#1b6db3"/>
<circle cx="226.95" cy="57.16" r="0.62" fill="#1b6db3"/>
<circle cx="221.81" cy="48.31" r="0.62" fill="#1b6db3"/>
<circle cx="221.44" cy="51.35" r="0.62" fill="#1b6db3"/>
<circle cx="220.92" cy="47.1" r="0.62" fill="#1b6db3"/>
<circle cx="222.73" cy="46.22" r="0.62" fill="#1b6db3"/>
<circle cx="220.62" cy="44.73" r="0.62" fill="#1b6db3"/>
<circle cx="219.68" cy="55.26" r="0.62" fill="#1b6db3"/>
<circle cx="226.21" cy="56.72" r="0.62" fill="#1b6db3"/>
<circle cx="216.78" cy="48.61" r="0.62" fill="#1b6db3"/>
<circle cx="216.68" cy="48.76" r="0.62" fill="#1b6db3"/>
<circle cx="227.69" cy="57.25" r="0.62" fill="#1b6db3"/>
<circle cx="225.64" cy="51.26" r="0.62" fill="#1b6db3"/>
<circle cx="217.48" cy="50.4" r="0.62" fill="#1b6db3"/>
<circle cx="228.71" cy="51.81" r="0.62" fill="#1b6db3"/>
<circle cx="224.08" cy="48.05" r="0.62" fill="#1b6db3"/>
<circle cx="223.6" cy="55.73" r="0.62" fill="#1b6db3"/>
<circle cx="212.64" cy="48.1" r="0.62" fill="#1b6db3"/>
<circle cx="216.79" cy="43.48" r="0.62" fill="#1b6db3"/>
<circle cx="220.45" cy="50.39" r="0.62" fill="#1b6db3"/>
<circle cx="227.63" cy="54.92" r="0.62" fill="#1b6db3"/>
<circle cx="220.93" cy="48.88" r="0.62" fill="#1b6db3"/>
<circle cx="225.63" cy="52.9" r="0.62" fill="#1b6db3"/>
<circle cx="218.83" cy="42.04" r="0.62" fill="#1b6db3"/>
<circle cx="218.83" cy="43.17" r="0.62" fill="#1b6db3"/>
<circle cx="225.63" cy="57.56" r="0.62" fill="#1b6db3"/>
<circle cx="219.56" cy="44.79" r="0.62" fill="#1b6db3"/>
<circle cx="217.01" cy="50.42" r="0.62" fill="#1b6db3"/>
<circle cx="220.95" cy="53.96" r="0.62" fill="#1b6db3"/>
<circle cx="225.11" cy="49.35" r="0.62" fill="#1b6db3"/>
<circle cx="227.61" cy="54.32" r="0.62" fill="#1b6db3"/>
<circle cx="220.17" cy="53.01" r="0.62" fill="#1b6db3"/>
<circle cx="224.28" cy="45.63" r="0.62" fill="#1b6db3"/>
<circle cx="222.89" cy="56.36" r="0.62" fill="#1b6db3"/>
<circle cx="217.51" cy="44.91" r="0.62" fill="#1b6db3"/>
<circle cx="221.04" cy="50.05" r="0.62" fill="#1b6db3"/>
<circle cx="227.4" cy="54.92" r="0.62" fill="#1b6db3"/>
<circle cx="225.49" cy="54.31" r="0.62" fill="#1b6db3"/>
<circle cx="227.2" cy="50.7" r="0.62" fill="#1b6db3"/>
<circle cx="215.76" cy="54.35" r="0.62" fill="#1b6db3"/>
<circle cx="220.03" cy="42.39" r="0.62" fill="#1b6db3"/>
<circle cx="219.37" cy="43.31" r="0.62" fill="#1b6db3"/>
<circle cx="223.01" cy="50.75" r="0.62" fill="#1b6db3"/>
<circle cx="218.4" cy="45.96" r="0.62" fill="#1b6db3"/>
<circle cx="228.26" cy="55.75" r="0.62" fill="#1b6db3"/>
<circle cx="222.45" cy="53.94" r="0.62" fill="#1b6db3"/>
<circle cx="222.77" cy="46.4" r="0.62" fill="#1b6db3"/>
<circle cx="217.53" cy="48.14" r="0.62" fill="#1b6db3"/>
<circle cx="222.33" cy="55.27" r="0.62" fill="#1b6db3"/>
<circle cx="217.09" cy="49.66" r="0.62" fill="#1b6db3"/>
<circle cx="213.81" cy="48.62" r="0.62" fill="#1b6db3"/>
<circle cx="221.41" cy="49.96" r="0.62" fill="#1b6db3"/>
<circle cx="216.26" cy="50.64" r="0.62" fill="#1b6db3"/>
<circle cx="214.48" cy="43.77" r="0.62" fill="#1b6db3"/>
<circle cx="216.45" cy="44.71" r="0.62" fill="#1b6db3"/>
<circle cx="217.19" cy="45.33" r="0.62" fill="#1b6db3"/>
<circle cx="215.24" cy="43.86" r="0.62" fill="#1b6db3"/>
<circle cx="217.24" cy="42.83" r="0.62" fill="#1b6db3"/>
<circle cx="217.17" cy="44.32" r="0.62" fill="#1b6db3"/>
<circle cx="213.37" cy="43.26" r="0.62" fill="#1b6db3"/>
<circle cx="215.38" cy="49.39" r="0.62" fill="#1b6db3"/>
<circle cx="215.85" cy="42.66" r="0.62" fill="#1b6db3"/>
<circle cx="218.03" cy="43.04" r="0.62" fill="#1b6db3"/>
<circle cx="213.4" cy="45.58" r="0.62" fill="#1b6db3"/>
<circle cx="218.13" cy="48.54" r="0.62" fill="#1b6db3"/>
<circle cx="216.83" cy="43.53" r="0.62" fill="#1b6db3"/>
<circle cx="216.25" cy="47.39" r="0.62" fill="#1b6db3"/>
<circle cx="219.41" cy="43.47" r="0.62" fill="#1b6db3"/>
<circle cx="219.54" cy="44.58" r="0.62" fill="#1b6db3"/>
<circle cx="213.81" cy="46.2" r="0.62" fill="#1b6db3"/>
<circle cx="216.46" cy="42.33" r="0.62" fill="#1b6db3"/>
<circle cx="214.23" cy="45.03" r="0.62" fill="#1b6db3"/>
<circle cx="217.08" cy="42.94" r="0.62" fill="#1b6db3"/>
<circle cx="218.4" cy="43.41" r="0.62" fill="#1b6db3"/>
<circle cx="214.25" cy="46.24" r="0.62" fill="#1b6db3"/>
<circle cx="218.63" cy="44.39" r="0.62" fill="#1b6db3"/>
<circle cx="215.74" cy="45.6" r="0.62" fill="#1b6db3"/>
<circle cx="218.42" cy="44.2" r="0.62" fill="#1b6db3"/>
<circle cx="215.79" cy="43.86" r="0.62" fill="#1b6db3"/>
<circle cx="212.81" cy="46.17" r="0.62" fill="#1b6db3"/>
<circle cx="215.33" cy="46.76" r="0.62" fill="#1b6db3"/>
<circle cx="215.17" cy="47.37" r="0.62" fill="#1b6db3"/>
<circle cx="216.62" cy="46.8" r="0.62" fill="#1b6db3"/>
<circle cx="213.59" cy="43.74" r="0.62" fill="#1b6db3"/>
<circle cx="215.02" cy="48.34" r="0.62" fill="#1b6db3"/>
<circle cx="217.04" cy="44.06" r="0.62" fill="#1b6db3"/>
<circle cx="211.69" cy="43.2" r="0.62" fill="#1b6db3"/>
<circle cx="218.84" cy="44.07" r="0.62" fill="#1b6db3"/>
<circle cx="192.74" cy="64.98" r="0.62" fill="#dd62c0"/>
<circle cx="190.9" cy="76.42" r="0.62" fill="#dd62c0"/>
<circle cx="189.24" cy="73.18" r="0.62" fill="#dd62c0"/>
<circle cx="203.06" cy="58.59" r="0.62" fill="#dd62c0"/>
<circle cx="199.39" cy="55.03" r="0.62" fill="#dd62c0"/>
<circle cx="194.82" cy="63.18" r="0.62" fill="#dd62c0"/>
<circle cx="195.14" cy="64.03" r="0.62" fill="#dd62c0"/>
<circle cx="199.08" cy="58.19" r="0.62" fill="#dd62c0"/>
<circle cx="186.2" cy="69.87" r="0.62" fill="#dd62c0"/>
<circle cx="195.45" cy="65.35" r="0.62" fill="#dd62c0"/>
<circle cx="198.16" cy="60.06" r="0.62" fill="#dd62c0"/>
<circle cx="197.89" cy="78.78" r="0.62" fill="#dd62c0"/>
<circle cx="200.49" cy="71.29" r="0.62" fill="#dd62c0"/>
<circle cx="188.55" cy="71.66" r="0.62" fill="#dd62c0"/>
<circle cx="205.76" cy="66.63" r="0.62" fill="#dd62c0"/>
<circle cx="201.22" cy="58.31" r="0.62" fill="#dd62c0"/>
<circle cx="192.3" cy="61.92" r="0.62" fill="#dd62c0"/>
<circle cx="197.93" cy="73.35" r="0.62" fill="#dd62c0"/>
<circle cx="198.56" cy="73.72" r="0.62" fill="#dd62c0"/>
<circle cx="202.56" cy="74.95" r="0.62" fill="#dd62c0"/>
<circle cx="203.46" cy="58.96" r="0.62" fill="#dd62c0"/>
<circle cx="204.48" cy="64.56" r="0.62" fill="#dd62c0"/>
<circle cx="188.13" cy="71.31" r="0.62" fill="#dd62c0"/>
<circle cx="194.93" cy="66.94" r="0.62" fill="#dd62c0"/>
<circle cx="193.8" cy="61.28" r="0.62" fill="#dd62c0"/>
<circle cx="192.89" cy="69.31" r="0.62" fill="#dd62c0"/>
<circle cx="199.99" cy="64.29" r="0.62" fill="#dd62c0"/>
<circle cx="197.87" cy="78.86" r="0.62" fill="#dd62c0"/>
<circle cx="192.27" cy="68.53" r="0.62" fill="#dd62c0"/>
<circle cx="203.98" cy="73.53" r="0.62" fill="#dd62c0"/>
<circle cx="198.09" cy="74.02" r="0.62" fill="#dd62c0"/>
<circle cx="189.83" cy="68.65" r="0.62" fill="#dd62c0"/>
<circle cx="199.78" cy="55.44" r="0.62" fill="#dd62c0"/>
<circle cx="207.59" cy="67.13" r="0.62" fill="#dd62c0"/>
<circle cx="206.99" cy="61.21" r="0.62" fill="#dd62c0"/>
<circle cx="201.49" cy="66.13" r="0.62" fill="#dd62c0"/>
<circle cx="194.69" cy="76.86" r="0.62" fill="#dd62c0"/>
<circle cx="199.23" cy="60.08" r="0.62" fill="#dd62c0"/>
<circle cx="203.05" cy="74.71" r="0.62" fill="#dd62c0"/>
<circle cx="198.12" cy="64.78" r="0.62" fill="#dd62c0"/>
<circle cx="193.65" cy="69.34" r="0.62" fill="#dd62c0"/>
<circle cx="203.49" cy="66.58" r="0.62" fill="#dd62c0"/>
<circle cx="202.83" cy="68.44" r="0.62" fill="#dd62c0"/>
<circle cx="204.48" cy="61.37" r="0.62" fill="#dd62c0"/>
<circle cx="197.51" cy="59.63" r="0.62" fill="#dd62c0"/>
<circle cx="192.72" cy="55.8" r="0.62" fill="#dd62c0"/>
<circle cx="189.2" cy="68.23" r="0.62" fill="#dd62c0"/>
<circle cx="200.34" cy="69.16" r="0.62" fill="#dd62c0"/>
<circle cx="191.48" cy="73.78" r="0.62" fill="#dd62c0"/>
<circle cx="194.5" cy="56.56" r="0.62" fill="#dd62c0"/>
<circle cx="202.24" cy="65.12" r="0.62" fill="#dd62c0"/>
<circle cx="203.26" cy="67.5" r="0.62" fill="#dd62c0"/>
<circle cx="189.41" cy="73.28" r="0.62" fill="#dd62c0"/>
<circle cx="204.05" cy="58.51" r="0.62" fill="#dd62c0"/>
<circle cx="202.28" cy="78.29" r="0.62" fill="#dd62c0"/>
<circle cx="191.92" cy="61.28" r="0.62" fill="#dd62c0"/>
<circle cx="197.71" cy="58.24" r="0.62" fill="#dd62c0"/>
<circle cx="191.34" cy="60.33" r="0.62" fill="#dd62c0"/>
<circle cx="194.13" cy="56.03" r="0.62" fill="#dd62c0"/>
<circle cx="203.62" cy="73.04" r="0.62" fill="#dd62c0"/>
<circle cx="203.09" cy="77.64" r="0.62" fill="#dd62c0"/>
<circle cx="207.02" cy="69.09" r="0.62" fill="#dd62c0"/>
<circle cx="198.47" cy="75.01" r="0.62" fill="#dd62c0"/>
<circle cx="187.1" cy="62.63" r="0.62" fill="#dd62c0"/>
<circle cx="196.48" cy="73.62" r="0.62" fill="#dd62c0"/>
<circle cx="195.54" cy="61.54" r="0.62" fill="#dd62c0"/>
<circle cx="198.42" cy="73.24" r="0.62" fill="#dd62c0"/>
<circle cx="200.11" cy="76" r="0.62" fill="#dd62c0"/>
<circle cx="205.61" cy="65.59" r="0.62" fill="#dd62c0"/>
<circle cx="189.4" cy="70.97" r="0.62" fill="#dd62c0"/>
<circle cx="193.2" cy="72.88" r="0.62" fill="#dd62c0"/>
<circle cx="199.76" cy="58.16" r="0.62" fill="#dd62c0"/>
<circle cx="206.5" cy="71.23" r="0.62" fill="#dd62c0"/>
<circle cx="195.19" cy="64.6" r="0.62" fill="#dd62c0"/>
<circle cx="204.32" cy="59.32" r="0.62" fill="#dd62c0"/>
<circle cx="199.44" cy="69.09" r="0.62" fill="#dd62c0"/>
<circle cx="194.31" cy="75.97" r="0.62" fill="#dd62c0"/>
<circle cx="202.58" cy="74.21" r="0.62" fill="#dd62c0"/>
<circle cx="189.51" cy="61.3" r="0.62" fill="#dd62c0"/>
<circle cx="197.29" cy="61.97" r="0.62" fill="#dd62c0"/>
<circle cx="195.63" cy="54.28" r="0.62" fill="#dd62c0"/>
<circle cx="189.8" cy="72.59" r="0.62" fill="#dd62c0"/>
<circle cx="200.87" cy="69.63" r="0.62" fill="#dd62c0"/>
<circle cx="204.1" cy="68.26" r="0.62" fill="#dd62c0"/>
<circle cx="190.22" cy="70.73" r="0.62" fill="#dd62c0"/>
<circle cx="203" cy="59.29" r="0.62" fill="#dd62c0"/>
<circle cx="199.31" cy="69.07" r="0.62" fill="#dd62c0"/>
<circle cx="196.55" cy="77.34" r="0.62" fill="#dd62c0"/>
<circle cx="195.21" cy="57.78" r="0.62" fill="#dd62c0"/>
<circle cx="195.21" cy="65.67" r="0.62" fill="#dd62c0"/>
<circle cx="202.89" cy="63.2" r="0.62" fill="#dd62c0"/>
<circle cx="203.63" cy="74.82" r="0.62" fill="#dd62c0"/>
<circle cx="205.05" cy="74.34" r="0.62" fill="#dd62c0"/>
<circle cx="201.62" cy="58.56" r="0.62" fill="#dd62c0"/>
<circle cx="201.47" cy="59.34" r="0.62" fill="#dd62c0"/>
<circle cx="192.67" cy="73.52" r="0.62" fill="#dd62c0"/>
<circle cx="192.86" cy="71.37" r="0.62" fill="#dd62c0"/>
<circle cx="189.15" cy="68.67" r="0.62" fill="#dd62c0"/>
<circle cx="190.34" cy="60.89" r="0.62" fill="#dd62c0"/>
<circle cx="207.52" cy="67.41" r="0.62" fill="#dd62c0"/>
<circle cx="202.46" cy="61.81" r="0.62" fill="#dd62c0"/>
<circle cx="201.24" cy="71.48" r="0.62" fill="#dd62c0"/>
<circle cx="206.47" cy="68.22" r="0.62" fill="#dd62c0"/>
<circle cx="196.22" cy="69.61" r="0.62" fill="#dd62c0"/>
<circle cx="202.49" cy="68.26" r="0.62" fill="#dd62c0"/>
<circle cx="200.62" cy="58.84" r="0.62" fill="#dd62c0"/>
<circle cx="188.75" cy="67.17" r="0.62" fill="#dd62c0"/>
<circle cx="202.65" cy="70.22" r="0.62" fill="#dd62c0"/>
<circle cx="206.26" cy="73.04" r="0.62" fill="#dd62c0"/>
<circle cx="198.81" cy="62.43" r="0.62" fill="#dd62c0"/>
<circle cx="199.85" cy="77.97" r="0.62" fill="#dd62c0"/>
<circle cx="204.27" cy="57.53" r="0.62" fill="#dd62c0"/>
<circle cx="197.75" cy="75.55" r="0.62" fill="#dd62c0"/>
<circle cx="196.46" cy="66.24" r="0.62" fill="#dd62c0"/>
<circle cx="194.5" cy="60.92" r="0.62" fill="#dd62c0"/>
<circle cx="197.55" cy="64.18" r="0.62" fill="#dd62c0"/>
<circle cx="200.55" cy="64.38" r="0.62" fill="#dd62c0"/>
<circle cx="200.22" cy="73.67" r="0.62" fill="#dd62c0"/>
<circle cx="191.44" cy="62.4" r="0.62" fill="#dd62c0"/>
<circle cx="193" cy="57.39" r="0.62" fill="#dd62c0"/>
<circle cx="193.61" cy="74.45" r="0.62" fill="#dd62c0"/>
<circle cx="189.36" cy="59.59" r="0.62" fill="#dd62c0"/>
<circle cx="194.16" cy="57.74" r="0.62" fill="#dd62c0"/>
<circle cx="205.93" cy="66.59" r="0.62" fill="#dd62c0"/>
<circle cx="197.8" cy="68.98" r="0.62" fill="#dd62c0"/>
<circle cx="188.67" cy="67.03" r="0.62" fill="#dd62c0"/>
<circle cx="202.09" cy="75.38" r="0.62" fill="#dd62c0"/>
<circle cx="200.97" cy="60.46" r="0.62" fill="#dd62c0"/>
<circle cx="198.25" cy="66.25" r="0.62" fill="#dd62c0"/>
<circle cx="198.25" cy="66.75" r="0.62" fill="#dd62c0"/>
<circle cx="190.13" cy="58.7" r="0.62" fill="#dd62c0"/>
<circle cx="197.44" cy="59.77" r="0.62" fill="#dd62c0"/>
<circle cx="193.63" cy="62.14" r="0.62" fill="#dd62c0"/>
<circle cx="194.48" cy="78.76" r="0.62" fill="#dd62c0"/>
<circle cx="204.73" cy="71.89" r="0.62" fill="#dd62c0"/>
<circle cx="191.92" cy="60.8" r="0.62" fill="#dd62c0"/>
<circle cx="188.06" cy="59.83" r="0.62" fill="#dd62c0"/>
<circle cx="196.49" cy="70.8" r="0.62" fill="#dd62c0"/>
<circle cx="189" cy="70.59" r="0.62" fill="#dd62c0"/>
<circle cx="201.87" cy="75.15" r="0.62" fill="#dd62c0"/>
<circle cx="191.18" cy="61.31" r="0.62" fill="#dd62c0"/>
<circle cx="206.42" cy="73.59" r="0.62" fill="#dd62c0"/>
<circle cx="188.98" cy="63.81" r="0.62" fill="#dd62c0"/>
<circle cx="193.19" cy="78.71" r="0.62" fill="#dd62c0"/>
<circle cx="201.92" cy="73.43" r="0.62" fill="#dd62c0"/>
<circle cx="204.48" cy="61.03" r="0.62" fill="#dd62c0"/>
<circle cx="202.87" cy="62.68" r="0.62" fill="#dd62c0"/>
<circle cx="196.22" cy="70.76" r="0.62" fill="#dd62c0"/>
<circle cx="199.85" cy="63.12" r="0.62" fill="#dd62c0"/>
<circle cx="199.88" cy="64.73" r="0.62" fill="#dd62c0"/>
<circle cx="201.11" cy="58.3" r="0.62" fill="#dd62c0"/>
<circle cx="207.74" cy="70.37" r="0.62" fill="#dd62c0"/>
<circle cx="192.69" cy="57.61" r="0.62" fill="#dd62c0"/>
<circle cx="200.45" cy="78.49" r="0.62" fill="#dd62c0"/>
<circle cx="204.06" cy="71.85" r="0.62" fill="#dd62c0"/>
<circle cx="197.53" cy="66.23" r="0.62" fill="#dd62c0"/>
<circle cx="197.72" cy="69.37" r="0.62" fill="#dd62c0"/>
<circle cx="191.49" cy="65.53" r="0.62" fill="#dd62c0"/>
<circle cx="197" cy="55.18" r="0.62" fill="#dd62c0"/>
<circle cx="192.5" cy="58.78" r="0.62" fill="#dd62c0"/>
<circle cx="192.75" cy="71.15" r="0.62" fill="#dd62c0"/>
<circle cx="189.01" cy="73.05" r="0.62" fill="#dd62c0"/>
<circle cx="190.88" cy="66.15" r="0.62" fill="#dd62c0"/>
<circle cx="190.41" cy="59.94" r="0.62" fill="#dd62c0"/>
<circle cx="203.97" cy="65.49" r="0.62" fill="#dd62c0"/>
<circle cx="200.15" cy="72.26" r="0.62" fill="#dd62c0"/>
<circle cx="189.74" cy="59.88" r="0.62" fill="#dd62c0"/>
<circle cx="202.74" cy="63.1" r="0.62" fill="#dd62c0"/>
<circle cx="201.39" cy="71.94" r="0.62" fill="#dd62c0"/>
<circle cx="197.18" cy="66.61" r="0.62" fill="#dd62c0"/>
<circle cx="199.88" cy="77.53" r="0.62" fill="#dd62c0"/>
<circle cx="204.73" cy="65.62" r="0.62" fill="#dd62c0"/>
<circle cx="198.35" cy="74.67" r="0.62" fill="#dd62c0"/>
<circle cx="190.27" cy="73.36" r="0.62" fill="#dd62c0"/>
<circle cx="199.69" cy="68.44" r="0.62" fill="#dd62c0"/>
<circle cx="192.26" cy="60.41" r="0.62" fill="#dd62c0"/>
<circle cx="197.88" cy="75.96" r="0.62" fill="#dd62c0"/>
<circle cx="193.34" cy="69.9" r="0.62" fill="#dd62c0"/>
<circle cx="196.28" cy="67.86" r="0.62" fill="#dd62c0"/>
<circle cx="189.26" cy="59.6" r="0.62" fill="#dd62c0"/>
<circle cx="192.53" cy="70.51" r="0.62" fill="#dd62c0"/>
<circle cx="191.32" cy="68.65" r="0.62" fill="#dd62c0"/>
<circle cx="196.6" cy="58.68" r="0.62" fill="#dd62c0"/>
<circle cx="188.45" cy="58.56" r="0.62" fill="#dd62c0"/>
<circle cx="195.75" cy="67.17" r="0.62" fill="#dd62c0"/>
<circle cx="202.95" cy="65.82" r="0.62" fill="#dd62c0"/>
<circle cx="195.48" cy="64.05" r="0.62" fill="#dd62c0"/>
<circle cx="189.72" cy="64.85" r="0.62" fill="#dd62c0"/>
<circle cx="194.16" cy="63.3" r="0.62" fill="#dd62c0"/>
<circle cx="202.16" cy="68.48" r="0.62" fill="#dd62c0"/>
<circle cx="196.45" cy="72.07" r="0.62" fill="#dd62c0"/>
<circle cx="195.17" cy="70.79" r="0.62" fill="#dd62c0"/>
<circle cx="196.28" cy="57.8" r="0.62" fill="#dd62c0"/>
<circle cx="195.44" cy="69.4" r="0.62" fill="#dd62c0"/>
<circle cx="200.81" cy="60.39" r="0.62" fill="#dd62c0"/>
<circle cx="205.72" cy="64.74" r="0.62" fill="#dd62c0"/>
<circle cx="207.78" cy="70.56" r="0.62" fill="#dd62c0"/>
<circle cx="187.16" cy="70.67" r="0.62" fill="#dd62c0"/>
<circle cx="200.86" cy="70.1" r="0.62" fill="#dd62c0"/>
<circle cx="199" cy="65.96" r="0.62" fill="#dd62c0"/>
<circle cx="205.1" cy="70.38" r="0.62" fill="#dd62c0"/>
<circle cx="204.52" cy="64.37" r="0.62" fill="#dd62c0"/>
<circle cx="204.28" cy="68.09" r="0.62" fill="#dd62c0"/>
<circle cx="199.16" cy="68.27" r="0.62" fill="#dd62c0"/>
<circle cx="191.3" cy="73.29" r="0.62" fill="#dd62c0"/>
<circle cx="192.08" cy="72.8" r="0.62" fill="#dd62c0"/>
<circle cx="188.91" cy="60.32" r="0.62" fill="#dd62c0"/>
<circle cx="205.7" cy="72.51" r="0.62" fill="#dd62c0"/>
<circle cx="193.21" cy="72.03" r="0.62" fill="#dd62c0"/>
<circle cx="200.97" cy="56.32" r="0.62" fill="#dd62c0"/>
<circle cx="194.95" cy="72.06" r="0.62" fill="#dd62c0"/>
<circle cx="201.02" cy="59.56" r="0.62" fill="#dd62c0"/>
<circle cx="193.55" cy="72.69" r="0.62" fill="#dd62c0"/>
<circle cx="191.47" cy="76.05" r="0.62" fill="#dd62c0"/>
<circle cx="200.49" cy="61.19" r="0.62" fill="#dd62c0"/>
<circle cx="192.14" cy="77.37" r="0.62" fill="#dd62c0"/>
<circle cx="201.22" cy="74.32" r="0.62" fill="#dd62c0"/>
<circle cx="202.95" cy="58.5" r="0.62" fill="#dd62c0"/>
<circle cx="199.5" cy="62.28" r="0.62" fill="#dd62c0"/>
<circle cx="191.12" cy="57.69" r="0.62" fill="#dd62c0"/>
<circle cx="197.15" cy="74.07" r="0.62" fill="#dd62c0"/>
<circle cx="202.51" cy="58.8" r="0.62" fill="#dd62c0"/>
<circle cx="206.14" cy="67.04" r="0.62" fill="#dd62c0"/>
<circle cx="195.97" cy="74.05" r="0.62" fill="#dd62c0"/>
<circle cx="190.53" cy="61.07" r="0.62" fill="#dd62c0"/>
<circle cx="188.76" cy="68.63" r="0.62" fill="#dd62c0"/>
<circle cx="204.08" cy="61.74" r="0.62" fill="#dd62c0"/>
<circle cx="206.65" cy="66.73" r="0.62" fill="#dd62c0"/>
<circle cx="197.76" cy="58.91" r="0.62" fill="#dd62c0"/>
<circle cx="193.62" cy="76.78" r="0.62" fill="#dd62c0"/>
<circle cx="196.73" cy="67.83" r="0.62" fill="#dd62c0"/>
<circle cx="197.53" cy="64.29" r="0.62" fill="#dd62c0"/>
<circle cx="192.54" cy="71.79" r="0.62" fill="#dd62c0"/>
<circle cx="187.58" cy="66.83" r="0.62" fill="#dd62c0"/>
<circle cx="196.09" cy="67.47" r="0.62" fill="#dd62c0"/>
<circle cx="199.36" cy="70.7" r="0.62" fill="#dd62c0"/>
<circle cx="194.81" cy="71.26" r="0.62" fill="#dd62c0"/>
<circle cx="196.05" cy="54.33" r="0.62" fill="#dd62c0"/>
<circle cx="188.77" cy="59.69" r="0.62" fill="#dd62c0"/>
<circle cx="200.48" cy="66.64" r="0.62" fill="#dd62c0"/>
<circle cx="205.63" cy="70.53" r="0.62" fill="#dd62c0"/>
<circle cx="201.69" cy="69.84" r="0.62" fill="#dd62c0"/>
<circle cx="193.19" cy="64.4" r="0.62" fill="#dd62c0"/>
<circle cx="199.06" cy="68.21" r="0.62" fill="#dd62c0"/>
<circle cx="189.89" cy="63.89" r="0.62" fill="#dd62c0"/>
<circle cx="198.44" cy="75.43" r="0.62" fill="#dd62c0"/>
<circle cx="207.26" cy="71.84" r="0.62" fill="#dd62c0"/>
<circle cx="203.52" cy="75.25" r="0.62" fill="#dd62c0"/>
<circle cx="200.8" cy="72.52" r="0.62" fill="#dd62c0"/>
<circle cx="192.34" cy="64.54" r="0.62" fill="#dd62c0"/>
<circle cx="190.45" cy="73.91" r="0.62" fill="#dd62c0"/>
<circle cx="201.47" cy="66.57" r="0.62" fill="#dd62c0"/>
<circle cx="196.66" cy="65.72" r="0.62" fill="#dd62c0"/>
<circle cx="200.66" cy="74.26" r="0.62" fill="#dd62c0"/>
<circle cx="190.52" cy="75.19" r="0.62" fill="#dd62c0"/>
<circle cx="197.54" cy="59.9" r="0.62" fill="#dd62c0"/>
<circle cx="205.95" cy="65.66" r="0.62" fill="#dd62c0"/>
<circle cx="200.01" cy="58.15" r="0.62" fill="#dd62c0"/>
<circle cx="191.88" cy="58.37" r="0.62" fill="#dd62c0"/>
<circle cx="205.83" cy="63.19" r="0.62" fill="#dd62c0"/>
<circle cx="199.1" cy="75.01" r="0.62" fill="#dd62c0"/>
<circle cx="187.76" cy="64.59" r="0.62" fill="#dd62c0"/>
<circle cx="196.63" cy="78.55" r="0.62" fill="#dd62c0"/>
<circle cx="202.93" cy="74.09" r="0.62" fill="#dd62c0"/>
<circle cx="201.91" cy="65.24" r="0.62" fill="#dd62c0"/>
<circle cx="196.72" cy="55.47" r="0.62" fill="#dd62c0"/>
<circle cx="207.58" cy="71.5" r="0.62" fill="#dd62c0"/>
<circle cx="195.48" cy="58.18" r="0.62" fill="#dd62c0"/>
<circle cx="190.34" cy="71.11" r="0.62" fill="#dd62c0"/>
<circle cx="196.64" cy="69.07" r="0.62" fill="#dd62c0"/>
<circle cx="189.49" cy="75.86" r="0.62" fill="#dd62c0"/>
<circle cx="187.62" cy="65.33" r="0.62" fill="#dd62c0"/>
<circle cx="196.25" cy="57.38" r="0.62" fill="#dd62c0"/>
<circle cx="201.88" cy="68.14" r="0.62" fill="#dd62c0"/>
<circle cx="201.58" cy="61.81" r="0.62" fill="#dd62c0"/>
<circle cx="202.88" cy="56.93" r="0.62" fill="#dd62c0"/>
<circle cx="194.52" cy="74.69" r="0.62" fill="#dd62c0"/>
<circle cx="201.92" cy="67.97" r="0.62" fill="#dd62c0"/>
<circle cx="188.67" cy="71" r="0.62" fill="#dd62c0"/>
<circle cx="199.68" cy="72.14" r="0.62" fill="#dd62c0"/>
<circle cx="189.25" cy="60.38" r="0.62" fill="#dd62c0"/>
<circle cx="204.86" cy="68.43" r="0.62" fill="#dd62c0"/>
<circle cx="205.49" cy="64.24" r="0.62" fill="#dd62c0"/>
<circle cx="187.1" cy="70.54" r="0.62" fill="#dd62c0"/>
<circle cx="196.2" cy="57.35" r="0.62" fill="#dd62c0"/>
<circle cx="194.87" cy="74.91" r="0.62" fill="#dd62c0"/>
<circle cx="201.67" cy="62.93" r="0.62" fill="#dd62c0"/>
<circle cx="188.23" cy="70.83" r="0.62" fill="#dd62c0"/>
<circle cx="202.18" cy="60.7" r="0.62" fill="#dd62c0"/>
<circle cx="196.66" cy="58.2" r="0.62" fill="#dd62c0"/>
<circle cx="195.4" cy="54.58" r="0.62" fill="#dd62c0"/>
<circle cx="197.49" cy="67.29" r="0.62" fill="#dd62c0"/>
<circle cx="197.92" cy="71.06" r="0.62" fill="#dd62c0"/>
<circle cx="195.58" cy="67.39" r="0.62" fill="#dd62c0"/>
<circle cx="187.55" cy="67.06" r="0.62" fill="#dd62c0"/>
<circle cx="198.2" cy="71.77" r="0.62" fill="#dd62c0"/>
<circle cx="191.75" cy="62.19" r="0.62" fill="#dd62c0"/>
<circle cx="199.47" cy="77.82" r="0.62" fill="#dd62c0"/>
<circle cx="191.42" cy="65.16" r="0.62" fill="#dd62c0"/>
<circle cx="194.67" cy="71.79" r="0.62" fill="#dd62c0"/>
<circle cx="201.72" cy="63.92" r="0.62" fill="#dd62c0"/>
<circle cx="193.68" cy="70.68" r="0.62" fill="#dd62c0"/>
<circle cx="192.98" cy="59.99" r="0.62" fill="#dd62c0"/>
<circle cx="190.77" cy="66.77" r="0.62" fill="#dd62c0"/>
<circle cx="196.02" cy="71.8" r="0.62" fill="#dd62c0"/>
<circle cx="192.62" cy="63.8" r="0.62" fill="#dd62c0"/>
<circle cx="192.73" cy="64.1" r="0.62" fill="#dd62c0"/>
<circle cx="200.25" cy="71.97" r="0.62" fill="#dd62c0"/>
<circle cx="202.77" cy="71.31" r="0.62" fill="#dd62c0"/>
<circle cx="203.01" cy="67.01" r="0.62" fill="#dd62c0"/>
<circle cx="196.03" cy="72.34" r="0.62" fill="#dd62c0"/>
<circle cx="194.1" cy="62.44" r="0.62" fill="#dd62c0"/>
<circle cx="197.2" cy="70.82" r="0.62" fill="#dd62c0"/>
<circle cx="198.34" cy="64.48" r="0.62" fill="#dd62c0"/>
<circle cx="201.39" cy="61.9" r="0.62" fill="#dd62c0"/>
<circle cx="196.24" cy="68.86" r="0.62" fill="#dd62c0"/>
<circle cx="198.78" cy="61.01" r="0.62" fill="#dd62c0"/>
<circle cx="194.44" cy="73.45" r="0.62" fill="#dd62c0"/>
<circle cx="197.26" cy="60.35" r="0.62" fill="#dd62c0"/>
<circle cx="196.88" cy="58.88" r="0.62" fill="#dd62c0"/>
<circle cx="196.36" cy="75.19" r="0.62" fill="#dd62c0"/>
<circle cx="204.62" cy="69.4" r="0.62" fill="#dd62c0"/>
<circle cx="203.01" cy="64.86" r="0.62" fill="#dd62c0"/>
<circle cx="203.5" cy="67.27" r="0.62" fill="#dd62c0"/>
<circle cx="191.01" cy="64.74" r="0.62" fill="#dd62c0"/>
<circle cx="197.81" cy="74.77" r="0.62" fill="#dd62c0"/>
<circle cx="195.12" cy="66.12" r="0.62" fill="#dd62c0"/>
<circle cx="194.04" cy="69.1" r="0.62" fill="#dd62c0"/>
<circle cx="194.74" cy="70.61" r="0.62" fill="#dd62c0"/>
<circle cx="193.55" cy="61.72" r="0.62" fill="#dd62c0"/>
<circle cx="200.8" cy="73.71" r="0.62" fill="#dd62c0"/>
<circle cx="193.24" cy="69.95" r="0.62" fill="#dd62c0"/>
<circle cx="202.99" cy="66.63" r="0.62" fill="#dd62c0"/>
<circle cx="198.51" cy="70.97" r="0.62" fill="#dd62c0"/>
<circle cx="195.79" cy="70.43" r="0.62" fill="#dd62c0"/>
<circle cx="196.3" cy="70.25" r="0.62" fill="#dd62c0"/>
<circle cx="203.47" cy="66.06" r="0.62" fill="#dd62c0"/>
<circle cx="202.55" cy="69.04" r="0.62" fill="#dd62c0"/>
<circle cx="202.25" cy="69.35" r="0.62" fill="#dd62c0"/>
<circle cx="203.04" cy="66.49" r="0.62" fill="#dd62c0"/>
<circle cx="199.71" cy="71.95" r="0.62" fill="#dd62c0"/>
<circle cx="198.38" cy="59.95" r="0.62" fill="#dd62c0"/>
<circle cx="198.26" cy="64.74" r="0.62" fill="#dd62c0"/>
<circle cx="198.41" cy="61.69" r="0.62" fill="#dd62c0"/>
<circle cx="200.87" cy="66.06" r="0.62" fill="#dd62c0"/>
<circle cx="196.98" cy="57.97" r="0.62" fill="#dd62c0"/>
<circle cx="196.65" cy="65.73" r="0.62" fill="#dd62c0"/>
<circle cx="202.61" cy="62.66" r="0.62" fill="#dd62c0"/>
<circle cx="195.63" cy="64.76" r="0.62" fill="#dd62c0"/>
<circle cx="195.51" cy="74.43" r="0.62" fill="#dd62c0"/>
<circle cx="190.99" cy="64.17" r="0.62" fill="#dd62c0"/>
<circle cx="199.74" cy="66.27" r="0.62" fill="#dd62c0"/>
<circle cx="192.82" cy="71.84" r="0.62" fill="#dd62c0"/>
<circle cx="195.44" cy="69.25" r="0.62" fill="#dd62c0"/>
<circle cx="191.61" cy="65.98" r="0.62" fill="#dd62c0"/>
<circle cx="193.46" cy="67.76" r="0.62" fill="#dd62c0"/>
<circle cx="199.99" cy="65.2" r="0.62" fill="#dd62c0"/>
<circle cx="199.05" cy="73.61" r="0.62" fill="#dd62c0"/>
<circle cx="203.52" cy="70.24" r="0.62" fill="#dd62c0"/>
<circle cx="194.47" cy="66.32" r="0.62" fill="#dd62c0"/>
<circle cx="196.67" cy="59.1" r="0.62" fill="#dd62c0"/>
<circle cx="202.37" cy="60.7" r="0.62" fill="#dd62c0"/>
<circle cx="196.3" cy="59.96" r="0.62" fill="#dd62c0"/>
<circle cx="197.59" cy="60.42" r="0.62" fill="#dd62c0"/>
<circle cx="195.4" cy="68.76" r="0.62" fill="#dd62c0"/>
<circle cx="199.61" cy="72.47" r="0.62" fill="#dd62c0"/>
<circle cx="190.67" cy="63.21" r="0.62" fill="#dd62c0"/>
<circle cx="197.95" cy="65.52" r="0.62" fill="#dd62c0"/>
<circle cx="197.05" cy="71.11" r="0.62" fill="#dd62c0"/>
<circle cx="200.16" cy="74.23" r="0.62" fill="#dd62c0"/>
<circle cx="202.71" cy="72.57" r="0.62" fill="#dd62c0"/>
<circle cx="201.18" cy="66.39" r="0.62" fill="#dd62c0"/>
<circle cx="199.6" cy="70.55" r="0.62" fill="#dd62c0"/>
<circle cx="192.83" cy="67.69" r="0.62" fill="#dd62c0"/>
<circle cx="201.4" cy="61.41" r="0.62" fill="#dd62c0"/>
<circle cx="198.63" cy="73.25" r="0.62" fill="#dd62c0"/>
<circle cx="203.31" cy="67.08" r="0.62" fill="#dd62c0"/>
<circle cx="200.18" cy="57.87" r="0.62" fill="#dd62c0"/>
<circle cx="199.91" cy="76.43" r="0.62" fill="#dd62c0"/>
<circle cx="198.13" cy="74.63" r="0.62" fill="#dd62c0"/>
<circle cx="219.8" cy="81.16" r="0.62" fill="#dd62c0"/>
<circle cx="205.84" cy="77.3" r="0.62" fill="#dd62c0"/>
<circle cx="210.21" cy="75.78" r="0.62" fill="#dd62c0"/>
<circle cx="205.82" cy="76.75" r="0.62" fill="#dd62c0"/>
<circle cx="211.39" cy="82.23" r="0.62" fill="#dd62c0"/>
<circle cx="210.51" cy="77.28" r="0.62" fill="#dd62c0"/>
<circle cx="212.78" cy="80.5" r="0.62" fill="#dd62c0"/>
<circle cx="204.28" cy="80.57" r="0.62" fill="#dd62c0"/>
<circle cx="209.74" cy="75.91" r="0.62" fill="#dd62c0"/>
<circle cx="207.55" cy="73.5" r="0.62" fill="#dd62c0"/>
<circle cx="206.05" cy="77.23" r="0.62" fill="#dd62c0"/>
<circle cx="209.25" cy="81.25" r="0.62" fill="#dd62c0"/>
<circle cx="211.16" cy="78.86" r="0.62" fill="#dd62c0"/>
<circle cx="207.03" cy="75.2" r="0.62" fill="#dd62c0"/>
<circle cx="209.16" cy="82.73" r="0.62" fill="#dd62c0"/>
<circle cx="211.89" cy="71.58" r="0.62" fill="#dd62c0"/>
<circle cx="210.22" cy="78.06" r="0.62" fill="#dd62c0"/>
<circle cx="210.97" cy="80.54" r="0.62" fill="#dd62c0"/>
<circle cx="214.63" cy="84.98" r="0.62" fill="#dd62c0"/>
<circle cx="212.32" cy="80.22" r="0.62" fill="#dd62c0"/>
<circle cx="229.85" cy="72.71" r="0.62" fill="#84492f"/>
<circle cx="223.93" cy="69.74" r="0.62" fill="#84492f"/>
<circle cx="222.69" cy="68.35" r="0.62" fill="#84492f"/>
<circle cx="224.95" cy="67.94" r="0.62" fill="#84492f"/>
<circle cx="226.99" cy="74.14" r="0.62" fill="#84492f"/>
<circle cx="229.69" cy="73.07" r="0.62" fill="#84492f"/>
<circle cx="224.42" cy="64.32" r="0.62" fill="#84492f"/>
<circle cx="226.59" cy="71.21" r="0.62" fill="#84492f"/>
<circle cx="225.18" cy="67.58" r="0.62" fill="#84492f"/>
<circle cx="224.38" cy="69.77" r="0.62" fill="#84492f"/>
<circle cx="226.11" cy="64.31" r="0.62" fill="#84492f"/>
<circle cx="227.15" cy="68.13" r="0.62" fill="#84492f"/>
<circle cx="224.26" cy="64.75" r="0.62" fill="#84492f"/>
<circle cx="224.93" cy="64.32" r="0.62" fill="#84492f"/>
<circle cx="229.88" cy="68.71" r="0.62" fill="#84492f"/>
<circle cx="224.06" cy="72.49" r="0.62" fill="#84492f"/>
<circle cx="224.16" cy="63.39" r="0.62" fill="#84492f"/>
<circle cx="222.65" cy="63.95" r="0.62" fill="#84492f"/>
<circle cx="228.33" cy="70.63" r="0.62" fill="#84492f"/>
<circle cx="225.36" cy="69.41" r="0.62" fill="#84492f"/>
<circle cx="225.65" cy="67.03" r="0.62" fill="#84492f"/>
<circle cx="230.68" cy="70.45" r="0.62" fill="#84492f"/>
<circle cx="219.92" cy="69" r="0.62" fill="#84492f"/>
<circle cx="223.73" cy="66.86" r="0.62" fill="#84492f"/>
<circle cx="230.52" cy="66.22" r="0.62" fill="#84492f"/>
<circle cx="230.7" cy="71.26" r="0.62" fill="#84492f"/>
<circle cx="229.9" cy="71.5" r="0.62" fill="#84492f"/>
<circle cx="223.34" cy="70.37" r="0.62" fill="#84492f"/>
<circle cx="228.86" cy="70.86" r="0.62" fill="#84492f"/>
<circle cx="228.56" cy="70.78" r="0.62" fill="#84492f"/>
<circle cx="224.89" cy="66.1" r="0.62" fill="#84492f"/>
<circle cx="224.41" cy="63.74" r="0.62" fill="#84492f"/>
<circle cx="221.33" cy="70.52" r="0.62" fill="#84492f"/>
<circle cx="227.32" cy="65.97" r="0.62" fill="#84492f"/>
<circle cx="230.7" cy="69.12" r="0.62" fill="#84492f"/>
<circle cx="220.63" cy="69.5" r="0.62" fill="#84492f"/>
<circle cx="230.18" cy="67.59" r="0.62" fill="#84492f"/>
<circle cx="219.69" cy="69.28" r="0.62" fill="#84492f"/>
<circle cx="224.42" cy="72.23" r="0.62" fill="#84492f"/>
<circle cx="225.38" cy="71.04" r="0.62" fill="#84492f"/>
<circle cx="226.16" cy="70.3" r="0.62" fill="#84492f"/>
<circle cx="226.9" cy="73.83" r="0.62" fill="#84492f"/>
<circle cx="227.97" cy="66.41" r="0.62" fill="#84492f"/>
<circle cx="228.14" cy="64.84" r="0.62" fill="#84492f"/>
<circle cx="218.92" cy="65.5" r="0.62" fill="#84492f"/>
<circle cx="223.3" cy="63.99" r="0.62" fill="#84492f"/>
<circle cx="220.61" cy="68.5" r="0.62" fill="#84492f"/>
<circle cx="226.7" cy="68.56" r="0.62" fill="#84492f"/>
<circle cx="228.15" cy="72.91" r="0.62" fill="#84492f"/>
<circle cx="229.77" cy="70.16" r="0.62" fill="#84492f"/>
<circle cx="221.58" cy="69.85" r="0.62" fill="#84492f"/>
<circle cx="223" cy="72.57" r="0.62" fill="#84492f"/>
<circle cx="221.04" cy="64.62" r="0.62" fill="#84492f"/>
<circle cx="227.81" cy="72.04" r="0.62" fill="#84492f"/>
<circle cx="222.92" cy="65.58" r="0.62" fill="#84492f"/>
<circle cx="228.04" cy="65.23" r="0.62" fill="#84492f"/>
<circle cx="223.34" cy="67.08" r="0.62" fill="#84492f"/>
<circle cx="221.78" cy="64.06" r="0.62" fill="#84492f"/>
<circle cx="220.15" cy="67.61" r="0.62" fill="#84492f"/>
<circle cx="227.34" cy="70.73" r="0.62" fill="#84492f"/>
<circle cx="224.36" cy="70.66" r="0.62" fill="#84492f"/>
<circle cx="224.21" cy="64.15" r="0.62" fill="#84492f"/>
<circle cx="232.04" cy="70.45" r="0.62" fill="#84492f"/>
<circle cx="228.13" cy="68.46" r="0.62" fill="#84492f"/>
<circle cx="223.09" cy="68.32" r="0.62" fill="#84492f"/>
<circle cx="228.9" cy="68.54" r="0.62" fill="#84492f"/>
<circle cx="224.13" cy="66.94" r="0.62" fill="#84492f"/>
<circle cx="221.04" cy="69.14" r="0.62" fill="#84492f"/>
<circle cx="231.86" cy="68.99" r="0.62" fill="#84492f"/>
<circle cx="223.04" cy="68.66" r="0.62" fill="#84492f"/>
<circle cx="221.43" cy="66.2" r="0.62" fill="#84492f"/>
<circle cx="219.37" cy="68.72" r="0.62" fill="#84492f"/>
<circle cx="225.87" cy="72.2" r="0.62" fill="#84492f"/>
<circle cx="222.91" cy="65.02" r="0.62" fill="#84492f"/>
<circle cx="220.58" cy="67.51" r="0.62" fill="#84492f"/>
<circle cx="223.41" cy="70.41" r="0.62" fill="#84492f"/>
<circle cx="219.51" cy="68.21" r="0.62" fill="#84492f"/>
<circle cx="229.71" cy="67.55" r="0.62" fill="#84492f"/>
<circle cx="228.47" cy="67.36" r="0.62" fill="#84492f"/>
<circle cx="226.09" cy="68.03" r="0.62" fill="#84492f"/>
<circle cx="222.36" cy="70.3" r="0.62" fill="#84492f"/>
<circle cx="224.73" cy="65.17" r="0.62" fill="#84492f"/>
<circle cx="225.78" cy="68.06" r="0.62" fill="#84492f"/>
<circle cx="224.05" cy="73.35" r="0.62" fill="#84492f"/>
<circle cx="225.24" cy="67.46" r="0.62" fill="#84492f"/>
<circle cx="228.02" cy="71.02" r="0.62" fill="#84492f"/>
<circle cx="227.09" cy="71.75" r="0.62" fill="#84492f"/>
<circle cx="227.21" cy="74.5" r="0.62" fill="#84492f"/>
<circle cx="223.69" cy="74.29" r="0.62" fill="#84492f"/>
<circle cx="227.09" cy="76.66" r="0.62" fill="#84492f"/>
<circle cx="224.7" cy="77.1" r="0.62" fill="#84492f"/>
<circle cx="227.17" cy="73.37" r="0.62" fill="#84492f"/>
<circle cx="227.46" cy="73.69" r="0.62" fill="#84492f"/>
<circle cx="226.64" cy="76.77" r="0.62" fill="#84492f"/>
<circle cx="229.11" cy="76.5" r="0.62" fill="#84492f"/>
<circle cx="224.46" cy="73.96" r="0.62" fill="#84492f"/>
<circle cx="227.43" cy="74.88" r="0.62" fill="#84492f"/>
<circle cx="226.92" cy="73.67" r="0.62" fill="#84492f"/>
<circle cx="223.94" cy="72.99" r="0.62" fill="#84492f"/>
<circle cx="221.7" cy="74.57" r="0.62" fill="#84492f"/>
<circle cx="230.66" cy="83.33" r="0.62" fill="#d21f24"/>
<circle cx="223.58" cy="82.16" r="0.62" fill="#d21f24"/>
<circle cx="232.37" cy="79.58" r="0.62" fill="#d21f24"/>
<circle cx="227.48" cy="81.03" r="0.62" fill="#d21f24"/>
<circle cx="232.48" cy="86.61" r="0.62" fill="#d21f24"/>
<circle cx="223.71" cy="81.41" r="0.62" fill="#d21f24"/>
<circle cx="229.2" cy="79.19" r="0.62" fill="#d21f24"/>
<circle cx="229.48" cy="87.37" r="0.62" fill="#d21f24"/>
<circle cx="228.09" cy="89.17" r="0.62" fill="#d21f24"/>
<circle cx="232.44" cy="87.32" r="0.62" fill="#d21f24"/>
<circle cx="229.18" cy="84.15" r="0.62" fill="#d21f24"/>
<circle cx="226.22" cy="83.28" r="0.62" fill="#d21f24"/>
<circle cx="224.18" cy="88.72" r="0.62" fill="#d21f24"/>
<circle cx="217.77" cy="82.58" r="0.62" fill="#d21f24"/>
<circle cx="223.93" cy="83.99" r="0.62" fill="#d21f24"/>
<circle cx="231.28" cy="80.96" r="0.62" fill="#d21f24"/>
<circle cx="226.03" cy="86.74" r="0.62" fill="#d21f24"/>
<circle cx="226.55" cy="81.9" r="0.62" fill="#d21f24"/>
<circle cx="221.77" cy="85.86" r="0.62" fill="#d21f24"/>
<circle cx="228.97" cy="82.27" r="0.62" fill="#d21f24"/>
<circle cx="228.17" cy="84.32" r="0.62" fill="#d21f24"/>
<circle cx="231.85" cy="84.99" r="0.62" fill="#d21f24"/>
<circle cx="231.1" cy="85.29" r="0.62" fill="#d21f24"/>
<circle cx="232.38" cy="86.85" r="0.62" fill="#d21f24"/>
<circle cx="222.85" cy="84.35" r="0.62" fill="#d21f24"/>
<circle cx="220.78" cy="88.82" r="0.62" fill="#d21f24"/>
<circle cx="228.47" cy="82.2" r="0.62" fill="#d21f24"/>
<circle cx="222" cy="83.13" r="0.62" fill="#d21f24"/>
<circle cx="226.85" cy="87.98" r="0.62" fill="#d21f24"/>
<circle cx="225.63" cy="76.54" r="0.62" fill="#d21f24"/>
<circle cx="223.95" cy="79.11" r="0.62" fill="#d21f24"/>
<circle cx="229.72" cy="85" r="0.62" fill="#d21f24"/>
<circle cx="230.08" cy="89.58" r="0.62" fill="#d21f24"/>
<circle cx="231.42" cy="82.31" r="0.62" fill="#d21f24"/>
<circle cx="225.6" cy="84.69" r="0.62" fill="#d21f24"/>
<circle cx="232.26" cy="81" r="0.62" fill="#d21f24"/>
<circle cx="225.8" cy="86.66" r="0.62" fill="#d21f24"/>
<circle cx="220.99" cy="87.64" r="0.62" fill="#d21f24"/>
<circle cx="232.2" cy="85.57" r="0.62" fill="#d21f24"/>
<circle cx="223.21" cy="83.26" r="0.62" fill="#d21f24"/>
<circle cx="222.56" cy="84.46" r="0.62" fill="#d21f24"/>
<circle cx="234.31" cy="84.75" r="0.62" fill="#d21f24"/>
<circle cx="226" cy="89.17" r="0.62" fill="#d21f24"/>
<circle cx="222.98" cy="82.22" r="0.62" fill="#d21f24"/>
<circle cx="233.44" cy="80.38" r="0.62" fill="#d21f24"/>
<circle cx="230" cy="88.94" r="0.62" fill="#d21f24"/>
<circle cx="223.89" cy="86.48" r="0.62" fill="#d21f24"/>
<circle cx="225.1" cy="86.49" r="0.62" fill="#d21f24"/>
<circle cx="219.27" cy="88.14" r="0.62" fill="#d21f24"/>
<circle cx="232.15" cy="85.46" r="0.62" fill="#d21f24"/>
<circle cx="233.34" cy="84.04" r="0.62" fill="#d21f24"/>
<circle cx="219.42" cy="76.88" r="0.62" fill="#d21f24"/>
<circle cx="225.99" cy="86.81" r="0.62" fill="#d21f24"/>
<circle cx="231.91" cy="80.43" r="0.62" fill="#d21f24"/>
<circle cx="221.27" cy="86.55" r="0.62" fill="#d21f24"/>
<circle cx="232.7" cy="83.23" r="0.62" fill="#d21f24"/>
<circle cx="227.79" cy="86.02" r="0.62" fill="#d21f24"/>
<circle cx="231.82" cy="79.92" r="0.62" fill="#d21f24"/>
<circle cx="231.67" cy="80.14" r="0.62" fill="#d21f24"/>
<circle cx="228.29" cy="90.37" r="0.62" fill="#d21f24"/>
<circle cx="224.41" cy="90.08" r="0.62" fill="#d21f24"/>
<circle cx="220.78" cy="90.11" r="0.62" fill="#d21f24"/>
<circle cx="219.35" cy="84.9" r="0.62" fill="#d21f24"/>
<circle cx="226.13" cy="89.56" r="0.62" fill="#d21f24"/>
<circle cx="230.71" cy="83.5" r="0.62" fill="#d21f24"/>
<circle cx="219.21" cy="83.5" r="0.62" fill="#d21f24"/>
<circle cx="230.82" cy="82.59" r="0.62" fill="#d21f24"/>
<circle cx="232.68" cy="79.58" r="0.62" fill="#d21f24"/>
<circle cx="230.58" cy="89.31" r="0.62" fill="#d21f24"/>
<circle cx="225.57" cy="86" r="0.62" fill="#d21f24"/>
<circle cx="221.21" cy="78.11" r="0.62" fill="#d21f24"/>
<circle cx="220.92" cy="89.45" r="0.62" fill="#d21f24"/>
<circle cx="230.17" cy="80.82" r="0.62" fill="#d21f24"/>
<circle cx="228.36" cy="80.58" r="0.62" fill="#d21f24"/>
<circle cx="224.22" cy="88.34" r="0.62" fill="#d21f24"/>
<circle cx="221.69" cy="85.62" r="0.62" fill="#d21f24"/>
<circle cx="224.39" cy="86.53" r="0.62" fill="#d21f24"/>
<circle cx="223.12" cy="81.67" r="0.62" fill="#d21f24"/>
<circle cx="234.21" cy="82.44" r="0.62" fill="#d21f24"/>
<circle cx="231.04" cy="81.31" r="0.62" fill="#d21f24"/>
<circle cx="224.91" cy="85.94" r="0.62" fill="#d21f24"/>
<circle cx="220.54" cy="78.07" r="0.62" fill="#d21f24"/>
<circle cx="223" cy="75.13" r="0.62" fill="#d21f24"/>
<circle cx="227.42" cy="78.97" r="0.62" fill="#d21f24"/>
<circle cx="223.09" cy="83.58" r="0.62" fill="#d21f24"/>
<circle cx="224.87" cy="85.97" r="0.62" fill="#d21f24"/>
<circle cx="228.86" cy="78.24" r="0.62" fill="#d21f24"/>
<circle cx="227.4" cy="82.61" r="0.62" fill="#d21f24"/>
<circle cx="219.61" cy="81.52" r="0.62" fill="#d21f24"/>
<circle cx="226.86" cy="81.54" r="0.62" fill="#d21f24"/>
<circle cx="228.11" cy="88.82" r="0.62" fill="#d21f24"/>
<circle cx="223.63" cy="84.34" r="0.62" fill="#d21f24"/>
<circle cx="230.68" cy="85.96" r="0.62" fill="#d21f24"/>
<circle cx="223.02" cy="88.93" r="0.62" fill="#d21f24"/>
<circle cx="226.77" cy="87.78" r="0.62" fill="#d21f24"/>
<circle cx="225.38" cy="90.83" r="0.62" fill="#d21f24"/>
<circle cx="228.07" cy="80.94" r="0.62" fill="#d21f24"/>
<circle cx="227.1" cy="79.95" r="0.62" fill="#d21f24"/>
<circle cx="223.87" cy="88.59" r="0.62" fill="#d21f24"/>
<circle cx="227.04" cy="90.67" r="0.62" fill="#d21f24"/>
<circle cx="229.59" cy="88.08" r="0.62" fill="#d21f24"/>
<circle cx="228.4" cy="76.26" r="0.62" fill="#d21f24"/>
<circle cx="218" cy="84.98" r="0.62" fill="#d21f24"/>
<circle cx="223.17" cy="78.67" r="0.62" fill="#d21f24"/>
<circle cx="231.16" cy="78.98" r="0.62" fill="#d21f24"/>
<circle cx="227.2" cy="85.23" r="0.62" fill="#d21f24"/>
<circle cx="221.34" cy="81.83" r="0.62" fill="#d21f24"/>
<circle cx="224.05" cy="77.37" r="0.62" fill="#d21f24"/>
<circle cx="222.56" cy="89.28" r="0.62" fill="#d21f24"/>
<circle cx="221.85" cy="82.3" r="0.62" fill="#d21f24"/>
<circle cx="222.42" cy="78.98" r="0.62" fill="#d21f24"/>
<circle cx="222.39" cy="86.38" r="0.62" fill="#d21f24"/>
<circle cx="219.43" cy="82.64" r="0.62" fill="#d21f24"/>
<circle cx="228.63" cy="78.05" r="0.62" fill="#d21f24"/>
<circle cx="217.86" cy="83.4" r="0.62" fill="#d21f24"/>
<circle cx="227.09" cy="87.27" r="0.62" fill="#d21f24"/>
<circle cx="225.5" cy="76.81" r="0.62" fill="#d21f24"/>
<circle cx="223.92" cy="85.27" r="0.62" fill="#d21f24"/>
<circle cx="225.48" cy="82.41" r="0.62" fill="#d21f24"/>
<circle cx="233.77" cy="81.58" r="0.62" fill="#d21f24"/>
<circle cx="230.63" cy="88.93" r="0.62" fill="#d21f24"/>
<circle cx="226.31" cy="81.12" r="0.62" fill="#d21f24"/>
<circle cx="232.96" cy="79.97" r="0.62" fill="#d21f24"/>
<circle cx="229.29" cy="84.96" r="0.62" fill="#d21f24"/>
<circle cx="225.25" cy="81.71" r="0.62" fill="#d21f24"/>
<circle cx="221.43" cy="85.6" r="0.62" fill="#d21f24"/>
<circle cx="228.1" cy="87.53" r="0.62" fill="#d21f24"/>
<circle cx="221.85" cy="79.53" r="0.62" fill="#d21f24"/>
<circle cx="228.92" cy="77.21" r="0.62" fill="#d21f24"/>
<circle cx="230.24" cy="81.76" r="0.62" fill="#d21f24"/>
<circle cx="233.26" cy="81.58" r="0.62" fill="#d21f24"/>
<circle cx="231.27" cy="89.2" r="0.62" fill="#d21f24"/>
<circle cx="229.64" cy="86.55" r="0.62" fill="#d21f24"/>
<circle cx="223.36" cy="81.53" r="0.62" fill="#d21f24"/>
<circle cx="228.64" cy="86.88" r="0.62" fill="#d21f24"/>
<circle cx="232.82" cy="81.65" r="0.62" fill="#d21f24"/>
<circle cx="222.94" cy="84.06" r="0.62" fill="#d21f24"/>
<circle cx="228.6" cy="79.72" r="0.62" fill="#d21f24"/>
<circle cx="222.38" cy="86.62" r="0.62" fill="#d21f24"/>
<circle cx="221.74" cy="88.37" r="0.62" fill="#d21f24"/>
<circle cx="221" cy="80.63" r="0.62" fill="#d21f24"/>
<circle cx="225.61" cy="82.23" r="0.62" fill="#d21f24"/>
<circle cx="227.79" cy="82.12" r="0.62" fill="#d21f24"/>
<circle cx="226.32" cy="84.06" r="0.62" fill="#d21f24"/>
<circle cx="228.61" cy="79.16" r="0.62" fill="#d21f24"/>
<circle cx="222.31" cy="84.38" r="0.62" fill="#d21f24"/>
<circle cx="220.66" cy="86.03" r="0.62" fill="#d21f24"/>
<circle cx="228.27" cy="88.66" r="0.62" fill="#d21f24"/>
<circle cx="230.09" cy="83.2" r="0.62" fill="#d21f24"/>
<circle cx="225.71" cy="76.2" r="0.62" fill="#d21f24"/>
<circle cx="213.46" cy="98.17" r="0.62" fill="#f46f10"/>
<circle cx="214.88" cy="93.19" r="0.62" fill="#f46f10"/>
<circle cx="207.23" cy="97.55" r="0.62" fill="#f46f10"/>
<circle cx="213.48" cy="95.04" r="0.62" fill="#f46f10"/>
<circle cx="212.76" cy="91.09" r="0.62" fill="#f46f10"/>
<circle cx="209.21" cy="89.46" r="0.62" fill="#f46f10"/>
<circle cx="207.44" cy="97.68" r="0.62" fill="#f46f10"/>
<circle cx="212.27" cy="91.69" r="0.62" fill="#f46f10"/>
<circle cx="205.31" cy="96.12" r="0.62" fill="#f46f10"/>
<circle cx="213.91" cy="97.11" r="0.62" fill="#f46f10"/>
<circle cx="210.28" cy="89.93" r="0.62" fill="#f46f10"/>
<circle cx="214.59" cy="98.75" r="0.62" fill="#f46f10"/>
<circle cx="213.88" cy="90.7" r="0.62" fill="#f46f10"/>
<circle cx="209.84" cy="91.82" r="0.62" fill="#f46f10"/>
<circle cx="209.24" cy="95.85" r="0.62" fill="#f46f10"/>
<circle cx="216.56" cy="92.52" r="0.62" fill="#f46f10"/>
<circle cx="205.82" cy="93.18" r="0.62" fill="#f46f10"/>
<circle cx="212.96" cy="99.37" r="0.62" fill="#f46f10"/>
<circle cx="207.81" cy="93.19" r="0.62" fill="#f46f10"/>
<circle cx="207.63" cy="94.02" r="0.62" fill="#f46f10"/>
<circle cx="213.74" cy="92.56" r="0.62" fill="#f46f10"/>
<circle cx="206.85" cy="96.07" r="0.62" fill="#f46f10"/>
<circle cx="215.43" cy="93.21" r="0.62" fill="#f46f10"/>
<circle cx="214.72" cy="93.42" r="0.62" fill="#f46f10"/>
<circle cx="207.53" cy="95.1" r="0.62" fill="#f46f10"/>
<circle cx="209.11" cy="95.14" r="0.62" fill="#f46f10"/>
<circle cx="215.22" cy="92.25" r="0.62" fill="#f46f10"/>
<circle cx="213.88" cy="93.14" r="0.62" fill="#f46f10"/>
<circle cx="214.28" cy="95.91" r="0.62" fill="#f46f10"/>
<circle cx="214.16" cy="93.86" r="0.62" fill="#f46f10"/>
<circle cx="208.34" cy="92.46" r="0.62" fill="#f46f10"/>
<circle cx="207.04" cy="92.11" r="0.62" fill="#f46f10"/>
<circle cx="216.18" cy="96.29" r="0.62" fill="#f46f10"/>
<circle cx="210.02" cy="92.92" r="0.62" fill="#f46f10"/>
<circle cx="210.25" cy="95.34" r="0.62" fill="#f46f10"/>
<circle cx="211.3" cy="97.3" r="0.62" fill="#f46f10"/>
<circle cx="213.28" cy="93.77" r="0.62" fill="#f46f10"/>
<circle cx="205.29" cy="91.99" r="0.62" fill="#f46f10"/>
<circle cx="205.77" cy="98.15" r="0.62" fill="#f46f10"/>
<circle cx="210.94" cy="98.25" r="0.62" fill="#f46f10"/>
<circle cx="206.69" cy="96.27" r="0.62" fill="#f46f10"/>
<circle cx="204.77" cy="94.49" r="0.62" fill="#f46f10"/>
<circle cx="211.12" cy="93.68" r="0.62" fill="#f46f10"/>
<circle cx="205.78" cy="95.54" r="0.62" fill="#f46f10"/>
<circle cx="215.21" cy="90.21" r="0.62" fill="#f46f10"/>
<circle cx="210.22" cy="97.01" r="0.62" fill="#f46f10"/>
<circle cx="205.5" cy="96.97" r="0.62" fill="#f46f10"/>
<circle cx="207.88" cy="96.23" r="0.62" fill="#f46f10"/>
<circle cx="213.15" cy="91.61" r="0.62" fill="#f46f10"/>
<circle cx="212.59" cy="95.93" r="0.62" fill="#f46f10"/>
<circle cx="208.21" cy="98.22" r="0.62" fill="#f46f10"/>
<circle cx="208.43" cy="91.46" r="0.62" fill="#f46f10"/>
<circle cx="207.11" cy="91.81" r="0.62" fill="#f46f10"/>
<circle cx="214.19" cy="99.21" r="0.62" fill="#f46f10"/>
<circle cx="207.47" cy="90.43" r="0.62" fill="#f46f10"/>
<circle cx="204.78" cy="95.87" r="0.62" fill="#f46f10"/>
<circle cx="208.26" cy="92.12" r="0.62" fill="#f46f10"/>
<circle cx="204.93" cy="96.11" r="0.62" fill="#f46f10"/>
<circle cx="217.04" cy="95.95" r="0.62" fill="#f46f10"/>
<circle cx="207.13" cy="98.36" r="0.62" fill="#f46f10"/>
<circle cx="206.45" cy="97.7" r="0.62" fill="#f46f10"/>
<circle cx="212.83" cy="99.58" r="0.62" fill="#f46f10"/>
<circle cx="211.25" cy="99.41" r="0.62" fill="#f46f10"/>
<circle cx="211.67" cy="94" r="0.62" fill="#f46f10"/>
<circle cx="209.61" cy="94.75" r="0.62" fill="#f46f10"/>
<circle cx="210.47" cy="92.95" r="0.62" fill="#f46f10"/>
<circle cx="210.22" cy="96.28" r="0.62" fill="#f46f10"/>
<circle cx="207.32" cy="97.37" r="0.62" fill="#f46f10"/>
<circle cx="207.19" cy="93.02" r="0.62" fill="#f46f10"/>
<circle cx="212.04" cy="92.47" r="0.62" fill="#f46f10"/>
<circle cx="209.61" cy="91.57" r="0.62" fill="#fcbb85"/>
<circle cx="207.39" cy="96.55" r="0.62" fill="#fcbb85"/>
<circle cx="214.92" cy="95.5" r="0.62" fill="#fcbb85"/>
<circle cx="213.95" cy="95.55" r="0.62" fill="#fcbb85"/>
<circle cx="211.45" cy="93.49" r="0.62" fill="#fcbb85"/>
<circle cx="207.72" cy="96.42" r="0.62" fill="#fcbb85"/>
<circle cx="209.02" cy="97.36" r="0.62" fill="#fcbb85"/>
<circle cx="212.53" cy="95.66" r="0.62" fill="#fcbb85"/>
<circle cx="209.59" cy="96.05" r="0.62" fill="#fcbb85"/>
<circle cx="211.8" cy="92.63" r="0.62" fill="#fcbb85"/>
<circle cx="209.62" cy="95.78" r="0.62" fill="#fcbb85"/>
<circle cx="208.97" cy="91.8" r="0.62" fill="#fcbb85"/>
<circle cx="211.48" cy="91.22" r="0.62" fill="#fcbb85"/>
<circle cx="209.1" cy="92.18" r="0.62" fill="#fcbb85"/>
<circle cx="213.56" cy="95.19" r="0.62" fill="#fcbb85"/>
<circle cx="217.47" cy="104.41" r="0.62" fill="#1f9a2a"/>
<circle cx="210.2" cy="103.75" r="0.62" fill="#1f9a2a"/>
<circle cx="217.85" cy="108.25" r="0.62" fill="#1f9a2a"/>
<circle cx="215.64" cy="104.54" r="0.62" fill="#1f9a2a"/>
<circle cx="215.12" cy="108.76" r="0.62" fill="#1f9a2a"/>
<circle cx="219.19" cy="104.85" r="0.62" fill="#1f9a2a"/>
<circle cx="212.89" cy="100.44" r="0.62" fill="#1f9a2a"/>
<circle cx="211.54" cy="107.98" r="0.62" fill="#1f9a2a"/>
<circle cx="212.27" cy="103.7" r="0.62" fill="#1f9a2a"/>
<circle cx="209.63" cy="105.57" r="0.62" fill="#1f9a2a"/>
<circle cx="216.22" cy="101.36" r="0.62" fill="#1f9a2a"/>
<circle cx="217.8" cy="101.65" r="0.62" fill="#1f9a2a"/>
<circle cx="219.07" cy="106.38" r="0.62" fill="#1f9a2a"/>
<circle cx="213.68" cy="109.69" r="0.62" fill="#1f9a2a"/>
<circle cx="212.79" cy="107.65" r="0.62" fill="#1f9a2a"/>
<circle cx="207.81" cy="102.64" r="0.62" fill="#1f9a2a"/>
<circle cx="211.85" cy="102.54" r="0.62" fill="#1f9a2a"/>
<circle cx="214.2" cy="99.55" r="0.62" fill="#1f9a2a"/>
<circle cx="208.78" cy="101.23" r="0.62" fill="#1f9a2a"/>
<circle cx="211.59" cy="103.58" r="0.62" fill="#1f9a2a"/>
<circle cx="209.56" cy="107.65" r="0.62" fill="#1f9a2a"/>
<circle cx="210.72" cy="98.91" r="0.62" fill="#1f9a2a"/>
<circle cx="212.99" cy="101.76" r="0.62" fill="#1f9a2a"/>
<circle cx="212.65" cy="99.27" r="0.62" fill="#1f9a2a"/>
<circle cx="211.09" cy="100.68" r="0.62" fill="#1f9a2a"/>
<circle cx="219.05" cy="105.81" r="0.62" fill="#1f9a2a"/>
<circle cx="207.34" cy="101.48" r="0.62" fill="#1f9a2a"/>
<circle cx="218.55" cy="105.43" r="0.62" fill="#1f9a2a"/>
<circle cx="208.43" cy="102.36" r="0.62" fill="#1f9a2a"/>
<circle cx="214.31" cy="99.54" r="0.62" fill="#1f9a2a"/>
<circle cx="212.18" cy="103.36" r="0.62" fill="#1f9a2a"/>
<circle cx="213.78" cy="101.81" r="0.62" fill="#1f9a2a"/>
<circle cx="208.1" cy="104.86" r="0.62" fill="#1f9a2a"/>
<circle cx="208.44" cy="105.16" r="0.62" fill="#1f9a2a"/>
<circle cx="212.71" cy="108.57" r="0.62" fill="#1f9a2a"/>
<circle cx="219.33" cy="104.66" r="0.62" fill="#1f9a2a"/>
<circle cx="209.62" cy="102.15" r="0.62" fill="#1f9a2a"/>
<circle cx="211.54" cy="104.81" r="0.62" fill="#1f9a2a"/>
<circle cx="217.7" cy="106.03" r="0.62" fill="#1f9a2a"/>
<circle cx="217.31" cy="101.53" r="0.62" fill="#1f9a2a"/>
<circle cx="213.64" cy="109.66" r="0.62" fill="#1f9a2a"/>
<circle cx="215.95" cy="102.37" r="0.62" fill="#1f9a2a"/>
<circle cx="215.19" cy="109.44" r="0.62" fill="#1f9a2a"/>
<circle cx="217.37" cy="107.14" r="0.62" fill="#1f9a2a"/>
<circle cx="208.74" cy="106.84" r="0.62" fill="#1f9a2a"/>
<circle cx="217.12" cy="104.68" r="0.62" fill="#1f9a2a"/>
<circle cx="209.78" cy="100.98" r="0.62" fill="#1f9a2a"/>
<circle cx="216.95" cy="102.94" r="0.62" fill="#1f9a2a"/>
<circle cx="219.27" cy="102.5" r="0.62" fill="#1f9a2a"/>
<circle cx="210.02" cy="104.37" r="0.62" fill="#1f9a2a"/>
<circle cx="213.86" cy="103.3" r="0.62" fill="#1f9a2a"/>
<circle cx="213.25" cy="100.87" r="0.62" fill="#1f9a2a"/>
<circle cx="210.49" cy="105.27" r="0.62" fill="#1f9a2a"/>
<circle cx="218.73" cy="99.56" r="0.62" fill="#1f9a2a"/>
<circle cx="211.91" cy="107.53" r="0.62" fill="#1f9a2a"/>
<circle cx="218.25" cy="105.64" r="0.62" fill="#1f9a2a"/>
<circle cx="208.52" cy="104.16" r="0.62" fill="#1f9a2a"/>
<circle cx="214.32" cy="108.77" r="0.62" fill="#1f9a2a"/>
<circle cx="215.91" cy="107.5" r="0.62" fill="#1f9a2a"/>
<circle cx="214.08" cy="103.46" r="0.62" fill="#1f9a2a"/>
<circle cx="216.31" cy="105.7" r="0.62" fill="#1f9a2a"/>
<circle cx="208.88" cy="106.54" r="0.62" fill="#1f9a2a"/>
<circle cx="210.69" cy="109.39" r="0.62" fill="#1f9a2a"/>
<circle cx="213.33" cy="104.8" r="0.62" fill="#1f9a2a"/>
<circle cx="214.37" cy="101.61" r="0.62" fill="#1f9a2a"/>
<circle cx="210.18" cy="98.85" r="0.62" fill="#1f9a2a"/>
<circle cx="207.8" cy="106.01" r="0.62" fill="#1f9a2a"/>
<circle cx="220.65" cy="104.26" r="0.62" fill="#1f9a2a"/>
<circle cx="211.07" cy="99.57" r="0.62" fill="#1f9a2a"/>
<circle cx="214.49" cy="103.14" r="0.62" fill="#1f9a2a"/>
<circle cx="217.09" cy="100.53" r="0.62" fill="#1f9a2a"/>
<circle cx="213.38" cy="101.83" r="0.62" fill="#1f9a2a"/>
<circle cx="208.53" cy="108.91" r="0.62" fill="#1f9a2a"/>
<circle cx="216.92" cy="102.67" r="0.62" fill="#1f9a2a"/>
<circle cx="207.56" cy="103.21" r="0.62" fill="#1f9a2a"/>
<circle cx="215.59" cy="100.71" r="0.62" fill="#1f9a2a"/>
<circle cx="207.84" cy="102.35" r="0.62" fill="#1f9a2a"/>
<circle cx="215.33" cy="104.42" r="0.62" fill="#1f9a2a"/>
<circle cx="211.47" cy="99.94" r="0.62" fill="#1f9a2a"/>
<circle cx="211.98" cy="107.79" r="0.62" fill="#1f9a2a"/>
<circle cx="219.6" cy="105.08" r="0.62" fill="#1f9a2a"/>
<circle cx="218.13" cy="100.83" r="0.62" fill="#1f9a2a"/>
<circle cx="211.32" cy="98.21" r="0.62" fill="#1f9a2a"/>
<circle cx="208.95" cy="103.88" r="0.62" fill="#1f9a2a"/>
<circle cx="217.82" cy="105.94" r="0.62" fill="#1f9a2a"/>
<circle cx="219.68" cy="102.87" r="0.62" fill="#1f9a2a"/>
<circle cx="219.05" cy="103.04" r="0.62" fill="#1f9a2a"/>
<circle cx="216.98" cy="104.57" r="0.62" fill="#1f9a2a"/>
<circle cx="214.17" cy="107.49" r="0.62" fill="#1f9a2a"/>
<circle cx="214.73" cy="103.77" r="0.62" fill="#1f9a2a"/>
<circle cx="221.16" cy="102.02" r="0.62" fill="#1f9a2a"/>
<circle cx="218.72" cy="107.42" r="0.62" fill="#1f9a2a"/>
<circle cx="209.19" cy="106.79" r="0.62" fill="#1f9a2a"/>
<circle cx="216.22" cy="104.44" r="0.62" fill="#1f9a2a"/>
<circle cx="216.08" cy="103.38" r="0.62" fill="#1f9a2a"/>
<circle cx="214.59" cy="104.69" r="0.62" fill="#1f9a2a"/>
<circle cx="212.06" cy="99.82" r="0.62" fill="#1f9a2a"/>
<circle cx="209.94" cy="103.99" r="0.62" fill="#1f9a2a"/>
<circle cx="213.24" cy="103.59" r="0.62" fill="#1f9a2a"/>
<circle cx="218.26" cy="106.88" r="0.62" fill="#1f9a2a"/>
<circle cx="217.34" cy="101.75" r="0.62" fill="#1f9a2a"/>
<circle cx="214.01" cy="108.01" r="0.62" fill="#1f9a2a"/>
<circle cx="214.09" cy="99.87" r="0.62" fill="#1f9a2a"/>
<circle cx="215.69" cy="104.51" r="0.62" fill="#1f9a2a"/>
<circle cx="211.83" cy="101.18" r="0.62" fill="#1f9a2a"/>
<circle cx="209.81" cy="105.08" r="0.62" fill="#1f9a2a"/>
<circle cx="217.54" cy="105.54" r="0.62" fill="#1f9a2a"/>
<circle cx="208.21" cy="105.64" r="0.62" fill="#1f9a2a"/>
<circle cx="216.11" cy="103.35" r="0.62" fill="#1f9a2a"/>
<circle cx="217.92" cy="102.1" r="0.62" fill="#1f9a2a"/>
<circle cx="218.64" cy="101.91" r="0.62" fill="#1f9a2a"/>
<circle cx="210.61" cy="108.61" r="0.62" fill="#1f9a2a"/>
<circle cx="211.69" cy="104.51" r="0.62" fill="#1f9a2a"/>
<circle cx="213.11" cy="108.95" r="0.62" fill="#1f9a2a"/>
<circle cx="209.33" cy="105.92" r="0.62" fill="#1f9a2a"/>
<circle cx="213.98" cy="109.75" r="0.62" fill="#1f9a2a"/>
<circle cx="208.71" cy="105.05" r="0.62" fill="#1f9a2a"/>
<circle cx="218.58" cy="107.16" r="0.62" fill="#1f9a2a"/>
<circle cx="208.55" cy="102.86" r="0.62" fill="#1f9a2a"/>
<circle cx="210.26" cy="103.26" r="0.62" fill="#1f9a2a"/>
<circle cx="214.64" cy="99.96" r="0.62" fill="#1f9a2a"/>
<circle cx="217.24" cy="102.75" r="0.62" fill="#1f9a2a"/>
<circle cx="210.93" cy="107.37" r="0.62" fill="#1f9a2a"/>
<circle cx="215.62" cy="103.78" r="0.62" fill="#1f9a2a"/>
<circle cx="217.83" cy="104.36" r="0.62" fill="#1f9a2a"/>
<circle cx="217.55" cy="102.28" r="0.62" fill="#1f9a2a"/>
<circle cx="216.71" cy="99.31" r="0.62" fill="#1f9a2a"/>
<circle cx="212.09" cy="100.69" r="0.62" fill="#1f9a2a"/>
<circle cx="218.11" cy="102.77" r="0.62" fill="#1f9a2a"/>
<circle cx="210.51" cy="104.1" r="0.62" fill="#1f9a2a"/>
<circle cx="217.17" cy="106.27" r="0.62" fill="#8edc80"/>
<circle cx="210.34" cy="108.18" r="0.62" fill="#8edc80"/>
<circle cx="214.32" cy="102.08" r="0.62" fill="#8edc80"/>
<circle cx="215.61" cy="108.26" r="0.62" fill="#8edc80"/>
<circle cx="210.93" cy="105.72" r="0.62" fill="#8edc80"/>
<circle cx="214.99" cy="108.66" r="0.62" fill="#8edc80"/>
<circle cx="214.28" cy="102.78" r="0.62" fill="#8edc80"/>
<circle cx="218.17" cy="106.17" r="0.62" fill="#8edc80"/>
<circle cx="217.72" cy="103.75" r="0.62" fill="#8edc80"/>
<circle cx="212.01" cy="107.99" r="0.62" fill="#8edc80"/>
<circle cx="215.65" cy="106.69" r="0.62" fill="#8edc80"/>
<circle cx="217.83" cy="105.86" r="0.62" fill="#8edc80"/>
<circle cx="240.43" cy="79.52" r="0.62" fill="#1b6db3"/>
<circle cx="249.87" cy="76.1" r="0.62" fill="#1b6db3"/>
<circle cx="243.07" cy="54.62" r="0.62" fill="#1b6db3"/>
<circle cx="226.05" cy="87.04" r="0.62" fill="#1b6db3"/>
<circle cx="226.16" cy="76.01" r="0.62" fill="#1b6db3"/>
<circle cx="233.7" cy="66.81" r="0.62" fill="#1b6db3"/>
<circle cx="230.86" cy="86.54" r="0.62" fill="#1f9a2a"/>
<circle cx="240.48" cy="80.82" r="0.62" fill="#1f9a2a"/>
<circle cx="237.17" cy="82.34" r="0.62" fill="#1f9a2a"/>
<circle cx="240.5" cy="100.26" r="0.62" fill="#1f9a2a"/>
<circle cx="239.34" cy="102.13" r="0.62" fill="#1f9a2a"/>
<circle cx="231.42" cy="91.98" r="0.62" fill="#1f9a2a"/>
<circle cx="239.25" cy="89.31" r="0.62" fill="#1f9a2a"/>
<circle cx="231.06" cy="85.26" r="0.62" fill="#1f9a2a"/>
<circle cx="230.71" cy="86.41" r="0.62" fill="#1f9a2a"/>
<circle cx="229.54" cy="93.14" r="0.62" fill="#1f9a2a"/>
<circle cx="241.66" cy="104.04" r="0.62" fill="#7f4fbf"/>
<circle cx="240.93" cy="103.19" r="0.62" fill="#7f4fbf"/>
<circle cx="240.67" cy="104.79" r="0.62" fill="#7f4fbf"/>
<circle cx="251.1" cy="105.4" r="0.62" fill="#7f4fbf"/>
<circle cx="248.47" cy="96.07" r="0.62" fill="#7f4fbf"/>
<circle cx="241.01" cy="101.43" r="0.62" fill="#7f4fbf"/>
<circle cx="249.61" cy="98.82" r="0.62" fill="#7f4fbf"/>
<circle cx="249.08" cy="107.67" r="0.62" fill="#7f4fbf"/>
<circle cx="247.99" cy="98.96" r="0.62" fill="#7f4fbf"/>
<circle cx="249.62" cy="107.41" r="0.62" fill="#7f4fbf"/>
<circle cx="240.69" cy="84.88" r="0.62" fill="#d21f24"/>
<circle cx="238.9" cy="94.76" r="0.62" fill="#d21f24"/>
<circle cx="243.14" cy="78.22" r="0.62" fill="#d21f24"/>
<circle cx="245.39" cy="90.89" r="0.62" fill="#d21f24"/>
<circle cx="240.69" cy="80.51" r="0.62" fill="#d21f24"/>
<circle cx="242.42" cy="74.77" r="0.62" fill="#d21f24"/>
<circle cx="217.55" cy="113.72" r="0.62" fill="#84492f"/>
<circle cx="212.63" cy="115.44" r="0.62" fill="#84492f"/>
<circle cx="221.78" cy="115.81" r="0.62" fill="#84492f"/>
<circle cx="215.05" cy="115.29" r="0.62" fill="#84492f"/>
<circle cx="210.97" cy="114.28" r="0.62" fill="#84492f"/>
<circle cx="222" cy="114.62" r="0.62" fill="#84492f"/>
<circle cx="218.78" cy="114.54" r="0.62" fill="#84492f"/>
<circle cx="213.74" cy="114.99" r="0.62" fill="#84492f"/>
<circle cx="242.13" cy="81.94" r="0.62" fill="#a9c5ec"/>
<circle cx="243.92" cy="80.12" r="0.62" fill="#a9c5ec"/>
<circle cx="253.25" cy="77.49" r="0.62" fill="#a9c5ec"/>
<circle cx="253.76" cy="61.05" r="0.62" fill="#a9c5ec"/>
<circle cx="213.58" cy="75.68" r="0.62" fill="#dd62c0"/>
<circle cx="214.1" cy="75.86" r="0.62" fill="#dd62c0"/>
<circle cx="208.15" cy="81.95" r="0.62" fill="#dd62c0"/>
<circle cx="207.89" cy="85.47" r="0.62" fill="#dd62c0"/>
<circle cx="209.12" cy="85.91" r="0.62" fill="#dd62c0"/>
<circle cx="211.22" cy="76.74" r="0.62" fill="#dd62c0"/>
<circle cx="251.74" cy="55.8" r="0.62" fill="#f88f98"/>
<circle cx="258.73" cy="53.35" r="0.62" fill="#f88f98"/>
<circle cx="255.32" cy="51.8" r="0.62" fill="#f88f98"/>
<circle cx="255.23" cy="54.84" r="0.62" fill="#f88f98"/>
<circle cx="255.02" cy="54.22" r="0.62" fill="#f88f98"/>
</g>
<text x="139.6" y="35.3" font-size="5.0" font-weight="bold" text-anchor="middle" fill="#111">Clusters</text>
<rect x="135.2" y="42.45" width="5.6" height="5.4" fill="#1b6db3"/>
<text x="142.4" y="45.35" font-size="5.0" font-weight="bold" fill="#111" dominant-baseline="central">1</text>
<rect x="135.2" y="49.86" width="5.6" height="5.4" fill="#a9c5ec"/>
<text x="142.4" y="52.76" font-size="5.0" font-weight="bold" fill="#111" dominant-baseline="central">2</text>
<rect x="135.2" y="57.27" width="5.6" height="5.4" fill="#f46f10"/>
<text x="142.4" y="60.17" font-size="5.0" font-weight="bold" fill="#111" dominant-baseline="central">3</text>
<rect x="135.2" y="64.68" width="5.6" height="5.4" fill="#fcbb85"/>
<text x="142.4" y="67.58" font-size="5.0" font-weight="bold" fill="#111" dominant-baseline="central">4</text>
<rect x="135.2" y="72.09" width="5.6" height="5.4" fill="#1f9a2a"/>
<text x="142.4" y="74.99" font-size="5.0" font-weight="bold" fill="#111" dominant-baseline="central">5</text>
<rect x="135.2" y="79.5" width="5.6" height="5.4" fill="#8edc80"/>
<text x="142.4" y="82.4" font-size="5.0" font-weight="bold" fill="#111" dominant-baseline="central">6</text>
<rect x="135.2" y="86.91" width="5.6" height="5.4" fill="#d21f24"/>
<text x="142.4" y="89.81" font-size="5.0" font-weight="bold" fill="#111" dominant-baseline="central">7</text>
<rect x="135.2" y="94.32" width="5.6" height="5.4" fill="#f88f98"/>
<text x="142.4" y="97.22" font-size="5.0" font-weight="bold" fill="#111" dominant-baseline="central">8</text>
<rect x="135.2" y="101.73" width="5.6" height="5.4" fill="#7f4fbf"/>
<text x="142.4" y="104.63" font-size="5.0" font-weight="bold" fill="#111" dominant-baseline="central">9</text>
<rect x="135.2" y="109.14" width="5.6" height="5.4" fill="#c3abe0"/>
<text x="142.4" y="112.04" font-size="5.0" font-weight="bold" fill="#111" dominant-baseline="central">10</text>
<rect x="135.2" y="116.55" width="5.6" height="5.4" fill="#84492f"/>
<text x="142.4" y="119.45" font-size="5.0" font-weight="bold" fill="#111" dominant-baseline="central">11</text>
<rect x="135.2" y="123.96" width="5.6" height="5.4" fill="#c99a8c"/>
<text x="142.4" y="126.86" font-size="5.0" font-weight="bold" fill="#111" dominant-baseline="central">12</text>
<rect x="135.2" y="131.37" width="5.6" height="5.4" fill="#dd62c0"/>
<text x="142.4" y="134.27" font-size="5.0" font-weight="bold" fill="#111" dominant-baseline="central">13</text>
<rect x="135.2" y="138.78" width="5.6" height="5.4" fill="#f9bfdc"/>
<text x="142.4" y="141.68" font-size="5.0" font-weight="bold" fill="#111" dominant-baseline="central">14</text>
<rect x="32.3" y="182.7" width="11.55" height="9.83" fill="#eab9bb"/>
<rect x="43.81" y="182.7" width="11.55" height="9.83" fill="#e5a8ab"/>
<rect x="55.31" y="182.7" width="11.55" height="9.83" fill="#f7e3e4"/>
<rect x="66.81" y="182.7" width="11.55" height="9.83" fill="#f8e7e8"/>
<rect x="78.31" y="182.7" width="11.55" height="9.83" fill="#f4dbdc"/>
<rect x="89.82" y="182.7" width="11.55" height="9.83" fill="#edc5c7"/>
<rect x="101.32" y="182.7" width="11.55" height="9.83" fill="#fefcfc"/>
<rect x="112.82" y="182.7" width="11.55" height="9.83" fill="#f8e9e9"/>
<rect x="124.33" y="182.7" width="11.55" height="9.83" fill="#f1d2d4"/>
<rect x="135.83" y="182.7" width="11.55" height="9.83" fill="#f8e8e9"/>
<rect x="147.33" y="182.7" width="11.55" height="9.83" fill="#f9ebec"/>
<rect x="158.84" y="182.7" width="11.55" height="9.83" fill="#fbf1f1"/>
<rect x="170.34" y="182.7" width="11.55" height="9.83" fill="#f9ebec"/>
<rect x="181.84" y="182.7" width="11.55" height="9.83" fill="#fcf5f6"/>
<rect x="193.35" y="182.7" width="11.55" height="9.83" fill="#fbf1f2"/>
<rect x="204.85" y="182.7" width="11.55" height="9.83" fill="#fefcfc"/>
<rect x="216.35" y="182.7" width="11.55" height="9.83" fill="#fcf7f7"/>
<rect x="227.85" y="182.7" width="11.55" height="9.83" fill="#fcf5f6"/>
<rect x="239.36" y="182.7" width="11.55" height="9.83" fill="#fcf7f7"/>
<rect x="262.36" y="182.7" width="11.55" height="9.83" fill="#fefafb"/>
<rect x="273.87" y="182.7" width="11.55" height="9.83" fill="#fffefe"/>
<rect x="296.87" y="182.7" width="11.55" height="9.83" fill="#fdf9fa"/>
<rect x="331.38" y="182.7" width="11.55" height="9.83" fill="#fefbfb"/>
<rect x="342.88" y="182.7" width="11.55" height="9.83" fill="#fffefe"/>
<rect x="354.39" y="182.7" width="11.55" height="9.83" fill="#fefcfc"/>
<rect x="388.9" y="182.7" width="11.55" height="9.83" fill="#fefcfc"/>
<rect x="400.4" y="182.7" width="11.55" height="9.83" fill="#fcf7f7"/>
<rect x="423.41" y="182.7" width="11.55" height="9.83" fill="#fefbfb"/>
<rect x="434.91" y="182.7" width="11.55" height="9.83" fill="#ba1c24"/>
<rect x="20.8" y="192.48" width="11.55" height="9.83" fill="#ba1c24"/>
<rect x="66.81" y="192.48" width="11.55" height="9.83" fill="#fbf1f1"/>
<rect x="78.31" y="192.48" width="11.55" height="9.83" fill="#f9ebec"/>
<rect x="89.82" y="192.48" width="11.55" height="9.83" fill="#fbf1f1"/>
<rect x="112.82" y="192.48" width="11.55" height="9.83" fill="#f7e6e7"/>
<rect x="124.33" y="192.48" width="11.55" height="9.83" fill="#fcf4f5"/>
<rect x="135.83" y="192.48" width="11.55" height="9.83" fill="#fefdfd"/>
<rect x="147.33" y="192.48" width="11.55" height="9.83" fill="#fdfafa"/>
<rect x="158.84" y="192.48" width="11.55" height="9.83" fill="#fffefe"/>
<rect x="170.34" y="192.48" width="11.55" height="9.83" fill="#f9eded"/>
<rect x="181.84" y="192.48" width="11.55" height="9.83" fill="#f8e8e9"/>
<rect x="193.35" y="192.48" width="11.55" height="9.83" fill="#fffdfd"/>
<rect x="204.85" y="192.48" width="11.55" height="9.83" fill="#fefdfd"/>
<rect x="216.35" y="192.48" width="11.55" height="9.83" fill="#fefbfb"/>
<rect x="227.85" y="192.48" width="11.55" height="9.83" fill="#fefdfd"/>
<rect x="239.36" y="192.48" width="11.55" height="9.83" fill="#fefbfb"/>
<rect x="250.86" y="192.48" width="11.55" height="9.83" fill="#fefcfc"/>
<rect x="262.36" y="192.48" width="11.55" height="9.83" fill="#fefdfd"/>
<rect x="273.87" y="192.48" width="11.55" height="9.83" fill="#fefdfd"/>
<rect x="285.37" y="192.48" width="11.55" height="9.83" fill="#fcf5f6"/>
<rect x="296.87" y="192.48" width="11.55" height="9.83" fill="#fffdfd"/>
<rect x="331.38" y="192.48" width="11.55" height="9.83" fill="#fefbfb"/>
<rect x="342.88" y="192.48" width="11.55" height="9.83" fill="#fffdfd"/>
<rect x="354.39" y="192.48" width="11.55" height="9.83" fill="#fefdfd"/>
<rect x="365.89" y="192.48" width="11.55" height="9.83" fill="#fefdfd"/>
<rect x="388.9" y="192.48" width="11.55" height="9.83" fill="#fefcfc"/>
<rect x="32.3" y="202.26" width="11.55" height="9.83" fill="#bc2129"/>
<rect x="43.81" y="202.26" width="11.55" height="9.83" fill="#f0cdce"/>
<rect x="55.31" y="202.26" width="11.55" height="9.83" fill="#f1d2d4"/>
<rect x="66.81" y="202.26" width="11.55" height="9.83" fill="#f5dfe1"/>
<rect x="78.31" y="202.26" width="11.55" height="9.83" fill="#edc3c5"/>
<rect x="89.82" y="202.26" width="11.55" height="9.83" fill="#fbf1f1"/>
<rect x="101.32" y="202.26" width="11.55" height="9.83" fill="#d88085"/>
<rect x="112.82" y="202.26" width="11.55" height="9.83" fill="#fcf4f5"/>
<rect x="124.33" y="202.26" width="11.55" height="9.83" fill="#faeeee"/>
<rect x="135.83" y="202.26" width="11.55" height="9.83" fill="#fefbfb"/>
<rect x="147.33" y="202.26" width="11.55" height="9.83" fill="#f1d1d3"/>
<rect x="170.34" y="202.26" width="11.55" height="9.83" fill="#fdf8f8"/>
<rect x="181.84" y="202.26" width="11.55" height="9.83" fill="#faedee"/>
<rect x="193.35" y="202.26" width="11.55" height="9.83" fill="#fefafa"/>
<rect x="204.85" y="202.26" width="11.55" height="9.83" fill="#fefbfb"/>
<rect x="216.35" y="202.26" width="11.55" height="9.83" fill="#faedee"/>
<rect x="227.85" y="202.26" width="11.55" height="9.83" fill="#fdf8f8"/>
<rect x="239.36" y="202.26" width="11.55" height="9.83" fill="#fcf6f6"/>
<rect x="262.36" y="202.26" width="11.55" height="9.83" fill="#fefbfb"/>
<rect x="273.87" y="202.26" width="11.55" height="9.83" fill="#fbf1f1"/>
<rect x="285.37" y="202.26" width="11.55" height="9.83" fill="#fdf8f8"/>
<rect x="296.87" y="202.26" width="11.55" height="9.83" fill="#fefbfb"/>
<rect x="331.38" y="202.26" width="11.55" height="9.83" fill="#fefbfb"/>
<rect x="400.4" y="202.26" width="11.55" height="9.83" fill="#f8e6e7"/>
<rect x="20.8" y="212.04" width="11.55" height="9.83" fill="#ba1c24"/>
<rect x="43.81" y="212.04" width="11.55" height="9.83" fill="#faeeee"/>
<rect x="55.31" y="212.04" width="11.55" height="9.83" fill="#ba1c24"/>
<rect x="66.81" y="212.04" width="11.55" height="9.83" fill="#fdf8f8"/>
<rect x="78.31" y="212.04" width="11.55" height="9.83" fill="#fbf3f3"/>
<rect x="89.82" y="212.04" width="11.55" height="9.83" fill="#faedee"/>
<rect x="112.82" y="212.04" width="11.55" height="9.83" fill="#f2d3d5"/>
<rect x="124.33" y="212.04" width="11.55" height="9.83" fill="#faefef"/>
<rect x="135.83" y="212.04" width="11.55" height="9.83" fill="#fefdfd"/>
<rect x="147.33" y="212.04" width="11.55" height="9.83" fill="#fdf9f9"/>
<rect x="158.84" y="212.04" width="11.55" height="9.83" fill="#fefdfd"/>
<rect x="170.34" y="212.04" width="11.55" height="9.83" fill="#fdf9f9"/>
<rect x="181.84" y="212.04" width="11.55" height="9.83" fill="#faedee"/>
<rect x="193.35" y="212.04" width="11.55" height="9.83" fill="#fbf2f2"/>
<rect x="204.85" y="212.04" width="11.55" height="9.83" fill="#fffefe"/>
<rect x="216.35" y="212.04" width="11.55" height="9.83" fill="#fefafb"/>
<rect x="227.85" y="212.04" width="11.55" height="9.83" fill="#fefdfd"/>
<rect x="239.36" y="212.04" width="11.55" height="9.83" fill="#fdf9f9"/>
<rect x="262.36" y="212.04" width="11.55" height="9.83" fill="#fefafb"/>
<rect x="273.87" y="212.04" width="11.55" height="9.83" fill="#fefbfb"/>
<rect x="296.87" y="212.04" width="11.55" height="9.83" fill="#fffefe"/>
<rect x="308.38" y="212.04" width="11.55" height="9.83" fill="#fefcfc"/>
<rect x="331.38" y="212.04" width="11.55" height="9.83" fill="#fefcfc"/>
<rect x="354.39" y="212.04" width="11.55" height="9.83" fill="#fefdfd"/>
<rect x="388.9" y="212.04" width="11.55" height="9.83" fill="#fdf9f9"/>
<rect x="43.81" y="221.82" width="11.55" height="9.83" fill="#f2d4d6"/>
<rect x="55.31" y="221.82" width="11.55" height="9.83" fill="#f9eaeb"/>
<rect x="66.81" y="221.82" width="11.55" height="9.83" fill="#f8e7e8"/>
<rect x="78.31" y="221.82" width="11.55" height="9.83" fill="#f9eded"/>
<rect x="89.82" y="221.82" width="11.55" height="9.83" fill="#f8e7e8"/>
<rect x="112.82" y="221.82" width="11.55" height="9.83" fill="#f9eded"/>
<rect x="124.33" y="221.82" width="11.55" height="9.83" fill="#fbf2f3"/>
<rect x="135.83" y="221.82" width="11.55" height="9.83" fill="#fdfafa"/>
<rect x="147.33" y="221.82" width="11.55" height="9.83" fill="#faeeee"/>
<rect x="158.84" y="221.82" width="11.55" height="9.83" fill="#ebbec0"/>
<rect x="170.34" y="221.82" width="11.55" height="9.83" fill="#faedee"/>
<rect x="181.84" y="221.82" width="11.55" height="9.83" fill="#f8e8e9"/>
<rect x="193.35" y="221.82" width="11.55" height="9.83" fill="#f9eded"/>
<rect x="204.85" y="221.82" width="11.55" height="9.83" fill="#f8e8e9"/>
<rect x="216.35" y="221.82" width="11.55" height="9.83" fill="#fdf8f8"/>
<rect x="227.85" y="221.82" width="11.55" height="9.83" fill="#fdfafa"/>
<rect x="239.36" y="221.82" width="11.55" height="9.83" fill="#fefdfd"/>
<rect x="250.86" y="221.82" width="11.55" height="9.83" fill="#fefdfd"/>
<rect x="262.36" y="221.82" width="11.55" height="9.83" fill="#fcf5f5"/>
<rect x="273.87" y="221.82" width="11.55" height="9.83" fill="#fdf7f8"/>
<rect x="285.37" y="221.82" width="11.55" height="9.83" fill="#fefdfd"/>
<rect x="296.87" y="221.82" width="11.55" height="9.83" fill="#fdf8f8"/>
<rect x="308.38" y="221.82" width="11.55" height="9.83" fill="#fdfafa"/>
<rect x="319.88" y="221.82" width="11.55" height="9.83" fill="#fdf7f8"/>
<rect x="342.88" y="221.82" width="11.55" height="9.83" fill="#fefdfd"/>
<rect x="388.9" y="221.82" width="11.55" height="9.83" fill="#faf0f0"/>
<rect x="400.4" y="221.82" width="11.55" height="9.83" fill="#c43e44"/>
<rect x="20.8" y="231.6" width="11.55" height="9.83" fill="#ba1c24"/>
<rect x="32.3" y="231.6" width="11.55" height="9.83" fill="#ba1c24"/>
<rect x="66.81" y="231.6" width="11.55" height="9.83" fill="#e0989c"/>
<rect x="78.31" y="231.6" width="11.55" height="9.83" fill="#f3d8d9"/>
<rect x="89.82" y="231.6" width="11.55" height="9.83" fill="#f3d7d8"/>
<rect x="112.82" y="231.6" width="11.55" height="9.83" fill="#faeeee"/>
<rect x="124.33" y="231.6" width="11.55" height="9.83" fill="#f9ebec"/>
<rect x="135.83" y="231.6" width="11.55" height="9.83" fill="#fefcfc"/>
<rect x="147.33" y="231.6" width="11.55" height="9.83" fill="#f3d7d8"/>
<rect x="158.84" y="231.6" width="11.55" height="9.83" fill="#fcf4f4"/>
<rect x="170.34" y="231.6" width="11.55" height="9.83" fill="#fdf9f9"/>
<rect x="181.84" y="231.6" width="11.55" height="9.83" fill="#fbf1f1"/>
<rect x="193.35" y="231.6" width="11.55" height="9.83" fill="#fcf6f6"/>
<rect x="204.85" y="231.6" width="11.55" height="9.83" fill="#fefafa"/>
<rect x="216.35" y="231.6" width="11.55" height="9.83" fill="#fefbfb"/>
<rect x="227.85" y="231.6" width="11.55" height="9.83" fill="#fefafa"/>
<rect x="239.36" y="231.6" width="11.55" height="9.83" fill="#fefdfd"/>
<rect x="250.86" y="231.6" width="11.55" height="9.83" fill="#fcf7f7"/>
<rect x="262.36" y="231.6" width="11.55" height="9.83" fill="#fffefe"/>
<rect x="285.37" y="231.6" width="11.55" height="9.83" fill="#fefcfc"/>
<rect x="296.87" y="231.6" width="11.55" height="9.83" fill="#fffefe"/>
<rect x="308.38" y="231.6" width="11.55" height="9.83" fill="#fefdfd"/>
<rect x="331.38" y="231.6" width="11.55" height="9.83" fill="#fefbfb"/>
<rect x="342.88" y="231.6" width="11.55" height="9.83" fill="#fefbfb"/>
<rect x="354.39" y="231.6" width="11.55" height="9.83" fill="#fefdfd"/>
<rect x="365.89" y="231.6" width="11.55" height="9.83" fill="#fffefe"/>
<rect x="377.39" y="231.6" width="11.55" height="9.83" fill="#fdfafa"/>
<rect x="388.9" y="231.6" width="11.55" height="9.83" fill="#fffefe"/>
<rect x="457.91" y="231.6" width="11.55" height="9.83" fill="#fefdfd"/>
<rect x="32.3" y="241.38" width="11.55" height="9.83" fill="#f4dbdc"/>
<rect x="43.81" y="241.38" width="11.55" height="9.83" fill="#f2d3d5"/>
<rect x="55.31" y="241.38" width="11.55" height="9.83" fill="#f7e4e5"/>
<rect x="66.81" y="241.38" width="11.55" height="9.83" fill="#f8e7e8"/>
<rect x="78.31" y="241.38" width="11.55" height="9.83" fill="#f5dfe0"/>
<rect x="89.82" y="241.38" width="11.55" height="9.83" fill="#f9ebec"/>
<rect x="112.82" y="241.38" width="11.55" height="9.83" fill="#faeeee"/>
<rect x="124.33" y="241.38" width="11.55" height="9.83" fill="#f9eaeb"/>
<rect x="135.83" y="241.38" width="11.55" height="9.83" fill="#fbf1f1"/>
<rect x="147.33" y="241.38" width="11.55" height="9.83" fill="#fcf5f5"/>
<rect x="158.84" y="241.38" width="11.55" height="9.83" fill="#f8e8e9"/>
<rect x="170.34" y="241.38" width="11.55" height="9.83" fill="#fbf1f1"/>
<rect x="181.84" y="241.38" width="11.55" height="9.83" fill="#faeeee"/>
<rect x="193.35" y="241.38" width="11.55" height="9.83" fill="#faeff0"/>
<rect x="204.85" y="241.38" width="11.55" height="9.83" fill="#faeeef"/>
<rect x="216.35" y="241.38" width="11.55" height="9.83" fill="#fefbfb"/>
<rect x="227.85" y="241.38" width="11.55" height="9.83" fill="#faf0f1"/>
<rect x="239.36" y="241.38" width="11.55" height="9.83" fill="#fcf4f5"/>
<rect x="250.86" y="241.38" width="11.55" height="9.83" fill="#f9eaea"/>
<rect x="262.36" y="241.38" width="11.55" height="9.83" fill="#fffefe"/>
<rect x="273.87" y="241.38" width="11.55" height="9.83" fill="#fcf6f6"/>
<rect x="285.37" y="241.38" width="11.55" height="9.83" fill="#fdfafa"/>
<rect x="296.87" y="241.38" width="11.55" height="9.83" fill="#fdf8f9"/>
<rect x="308.38" y="241.38" width="11.55" height="9.83" fill="#fefbfb"/>
<rect x="319.88" y="241.38" width="11.55" height="9.83" fill="#fffefe"/>
<rect x="331.38" y="241.38" width="11.55" height="9.83" fill="#fefbfb"/>
<rect x="342.88" y="241.38" width="11.55" height="9.83" fill="#fefbfb"/>
<rect x="354.39" y="241.38" width="11.55" height="9.83" fill="#fefcfc"/>
<rect x="365.89" y="241.38" width="11.55" height="9.83" fill="#fefcfc"/>
<rect x="388.9" y="241.38" width="11.55" height="9.83" fill="#fefcfc"/>
<rect x="400.4" y="241.38" width="11.55" height="9.83" fill="#fcf4f5"/>
<rect x="411.9" y="241.38" width="11.55" height="9.83" fill="#ba1c24"/>
<rect x="423.41" y="241.38" width="11.55" height="9.83" fill="#f9ebec"/>
<rect x="434.91" y="241.38" width="11.55" height="9.83" fill="#f9ebec"/>
<rect x="457.91" y="241.38" width="11.55" height="9.83" fill="#fcf5f6"/>
<rect x="32.3" y="251.16" width="11.55" height="9.83" fill="#f6e0e1"/>
<rect x="43.81" y="251.16" width="11.55" height="9.83" fill="#f9ebec"/>
<rect x="55.31" y="251.16" width="11.55" height="9.83" fill="#f7e3e4"/>
<rect x="66.81" y="251.16" width="11.55" height="9.83" fill="#fefdfd"/>
<rect x="78.31" y="251.16" width="11.55" height="9.83" fill="#fcf5f5"/>
<rect x="89.82" y="251.16" width="11.55" height="9.83" fill="#faeeee"/>
<rect x="101.32" y="251.16" width="11.55" height="9.83" fill="#fefdfd"/>
<rect x="112.82" y="251.16" width="11.55" height="9.83" fill="#f2d3d4"/>
<rect x="124.33" y="251.16" width="11.55" height="9.83" fill="#fcf4f4"/>
<rect x="135.83" y="251.16" width="11.55" height="9.83" fill="#fefbfb"/>
<rect x="147.33" y="251.16" width="11.55" height="9.83" fill="#fefbfb"/>
<rect x="158.84" y="251.16" width="11.55" height="9.83" fill="#fefbfb"/>
<rect x="170.34" y="251.16" width="11.55" height="9.83" fill="#fdf8f8"/>
<rect x="181.84" y="251.16" width="11.55" height="9.83" fill="#fcf5f5"/>
<rect x="193.35" y="251.16" width="11.55" height="9.83" fill="#fcf5f5"/>
<rect x="204.85" y="251.16" width="11.55" height="9.83" fill="#fefbfb"/>
<rect x="227.85" y="251.16" width="11.55" height="9.83" fill="#f8e9ea"/>
<rect x="239.36" y="251.16" width="11.55" height="9.83" fill="#fdfafa"/>
<rect x="250.86" y="251.16" width="11.55" height="9.83" fill="#fcf4f4"/>
<rect x="262.36" y="251.16" width="11.55" height="9.83" fill="#fefdfd"/>
<rect x="273.87" y="251.16" width="11.55" height="9.83" fill="#fdfafa"/>
<rect x="285.37" y="251.16" width="11.55" height="9.83" fill="#fffefe"/>
<rect x="296.87" y="251.16" width="11.55" height="9.83" fill="#fefdfd"/>
<rect x="308.38" y="251.16" width="11.55" height="9.83" fill="#fefbfb"/>
<rect x="342.88" y="251.16" width="11.55" height="9.83" fill="#fffefe"/>
<rect x="354.39" y="251.16" width="11.55" height="9.83" fill="#fffefe"/>
<rect x="365.89" y="251.16" width="11.55" height="9.83" fill="#fefdfd"/>
<rect x="388.9" y="251.16" width="11.55" height="9.83" fill="#f3d8da"/>
<rect x="400.4" y="251.16" width="11.55" height="9.83" fill="#fefdfd"/>
<rect x="411.9" y="251.16" width="11.55" height="9.83" fill="#f9ebec"/>
<rect x="423.41" y="251.16" width="11.55" height="9.83" fill="#fefdfd"/>
<rect x="434.91" y="251.16" width="11.55" height="9.83" fill="#fdfafa"/>
<rect x="446.41" y="251.16" width="11.55" height="9.83" fill="#ba1c24"/>
<rect x="20.8" y="260.94" width="11.55" height="9.83" fill="#ba1c24"/>
<rect x="43.81" y="260.94" width="11.55" height="9.83" fill="#bd272f"/>
<rect x="66.81" y="260.94" width="11.55" height="9.83" fill="#e4a7aa"/>
<rect x="78.31" y="260.94" width="11.55" height="9.83" fill="#edc4c6"/>
<rect x="89.82" y="260.94" width="11.55" height="9.83" fill="#ebbcbe"/>
<rect x="112.82" y="260.94" width="11.55" height="9.83" fill="#f9ebec"/>
<rect x="124.33" y="260.94" width="11.55" height="9.83" fill="#f0cdce"/>
<rect x="135.83" y="260.94" width="11.55" height="9.83" fill="#f9ebec"/>
<rect x="147.33" y="260.94" width="11.55" height="9.83" fill="#faefef"/>
<rect x="158.84" y="260.94" width="11.55" height="9.83" fill="#ebbcbe"/>
<rect x="170.34" y="260.94" width="11.55" height="9.83" fill="#f0cdce"/>
<rect x="181.84" y="260.94" width="11.55" height="9.83" fill="#fcf4f4"/>
<rect x="193.35" y="260.94" width="11.55" height="9.83" fill="#fbf1f1"/>
<rect x="204.85" y="260.94" width="11.55" height="9.83" fill="#fcf4f4"/>
<rect x="216.35" y="260.94" width="11.55" height="9.83" fill="#f8e9e9"/>
<rect x="227.85" y="260.94" width="11.55" height="9.83" fill="#fcf5f5"/>
<rect x="239.36" y="260.94" width="11.55" height="9.83" fill="#fefbfb"/>
<rect x="250.86" y="260.94" width="11.55" height="9.83" fill="#fcf5f5"/>
<rect x="262.36" y="260.94" width="11.55" height="9.83" fill="#fcf5f5"/>
<rect x="273.87" y="260.94" width="11.55" height="9.83" fill="#fdf7f7"/>
<rect x="285.37" y="260.94" width="11.55" height="9.83" fill="#fefdfd"/>
<rect x="296.87" y="260.94" width="11.55" height="9.83" fill="#fffefe"/>
<rect x="308.38" y="260.94" width="11.55" height="9.83" fill="#fefdfd"/>
<rect x="354.39" y="260.94" width="11.55" height="9.83" fill="#fdfafa"/>
<rect x="365.89" y="260.94" width="11.55" height="9.83" fill="#fefdfd"/>
<rect x="377.39" y="260.94" width="11.55" height="9.83" fill="#fefdfd"/>
<rect x="388.9" y="260.94" width="11.55" height="9.83" fill="#fcf5f5"/>
<rect x="20.8" y="270.72" width="11.55" height="9.83" fill="#ba1c24"/>
<rect x="32.3" y="270.72" width="11.55" height="9.83" fill="#ba1c24"/>
<rect x="43.81" y="270.72" width="11.55" height="9.83" fill="#fffefe"/>
<rect x="55.31" y="270.72" width="11.55" height="9.83" fill="#ba1c24"/>
<rect x="66.81" y="270.72" width="11.55" height="9.83" fill="#fefbfb"/>
<rect x="78.31" y="270.72" width="11.55" height="9.83" fill="#f9eded"/>
<rect x="89.82" y="270.72" width="11.55" height="9.83" fill="#f9ebec"/>
<rect x="112.82" y="270.72" width="11.55" height="9.83" fill="#f0ced0"/>
<rect x="124.33" y="270.72" width="11.55" height="9.83" fill="#fcf6f6"/>
<rect x="135.83" y="270.72" width="11.55" height="9.83" fill="#fbf1f1"/>
<rect x="147.33" y="270.72" width="11.55" height="9.83" fill="#faefef"/>
<rect x="158.84" y="270.72" width="11.55" height="9.83" fill="#fefdfd"/>
<rect x="170.34" y="270.72" width="11.55" height="9.83" fill="#fefdfd"/>
<rect x="181.84" y="270.72" width="11.55" height="9.83" fill="#fbf1f1"/>
<rect x="193.35" y="270.72" width="11.55" height="9.83" fill="#fdf9f9"/>
<rect x="204.85" y="270.72" width="11.55" height="9.83" fill="#fefdfd"/>
<rect x="262.36" y="270.72" width="11.55" height="9.83" fill="#fefbfb"/>
<rect x="273.87" y="270.72" width="11.55" height="9.83" fill="#fdf7f7"/>
<rect x="285.37" y="270.72" width="11.55" height="9.83" fill="#fefdfd"/>
<rect x="296.87" y="270.72" width="11.55" height="9.83" fill="#fefbfb"/>
<rect x="331.38" y="270.72" width="11.55" height="9.83" fill="#fefdfd"/>
<rect x="342.88" y="270.72" width="11.55" height="9.83" fill="#fefdfd"/>
<rect x="388.9" y="270.72" width="11.55" height="9.83" fill="#fefbfb"/>
<rect x="32.3" y="280.5" width="11.55" height="9.83" fill="#f2d5d6"/>
<rect x="43.81" y="280.5" width="11.55" height="9.83" fill="#f2d5d6"/>
<rect x="66.81" y="280.5" width="11.55" height="9.83" fill="#f5dfe1"/>
<rect x="78.31" y="280.5" width="11.55" height="9.83" fill="#ebbec0"/>
<rect x="89.82" y="280.5" width="11.55" height="9.83" fill="#f9ebec"/>
<rect x="112.82" y="280.5" width="11.55" height="9.83" fill="#fdf9f9"/>
<rect x="124.33" y="280.5" width="11.55" height="9.83" fill="#fefbfb"/>
<rect x="135.83" y="280.5" width="11.55" height="9.83" fill="#f9ebec"/>
<rect x="158.84" y="280.5" width="11.55" height="9.83" fill="#f5dfe1"/>
<rect x="181.84" y="280.5" width="11.55" height="9.83" fill="#f9eaeb"/>
<rect x="204.85" y="280.5" width="11.55" height="9.83" fill="#f5dfe1"/>
<rect x="216.35" y="280.5" width="11.55" height="9.83" fill="#fefafb"/>
<rect x="227.85" y="280.5" width="11.55" height="9.83" fill="#fefbfb"/>
<rect x="250.86" y="280.5" width="11.55" height="9.83" fill="#fefafb"/>
<rect x="262.36" y="280.5" width="11.55" height="9.83" fill="#fefdfd"/>
<rect x="273.87" y="280.5" width="11.55" height="9.83" fill="#fdfafa"/>
<rect x="296.87" y="280.5" width="11.55" height="9.83" fill="#fefdfd"/>
<rect x="319.88" y="280.5" width="11.55" height="9.83" fill="#fcf5f6"/>
<rect x="342.88" y="280.5" width="11.55" height="9.83" fill="#fdfafa"/>
<rect x="354.39" y="280.5" width="11.55" height="9.83" fill="#fefdfd"/>
<rect x="365.89" y="280.5" width="11.55" height="9.83" fill="#fefdfd"/>
<rect x="388.9" y="280.5" width="11.55" height="9.83" fill="#fcf6f6"/>
<rect x="423.41" y="280.5" width="11.55" height="9.83" fill="#ba1c24"/>
<rect x="20.8" y="290.28" width="11.55" height="9.83" fill="#ba1c24"/>
<rect x="32.3" y="290.28" width="11.55" height="9.83" fill="#ba1c24"/>
<rect x="43.81" y="290.28" width="11.55" height="9.83" fill="#ba1c24"/>
<rect x="55.31" y="290.28" width="11.55" height="9.83" fill="#fcf6f6"/>
<rect x="66.81" y="290.28" width="11.55" height="9.83" fill="#e19da0"/>
<rect x="78.31" y="290.28" width="11.55" height="9.83" fill="#eab9bb"/>
<rect x="89.82" y="290.28" width="11.55" height="9.83" fill="#e5abae"/>
<rect x="112.82" y="290.28" width="11.55" height="9.83" fill="#fefcfc"/>
<rect x="124.33" y="290.28" width="11.55" height="9.83" fill="#f1d1d3"/>
<rect x="135.83" y="290.28" width="11.55" height="9.83" fill="#eec9ca"/>
<rect x="147.33" y="290.28" width="11.55" height="9.83" fill="#f9ebec"/>
<rect x="158.84" y="290.28" width="11.55" height="9.83" fill="#fcf6f6"/>
<rect x="170.34" y="290.28" width="11.55" height="9.83" fill="#fcf5f5"/>
<rect x="181.84" y="290.28" width="11.55" height="9.83" fill="#fefdfd"/>
<rect x="193.35" y="290.28" width="11.55" height="9.83" fill="#fcf4f4"/>
<rect x="204.85" y="290.28" width="11.55" height="9.83" fill="#fdf9fa"/>
<rect x="216.35" y="290.28" width="11.55" height="9.83" fill="#fefafb"/>
<rect x="227.85" y="290.28" width="11.55" height="9.83" fill="#fcf5f5"/>
<rect x="239.36" y="290.28" width="11.55" height="9.83" fill="#fdf9f9"/>
<rect x="250.86" y="290.28" width="11.55" height="9.83" fill="#fdf9f9"/>
<rect x="262.36" y="290.28" width="11.55" height="9.83" fill="#fefdfd"/>
<rect x="273.87" y="290.28" width="11.55" height="9.83" fill="#fefdfd"/>
<rect x="296.87" y="290.28" width="11.55" height="9.83" fill="#fefcfc"/>
<rect x="319.88" y="290.28" width="11.55" height="9.83" fill="#fbf0f1"/>
<rect x="331.38" y="290.28" width="11.55" height="9.83" fill="#fefdfd"/>
<rect x="342.88" y="290.28" width="11.55" height="9.83" fill="#fdf9f9"/>
<rect x="354.39" y="290.28" width="11.55" height="9.83" fill="#fefbfb"/>
<rect x="365.89" y="290.28" width="11.55" height="9.83" fill="#fefdfd"/>
<rect x="388.9" y="290.28" width="11.55" height="9.83" fill="#fefdfd"/>
<rect x="411.9" y="290.28" width="11.55" height="9.83" fill="#faf0f0"/>
<rect x="32.3" y="300.06" width="11.55" height="9.83" fill="#f4dbdc"/>
<rect x="43.81" y="300.06" width="11.55" height="9.83" fill="#f6e1e2"/>
<rect x="55.31" y="300.06" width="11.55" height="9.83" fill="#fcf5f5"/>
<rect x="66.81" y="300.06" width="11.55" height="9.83" fill="#fbf1f1"/>
<rect x="78.31" y="300.06" width="11.55" height="9.83" fill="#f7e6e6"/>
<rect x="89.82" y="300.06" width="11.55" height="9.83" fill="#fcf5f5"/>
<rect x="112.82" y="300.06" width="11.55" height="9.83" fill="#faedee"/>
<rect x="124.33" y="300.06" width="11.55" height="9.83" fill="#fbf2f2"/>
<rect x="135.83" y="300.06" width="11.55" height="9.83" fill="#fdfafa"/>
<rect x="147.33" y="300.06" width="11.55" height="9.83" fill="#fdf7f7"/>
<rect x="158.84" y="300.06" width="11.55" height="9.83" fill="#fcf5f5"/>
<rect x="170.34" y="300.06" width="11.55" height="9.83" fill="#fcf5f5"/>
<rect x="181.84" y="300.06" width="11.55" height="9.83" fill="#fdf8f8"/>
<rect x="193.35" y="300.06" width="11.55" height="9.83" fill="#fcf6f6"/>
<rect x="204.85" y="300.06" width="11.55" height="9.83" fill="#fdfafa"/>
<rect x="216.35" y="300.06" width="11.55" height="9.83" fill="#fefbfb"/>
<rect x="227.85" y="300.06" width="11.55" height="9.83" fill="#fefcfc"/>
<rect x="239.36" y="300.06" width="11.55" height="9.83" fill="#fefcfc"/>
<rect x="250.86" y="300.06" width="11.55" height="9.83" fill="#fdf9f9"/>
<rect x="262.36" y="300.06" width="11.55" height="9.83" fill="#fefbfb"/>
<rect x="273.87" y="300.06" width="11.55" height="9.83" fill="#fdfafa"/>
<rect x="285.37" y="300.06" width="11.55" height="9.83" fill="#fefbfb"/>
<rect x="296.87" y="300.06" width="11.55" height="9.83" fill="#fefcfc"/>
<rect x="308.38" y="300.06" width="11.55" height="9.83" fill="#faf0f0"/>
<rect x="331.38" y="300.06" width="11.55" height="9.83" fill="#fefcfc"/>
<rect x="342.88" y="300.06" width="11.55" height="9.83" fill="#fefcfc"/>
<rect x="354.39" y="300.06" width="11.55" height="9.83" fill="#fdf7f7"/>
<rect x="365.89" y="300.06" width="11.55" height="9.83" fill="#fefcfc"/>
<rect x="377.39" y="300.06" width="11.55" height="9.83" fill="#fffdfd"/>
<rect x="388.9" y="300.06" width="11.55" height="9.83" fill="#e19da1"/>
<rect x="457.91" y="300.06" width="11.55" height="9.83" fill="#ba1c24"/>
<rect x="43.81" y="309.84" width="11.55" height="9.83" fill="#f9ebec"/>
<rect x="55.31" y="309.84" width="11.55" height="9.83" fill="#e8b3b6"/>
<rect x="66.81" y="309.84" width="11.55" height="9.83" fill="#f9ebec"/>
<rect x="78.31" y="309.84" width="11.55" height="9.83" fill="#f4dbdc"/>
<rect x="89.82" y="309.84" width="11.55" height="9.83" fill="#fbf1f2"/>
<rect x="101.32" y="309.84" width="11.55" height="9.83" fill="#e3a2a6"/>
<rect x="112.82" y="309.84" width="11.55" height="9.83" fill="#f9ebec"/>
<rect x="124.33" y="309.84" width="11.55" height="9.83" fill="#fefcfc"/>
<rect x="147.33" y="309.84" width="11.55" height="9.83" fill="#faedee"/>
<rect x="181.84" y="309.84" width="11.55" height="9.83" fill="#fcf5f5"/>
<rect x="193.35" y="309.84" width="11.55" height="9.83" fill="#fdf8f8"/>
<rect x="216.35" y="309.84" width="11.55" height="9.83" fill="#fdf8f8"/>
<rect x="239.36" y="309.84" width="11.55" height="9.83" fill="#fefbfb"/>
<rect x="250.86" y="309.84" width="11.55" height="9.83" fill="#fefcfc"/>
<rect x="285.37" y="309.84" width="11.55" height="9.83" fill="#fcf5f5"/>
<rect x="296.87" y="309.84" width="11.55" height="9.83" fill="#fcf5f6"/>
<rect x="319.88" y="309.84" width="11.55" height="9.83" fill="#fffefe"/>
<rect x="331.38" y="309.84" width="11.55" height="9.83" fill="#fdf9f9"/>
<rect x="354.39" y="309.84" width="11.55" height="9.83" fill="#fcf6f6"/>
<g font-size="2.85" font-weight="bold" fill="#333" text-anchor="middle" dominant-baseline="central" lengthAdjust="spacingAndGlyphs">
<text x="26.55" y="187.69" textLength="8.3" lengthAdjust="spacingAndGlyphs">0.000</text>
<text x="38.05" y="187.69" textLength="8.3" lengthAdjust="spacingAndGlyphs">0.309</text>
<text x="49.56" y="187.69" textLength="8.3" lengthAdjust="spacingAndGlyphs">0.383</text>
<text x="61.06" y="187.69" textLength="8.3" lengthAdjust="spacingAndGlyphs">0.123</text>
<text x="72.56" y="187.69" textLength="8.3" lengthAdjust="spacingAndGlyphs">0.107</text>
<text x="84.07" y="187.69" textLength="8.3" lengthAdjust="spacingAndGlyphs">0.160</text>
<text x="95.57" y="187.69" textLength="8.3" lengthAdjust="spacingAndGlyphs">0.255</text>
<text x="107.07" y="187.69" textLength="8.3" lengthAdjust="spacingAndGlyphs">0.012</text>
<text x="118.58" y="187.69" textLength="8.3" lengthAdjust="spacingAndGlyphs">0.099</text>
<text x="130.08" y="187.69" textLength="8.3" lengthAdjust="spacingAndGlyphs">0.198</text>
<text x="141.58" y="187.69" textLength="8.3" lengthAdjust="spacingAndGlyphs">0.102</text>
<text x="153.08" y="187.69" textLength="8.3" lengthAdjust="spacingAndGlyphs">0.089</text>
<text x="164.59" y="187.69" textLength="8.3" lengthAdjust="spacingAndGlyphs">0.063</text>
<text x="176.09" y="187.69" textLength="8.3" lengthAdjust="spacingAndGlyphs">0.086</text>
<text x="187.59" y="187.69" textLength="8.3" lengthAdjust="spacingAndGlyphs">0.043</text>
<text x="199.1" y="187.69" textLength="8.3" lengthAdjust="spacingAndGlyphs">0.060</text>
<text x="210.6" y="187.69" textLength="8.3" lengthAdjust="spacingAndGlyphs">0.012</text>
<text x="222.1" y="187.69" textLength="8.3" lengthAdjust="spacingAndGlyphs">0.037</text>
<text x="233.61" y="187.69" textLength="8.3" lengthAdjust="spacingAndGlyphs">0.043</text>
<text x="245.11" y="187.69" textLength="8.3" lengthAdjust="spacingAndGlyphs">0.037</text>
<text x="256.61" y="187.69" textLength="8.3" lengthAdjust="spacingAndGlyphs">0.000</text>
<text x="268.11" y="187.69" textLength="8.3" lengthAdjust="spacingAndGlyphs">0.020</text>
<text x="279.62" y="187.69" textLength="8.3" lengthAdjust="spacingAndGlyphs">0.006</text>
<text x="291.12" y="187.69" textLength="8.3" lengthAdjust="spacingAndGlyphs">0.000</text>
<text x="302.62" y="187.69" textLength="8.3" lengthAdjust="spacingAndGlyphs">0.025</text>
<text x="314.13" y="187.69" textLength="8.3" lengthAdjust="spacingAndGlyphs">0.000</text>
<text x="325.63" y="187.69" textLength="8.3" lengthAdjust="spacingAndGlyphs">0.003</text>
<text x="337.13" y="187.69" textLength="8.3" lengthAdjust="spacingAndGlyphs">0.019</text>
<text x="348.64" y="187.69" textLength="8.3" lengthAdjust="spacingAndGlyphs">0.006</text>
<text x="360.14" y="187.69" textLength="8.3" lengthAdjust="spacingAndGlyphs">0.012</text>
<text x="371.64" y="187.69" textLength="8.3" lengthAdjust="spacingAndGlyphs">0.000</text>
<text x="383.14" y="187.69" textLength="8.3" lengthAdjust="spacingAndGlyphs">0.000</text>
<text x="394.65" y="187.69" textLength="8.3" lengthAdjust="spacingAndGlyphs">0.012</text>
<text x="406.15" y="187.69" textLength="8.3" lengthAdjust="spacingAndGlyphs">0.037</text>
<text x="417.65" y="187.69" textLength="8.3" lengthAdjust="spacingAndGlyphs">0.000</text>
<text x="429.16" y="187.69" textLength="8.3" lengthAdjust="spacingAndGlyphs">0.018</text>
<text x="440.66" y="187.69" textLength="8.3" lengthAdjust="spacingAndGlyphs">1.000</text>
<text x="452.16" y="187.69" textLength="8.3" lengthAdjust="spacingAndGlyphs">0.000</text>
<text x="463.67" y="187.69" textLength="8.3" lengthAdjust="spacingAndGlyphs">0.000</text>
<text x="26.55" y="197.47" textLength="8.3" lengthAdjust="spacingAndGlyphs">1.000</text>
<text x="38.05" y="197.47" textLength="8.3" lengthAdjust="spacingAndGlyphs">0.000</text>
<text x="49.56" y="197.47" textLength="8.3" lengthAdjust="spacingAndGlyphs">0.000</text>
<text x="61.06" y="197.47" textLength="8.3" lengthAdjust="spacingAndGlyphs">0.000</text>
<text x="72.56" y="197.47" textLength="8.3" lengthAdjust="spacingAndGlyphs">0.063</text>
<text x="84.07" y="197.47" textLength="8.3" lengthAdjust="spacingAndGlyphs">0.086</text>
<text x="95.57" y="197.47" textLength="8.3" lengthAdjust="spacingAndGlyphs">0.063</text>
<text x="107.07" y="197.47" textLength="8.3" lengthAdjust="spacingAndGlyphs">0.000</text>
<text x="118.58" y="197.47" textLength="8.3" lengthAdjust="spacingAndGlyphs">0.109</text>
<text x="130.08" y="197.47" textLength="8.3" lengthAdjust="spacingAndGlyphs">0.047</text>
<text x="141.58" y="197.47" textLength="8.3" lengthAdjust="spacingAndGlyphs">0.008</text>
<text x="153.08" y="197.47" textLength="8.3" lengthAdjust="spacingAndGlyphs">0.022</text>
<text x="164.59" y="197.47" textLength="8.3" lengthAdjust="spacingAndGlyphs">0.004</text>
<text x="176.09" y="197.47" textLength="8.3" lengthAdjust="spacingAndGlyphs">0.080</text>
<text x="187.59" y="197.47" textLength="8.3" lengthAdjust="spacingAndGlyphs">0.100</text>
<text x="199.1" y="197.47" textLength="8.3" lengthAdjust="spacingAndGlyphs">0.007</text>
<text x="210.6" y="197.47" textLength="8.3" lengthAdjust="spacingAndGlyphs">0.011</text>
<text x="222.1" y="197.47" textLength="8.3" lengthAdjust="spacingAndGlyphs">0.018</text>
<text x="233.61" y="197.47" textLength="8.3" lengthAdjust="spacingAndGlyphs">0.011</text>
<text x="245.11" y="197.47" textLength="8.3" lengthAdjust="spacingAndGlyphs">0.016</text>
<text x="256.61" y="197.47" textLength="8.3" lengthAdjust="spacingAndGlyphs">0.012</text>
<text x="268.11" y="197.47" textLength="8.3" lengthAdjust="spacingAndGlyphs">0.008</text>
<text x="279.62" y="197.47" textLength="8.3" lengthAdjust="spacingAndGlyphs">0.011</text>
<text x="291.12" y="197.47" textLength="8.3" lengthAdjust="spacingAndGlyphs">0.042</text>
<text x="302.62" y="197.47" textLength="8.3" lengthAdjust="spacingAndGlyphs">0.007</text>
<text x="314.13" y="197.47" textLength="8.3" lengthAdjust="spacingAndGlyphs">0.001</text>
<text x="325.63" y="197.47" textLength="8.3" lengthAdjust="spacingAndGlyphs">0.000</text>
<text x="337.13" y="197.47" textLength="8.3" lengthAdjust="spacingAndGlyphs">0.016</text>
<text x="348.64" y="197.47" textLength="8.3" lengthAdjust="spacingAndGlyphs">0.007</text>
<text x="360.14" y="197.47" textLength="8.3" lengthAdjust="spacingAndGlyphs">0.008</text>
<text x="371.64" y="197.47" textLength="8.3" lengthAdjust="spacingAndGlyphs">0.008</text>
<text x="383.14" y="197.47" textLength="8.3" lengthAdjust="spacingAndGlyphs">0.000</text>
<text x="394.65" y="197.47" textLength="8.3" lengthAdjust="spacingAndGlyphs">0.012</text>
<text x="406.15" y="197.47" textLength="8.3" lengthAdjust="spacingAndGlyphs">0.000</text>
<text x="417.65" y="197.47" textLength="8.3" lengthAdjust="spacingAndGlyphs">0.000</text>
<text x="429.16" y="197.47" textLength="8.3" lengthAdjust="spacingAndGlyphs">0.000</text>
<text x="440.66" y="197.47" textLength="8.3" lengthAdjust="spacingAndGlyphs">0.002</text>
<text x="452.16" y="197.47" textLength="8.3" lengthAdjust="spacingAndGlyphs">0.000</text>
<text x="463.67" y="197.47" textLength="8.3" lengthAdjust="spacingAndGlyphs">0.000</text>
<text x="26.55" y="207.25" textLength="8.3" lengthAdjust="spacingAndGlyphs">0.000</text>
<text x="38.05" y="207.25" textLength="8.3" lengthAdjust="spacingAndGlyphs">0.976</text>
<text x="49.56" y="207.25" textLength="8.3" lengthAdjust="spacingAndGlyphs">0.222</text>
<text x="61.06" y="207.25" textLength="8.3" lengthAdjust="spacingAndGlyphs">0.198</text>
<text x="72.56" y="207.25" textLength="8.3" lengthAdjust="spacingAndGlyphs">0.139</text>
<text x="84.07" y="207.25" textLength="8.3" lengthAdjust="spacingAndGlyphs">0.263</text>
<text x="95.57" y="207.25" textLength="8.3" lengthAdjust="spacingAndGlyphs">0.062</text>
<text x="107.07" y="207.25" textLength="8.3" lengthAdjust="spacingAndGlyphs">0.558</text>
<text x="118.58" y="207.25" textLength="8.3" lengthAdjust="spacingAndGlyphs">0.047</text>
<text x="130.08" y="207.25" textLength="8.3" lengthAdjust="spacingAndGlyphs">0.076</text>
<text x="141.58" y="207.25" textLength="8.3" lengthAdjust="spacingAndGlyphs">0.016</text>
<text x="153.08" y="207.25" textLength="8.3" lengthAdjust="spacingAndGlyphs">0.203</text>
<text x="164.59" y="207.25" textLength="8.3" lengthAdjust="spacingAndGlyphs">0.000</text>
<text x="176.09" y="207.25" textLength="8.3" lengthAdjust="spacingAndGlyphs">0.031</text>
<text x="187.59" y="207.25" textLength="8.3" lengthAdjust="spacingAndGlyphs">0.078</text>
<text x="199.1" y="207.25" textLength="8.3" lengthAdjust="spacingAndGlyphs">0.021</text>
<text x="210.6" y="207.25" textLength="8.3" lengthAdjust="spacingAndGlyphs">0.016</text>
<text x="222.1" y="207.25" textLength="8.3" lengthAdjust="spacingAndGlyphs">0.078</text>
<text x="233.61" y="207.25" textLength="8.3" lengthAdjust="spacingAndGlyphs">0.031</text>
<text x="245.11" y="207.25" textLength="8.3" lengthAdjust="spacingAndGlyphs">0.040</text>
<text x="256.61" y="207.25" textLength="8.3" lengthAdjust="spacingAndGlyphs">0.000</text>
<text x="268.11" y="207.25" textLength="8.3" lengthAdjust="spacingAndGlyphs">0.016</text>
<text x="279.62" y="207.25" textLength="8.3" lengthAdjust="spacingAndGlyphs">0.062</text>
<text x="291.12" y="207.25" textLength="8.3" lengthAdjust="spacingAndGlyphs">0.031</text>
<text x="302.62" y="207.25" textLength="8.3" lengthAdjust="spacingAndGlyphs">0.016</text>
<text x="314.13" y="207.25" textLength="8.3" lengthAdjust="spacingAndGlyphs">0.000</text>
<text x="325.63" y="207.25" textLength="8.3" lengthAdjust="spacingAndGlyphs">0.000</text>
<text x="337.13" y="207.25" textLength="8.3" lengthAdjust="spacingAndGlyphs">0.016</text>
<text x="348.64" y="207.25" textLength="8.3" lengthAdjust="spacingAndGlyphs">0.000</text>
<text x="360.14" y="207.25" textLength="8.3" lengthAdjust="spacingAndGlyphs">0.000</text>
<text x="371.64" y="207.25" textLength="8.3" lengthAdjust="spacingAndGlyphs">0.000</text>
<text x="383.14" y="207.25" textLength="8.3" lengthAdjust="spacingAndGlyphs">0.000</text>
<text x="394.65" y="207.25" textLength="8.3" lengthAdjust="spacingAndGlyphs">0.000</text>
<text x="406.15" y="207.25" textLength="8.3" lengthAdjust="spacingAndGlyphs">0.108</text>
<text x="417.65" y="207.25" textLength="8.3" lengthAdjust="spacingAndGlyphs">0.000</text>
<text x="429.16" y="207.25" textLength="8.3" lengthAdjust="spacingAndGlyphs">0.000</text>
<text x="440.66" y="207.25" textLength="8.3" lengthAdjust="spacingAndGlyphs">0.000</text>
<text x="452.16" y="207.25" textLength="8.3" lengthAdjust="spacingAndGlyphs">0.000</text>
<text x="463.67" y="207.25" textLength="8.3" lengthAdjust="spacingAndGlyphs">0.000</text>
<text x="26.55" y="217.03" textLength="8.3" lengthAdjust="spacingAndGlyphs">1.000</text>
<text x="38.05" y="217.03" textLength="8.3" lengthAdjust="spacingAndGlyphs">0.000</text>
<text x="49.56" y="217.03" textLength="8.3" lengthAdjust="spacingAndGlyphs">0.076</text>
<text x="61.06" y="217.03" textLength="8.3" lengthAdjust="spacingAndGlyphs">1.000</text>
<text x="72.56" y="217.03" textLength="8.3" lengthAdjust="spacingAndGlyphs">0.031</text>
<text x="84.07" y="217.03" textLength="8.3" lengthAdjust="spacingAndGlyphs">0.055</text>
<text x="95.57" y="217.03" textLength="8.3" lengthAdjust="spacingAndGlyphs">0.078</text>
<text x="107.07" y="217.03" textLength="8.3" lengthAdjust="spacingAndGlyphs">0.000</text>
<text x="118.58" y="217.03" textLength="8.3" lengthAdjust="spacingAndGlyphs">0.192</text>
<text x="130.08" y="217.03" textLength="8.3" lengthAdjust="spacingAndGlyphs">0.071</text>
<text x="141.58" y="217.03" textLength="8.3" lengthAdjust="spacingAndGlyphs">0.008</text>
<text x="153.08" y="217.03" textLength="8.3" lengthAdjust="spacingAndGlyphs">0.027</text>
<text x="164.59" y="217.03" textLength="8.3" lengthAdjust="spacingAndGlyphs">0.008</text>
<text x="176.09" y="217.03" textLength="8.3" lengthAdjust="spacingAndGlyphs">0.027</text>
<text x="187.59" y="217.03" textLength="8.3" lengthAdjust="spacingAndGlyphs">0.078</text>
<text x="199.1" y="217.03" textLength="8.3" lengthAdjust="spacingAndGlyphs">0.058</text>
<text x="210.6" y="217.03" textLength="8.3" lengthAdjust="spacingAndGlyphs">0.004</text>
<text x="222.1" y="217.03" textLength="8.3" lengthAdjust="spacingAndGlyphs">0.020</text>
<text x="233.61" y="217.03" textLength="8.3" lengthAdjust="spacingAndGlyphs">0.008</text>
<text x="245.11" y="217.03" textLength="8.3" lengthAdjust="spacingAndGlyphs">0.027</text>
<text x="256.61" y="217.03" textLength="8.3" lengthAdjust="spacingAndGlyphs">0.000</text>
<text x="268.11" y="217.03" textLength="8.3" lengthAdjust="spacingAndGlyphs">0.020</text>
<text x="279.62" y="217.03" textLength="8.3" lengthAdjust="spacingAndGlyphs">0.016</text>
<text x="291.12" y="217.03" textLength="8.3" lengthAdjust="spacingAndGlyphs">0.001</text>
<text x="302.62" y="217.03" textLength="8.3" lengthAdjust="spacingAndGlyphs">0.004</text>
<text x="314.13" y="217.03" textLength="8.3" lengthAdjust="spacingAndGlyphs">0.012</text>
<text x="325.63" y="217.03" textLength="8.3" lengthAdjust="spacingAndGlyphs">0.000</text>
<text x="337.13" y="217.03" textLength="8.3" lengthAdjust="spacingAndGlyphs">0.012</text>
<text x="348.64" y="217.03" textLength="8.3" lengthAdjust="spacingAndGlyphs">0.000</text>
<text x="360.14" y="217.03" textLength="8.3" lengthAdjust="spacingAndGlyphs">0.008</text>
<text x="371.64" y="217.03" textLength="8.3" lengthAdjust="spacingAndGlyphs">0.000</text>
<text x="383.14" y="217.03" textLength="8.3" lengthAdjust="spacingAndGlyphs">0.000</text>
<text x="394.65" y="217.03" textLength="8.3" lengthAdjust="spacingAndGlyphs">0.027</text>
<text x="406.15" y="217.03" textLength="8.3" lengthAdjust="spacingAndGlyphs">0.000</text>
<text x="417.65" y="217.03" textLength="8.3" lengthAdjust="spacingAndGlyphs">0.000</text>
<text x="429.16" y="217.03" textLength="8.3" lengthAdjust="spacingAndGlyphs">0.000</text>
<text x="440.66" y="217.03" textLength="8.3" lengthAdjust="spacingAndGlyphs">0.000</text>
<text x="452.16" y="217.03" textLength="8.3" lengthAdjust="spacingAndGlyphs">0.000</text>
<text x="463.67" y="217.03" textLength="8.3" lengthAdjust="spacingAndGlyphs">0.000</text>
<text x="26.55" y="226.81" textLength="8.3" lengthAdjust="spacingAndGlyphs">0.000</text>
<text x="38.05" y="226.81" textLength="8.3" lengthAdjust="spacingAndGlyphs">0.000</text>
<text x="49.56" y="226.81" textLength="8.3" lengthAdjust="spacingAndGlyphs">0.188</text>
<text x="61.06" y="226.81" textLength="8.3" lengthAdjust="spacingAndGlyphs">0.092</text>
<text x="72.56" y="226.81" textLength="8.3" lengthAdjust="spacingAndGlyphs">0.107</text>
<text x="84.07" y="226.81" textLength="8.3" lengthAdjust="spacingAndGlyphs">0.080</text>
<text x="95.57" y="226.81" textLength="8.3" lengthAdjust="spacingAndGlyphs">0.107</text>
<text x="107.07" y="226.81" textLength="8.3" lengthAdjust="spacingAndGlyphs">0.000</text>
<text x="118.58" y="226.81" textLength="8.3" lengthAdjust="spacingAndGlyphs">0.080</text>
<text x="130.08" y="226.81" textLength="8.3" lengthAdjust="spacingAndGlyphs">0.056</text>
<text x="141.58" y="226.81" textLength="8.3" lengthAdjust="spacingAndGlyphs">0.024</text>
<text x="153.08" y="226.81" textLength="8.3" lengthAdjust="spacingAndGlyphs">0.077</text>
<text x="164.59" y="226.81" textLength="8.3" lengthAdjust="spacingAndGlyphs">0.287</text>
<text x="176.09" y="226.81" textLength="8.3" lengthAdjust="spacingAndGlyphs">0.078</text>
<text x="187.59" y="226.81" textLength="8.3" lengthAdjust="spacingAndGlyphs">0.101</text>
<text x="199.1" y="226.81" textLength="8.3" lengthAdjust="spacingAndGlyphs">0.080</text>
<text x="210.6" y="226.81" textLength="8.3" lengthAdjust="spacingAndGlyphs">0.101</text>
<text x="222.1" y="226.81" textLength="8.3" lengthAdjust="spacingAndGlyphs">0.030</text>
<text x="233.61" y="226.81" textLength="8.3" lengthAdjust="spacingAndGlyphs">0.022</text>
<text x="245.11" y="226.81" textLength="8.3" lengthAdjust="spacingAndGlyphs">0.011</text>
<text x="256.61" y="226.81" textLength="8.3" lengthAdjust="spacingAndGlyphs">0.011</text>
<text x="268.11" y="226.81" textLength="8.3" lengthAdjust="spacingAndGlyphs">0.046</text>
<text x="279.62" y="226.81" textLength="8.3" lengthAdjust="spacingAndGlyphs">0.034</text>
<text x="291.12" y="226.81" textLength="8.3" lengthAdjust="spacingAndGlyphs">0.009</text>
<text x="302.62" y="226.81" textLength="8.3" lengthAdjust="spacingAndGlyphs">0.032</text>
<text x="314.13" y="226.81" textLength="8.3" lengthAdjust="spacingAndGlyphs">0.022</text>
<text x="325.63" y="226.81" textLength="8.3" lengthAdjust="spacingAndGlyphs">0.034</text>
<text x="337.13" y="226.81" textLength="8.3" lengthAdjust="spacingAndGlyphs">0.000</text>
<text x="348.64" y="226.81" textLength="8.3" lengthAdjust="spacingAndGlyphs">0.011</text>
<text x="360.14" y="226.81" textLength="8.3" lengthAdjust="spacingAndGlyphs">0.000</text>
<text x="371.64" y="226.81" textLength="8.3" lengthAdjust="spacingAndGlyphs">0.000</text>
<text x="383.14" y="226.81" textLength="8.3" lengthAdjust="spacingAndGlyphs">0.000</text>
<text x="394.65" y="226.81" textLength="8.3" lengthAdjust="spacingAndGlyphs">0.067</text>
<text x="406.15" y="226.81" textLength="8.3" lengthAdjust="spacingAndGlyphs">0.852</text>
<text x="417.65" y="226.81" textLength="8.3" lengthAdjust="spacingAndGlyphs">0.000</text>
<text x="429.16" y="226.81" textLength="8.3" lengthAdjust="spacingAndGlyphs">0.000</text>
<text x="440.66" y="226.81" textLength="8.3" lengthAdjust="spacingAndGlyphs">0.000</text>
<text x="452.16" y="226.81" textLength="8.3" lengthAdjust="spacingAndGlyphs">0.000</text>
<text x="463.67" y="226.81" textLength="8.3" lengthAdjust="spacingAndGlyphs">0.000</text>
<text x="26.55" y="236.59" textLength="8.3" lengthAdjust="spacingAndGlyphs">1.000</text>
<text x="38.05" y="236.59" textLength="8.3" lengthAdjust="spacingAndGlyphs">1.000</text>
<text x="49.56" y="236.59" textLength="8.3" lengthAdjust="spacingAndGlyphs">0.000</text>
<text x="61.06" y="236.59" textLength="8.3" lengthAdjust="spacingAndGlyphs">0.000</text>
<text x="72.56" y="236.59" textLength="8.3" lengthAdjust="spacingAndGlyphs">0.452</text>
<text x="84.07" y="236.59" textLength="8.3" lengthAdjust="spacingAndGlyphs">0.172</text>
<text x="95.57" y="236.59" textLength="8.3" lengthAdjust="spacingAndGlyphs">0.178</text>
<text x="107.07" y="236.59" textLength="8.3" lengthAdjust="spacingAndGlyphs">0.000</text>
<text x="118.58" y="236.59" textLength="8.3" lengthAdjust="spacingAndGlyphs">0.076</text>
<text x="130.08" y="236.59" textLength="8.3" lengthAdjust="spacingAndGlyphs">0.088</text>
<text x="141.58" y="236.59" textLength="8.3" lengthAdjust="spacingAndGlyphs">0.012</text>
<text x="153.08" y="236.59" textLength="8.3" lengthAdjust="spacingAndGlyphs">0.177</text>
<text x="164.59" y="236.59" textLength="8.3" lengthAdjust="spacingAndGlyphs">0.049</text>
<text x="176.09" y="236.59" textLength="8.3" lengthAdjust="spacingAndGlyphs">0.026</text>
<text x="187.59" y="236.59" textLength="8.3" lengthAdjust="spacingAndGlyphs">0.062</text>
<text x="199.1" y="236.59" textLength="8.3" lengthAdjust="spacingAndGlyphs">0.040</text>
<text x="210.6" y="236.59" textLength="8.3" lengthAdjust="spacingAndGlyphs">0.021</text>
<text x="222.1" y="236.59" textLength="8.3" lengthAdjust="spacingAndGlyphs">0.019</text>
<text x="233.61" y="236.59" textLength="8.3" lengthAdjust="spacingAndGlyphs">0.021</text>
<text x="245.11" y="236.59" textLength="8.3" lengthAdjust="spacingAndGlyphs">0.008</text>
<text x="256.61" y="236.59" textLength="8.3" lengthAdjust="spacingAndGlyphs">0.037</text>
<text x="268.11" y="236.59" textLength="8.3" lengthAdjust="spacingAndGlyphs">0.004</text>
<text x="279.62" y="236.59" textLength="8.3" lengthAdjust="spacingAndGlyphs">0.000</text>
<text x="291.12" y="236.59" textLength="8.3" lengthAdjust="spacingAndGlyphs">0.012</text>
<text x="302.62" y="236.59" textLength="8.3" lengthAdjust="spacingAndGlyphs">0.004</text>
<text x="314.13" y="236.59" textLength="8.3" lengthAdjust="spacingAndGlyphs">0.008</text>
<text x="325.63" y="236.59" textLength="8.3" lengthAdjust="spacingAndGlyphs">0.000</text>
<text x="337.13" y="236.59" textLength="8.3" lengthAdjust="spacingAndGlyphs">0.016</text>
<text x="348.64" y="236.59" textLength="8.3" lengthAdjust="spacingAndGlyphs">0.016</text>
<text x="360.14" y="236.59" textLength="8.3" lengthAdjust="spacingAndGlyphs">0.008</text>
<text x="371.64" y="236.59" textLength="8.3" lengthAdjust="spacingAndGlyphs">0.004</text>
<text x="383.14" y="236.59" textLength="8.3" lengthAdjust="spacingAndGlyphs">0.024</text>
<text x="394.65" y="236.59" textLength="8.3" lengthAdjust="spacingAndGlyphs">0.004</text>
<text x="406.15" y="236.59" textLength="8.3" lengthAdjust="spacingAndGlyphs">0.000</text>
<text x="417.65" y="236.59" textLength="8.3" lengthAdjust="spacingAndGlyphs">0.000</text>
<text x="429.16" y="236.59" textLength="8.3" lengthAdjust="spacingAndGlyphs">0.000</text>
<text x="440.66" y="236.59" textLength="8.3" lengthAdjust="spacingAndGlyphs">0.000</text>
<text x="452.16" y="236.59" textLength="8.3" lengthAdjust="spacingAndGlyphs">0.000</text>
<text x="463.67" y="236.59" textLength="8.3" lengthAdjust="spacingAndGlyphs">0.008</text>
<text x="26.55" y="246.37" textLength="8.3" lengthAdjust="spacingAndGlyphs">0.000</text>
<text x="38.05" y="246.37" textLength="8.3" lengthAdjust="spacingAndGlyphs">0.160</text>
<text x="49.56" y="246.37" textLength="8.3" lengthAdjust="spacingAndGlyphs">0.192</text>
<text x="61.06" y="246.37" textLength="8.3" lengthAdjust="spacingAndGlyphs">0.117</text>
<text x="72.56" y="246.37" textLength="8.3" lengthAdjust="spacingAndGlyphs">0.104</text>
<text x="84.07" y="246.37" textLength="8.3" lengthAdjust="spacingAndGlyphs">0.140</text>
<text x="95.57" y="246.37" textLength="8.3" lengthAdjust="spacingAndGlyphs">0.086</text>
<text x="107.07" y="246.37" textLength="8.3" lengthAdjust="spacingAndGlyphs">0.000</text>
<text x="118.58" y="246.37" textLength="8.3" lengthAdjust="spacingAndGlyphs">0.076</text>
<text x="130.08" y="246.37" textLength="8.3" lengthAdjust="spacingAndGlyphs">0.092</text>
<text x="141.58" y="246.37" textLength="8.3" lengthAdjust="spacingAndGlyphs">0.063</text>
<text x="153.08" y="246.37" textLength="8.3" lengthAdjust="spacingAndGlyphs">0.044</text>
<text x="164.59" y="246.37" textLength="8.3" lengthAdjust="spacingAndGlyphs">0.100</text>
<text x="176.09" y="246.37" textLength="8.3" lengthAdjust="spacingAndGlyphs">0.062</text>
<text x="187.59" y="246.37" textLength="8.3" lengthAdjust="spacingAndGlyphs">0.076</text>
<text x="199.1" y="246.37" textLength="8.3" lengthAdjust="spacingAndGlyphs">0.069</text>
<text x="210.6" y="246.37" textLength="8.3" lengthAdjust="spacingAndGlyphs">0.073</text>
<text x="222.1" y="246.37" textLength="8.3" lengthAdjust="spacingAndGlyphs">0.016</text>
<text x="233.61" y="246.37" textLength="8.3" lengthAdjust="spacingAndGlyphs">0.066</text>
<text x="245.11" y="246.37" textLength="8.3" lengthAdjust="spacingAndGlyphs">0.047</text>
<text x="256.61" y="246.37" textLength="8.3" lengthAdjust="spacingAndGlyphs">0.094</text>
<text x="268.11" y="246.37" textLength="8.3" lengthAdjust="spacingAndGlyphs">0.005</text>
<text x="279.62" y="246.37" textLength="8.3" lengthAdjust="spacingAndGlyphs">0.041</text>
<text x="291.12" y="246.37" textLength="8.3" lengthAdjust="spacingAndGlyphs">0.022</text>
<text x="302.62" y="246.37" textLength="8.3" lengthAdjust="spacingAndGlyphs">0.029</text>
<text x="314.13" y="246.37" textLength="8.3" lengthAdjust="spacingAndGlyphs">0.016</text>
<text x="325.63" y="246.37" textLength="8.3" lengthAdjust="spacingAndGlyphs">0.006</text>
<text x="337.13" y="246.37" textLength="8.3" lengthAdjust="spacingAndGlyphs">0.016</text>
<text x="348.64" y="246.37" textLength="8.3" lengthAdjust="spacingAndGlyphs">0.018</text>
<text x="360.14" y="246.37" textLength="8.3" lengthAdjust="spacingAndGlyphs">0.012</text>
<text x="371.64" y="246.37" textLength="8.3" lengthAdjust="spacingAndGlyphs">0.012</text>
<text x="383.14" y="246.37" textLength="8.3" lengthAdjust="spacingAndGlyphs">0.000</text>
<text x="394.65" y="246.37" textLength="8.3" lengthAdjust="spacingAndGlyphs">0.015</text>
<text x="406.15" y="246.37" textLength="8.3" lengthAdjust="spacingAndGlyphs">0.047</text>
<text x="417.65" y="246.37" textLength="8.3" lengthAdjust="spacingAndGlyphs">1.000</text>
<text x="429.16" y="246.37" textLength="8.3" lengthAdjust="spacingAndGlyphs">0.088</text>
<text x="440.66" y="246.37" textLength="8.3" lengthAdjust="spacingAndGlyphs">0.088</text>
<text x="452.16" y="246.37" textLength="8.3" lengthAdjust="spacingAndGlyphs">0.000</text>
<text x="463.67" y="246.37" textLength="8.3" lengthAdjust="spacingAndGlyphs">0.042</text>
<text x="26.55" y="256.15" textLength="8.3" lengthAdjust="spacingAndGlyphs">0.000</text>
<text x="38.05" y="256.15" textLength="8.3" lengthAdjust="spacingAndGlyphs">0.136</text>
<text x="49.56" y="256.15" textLength="8.3" lengthAdjust="spacingAndGlyphs">0.086</text>
<text x="61.06" y="256.15" textLength="8.3" lengthAdjust="spacingAndGlyphs">0.122</text>
<text x="72.56" y="256.15" textLength="8.3" lengthAdjust="spacingAndGlyphs">0.011</text>
<text x="84.07" y="256.15" textLength="8.3" lengthAdjust="spacingAndGlyphs">0.044</text>
<text x="95.57" y="256.15" textLength="8.3" lengthAdjust="spacingAndGlyphs">0.077</text>
<text x="107.07" y="256.15" textLength="8.3" lengthAdjust="spacingAndGlyphs">0.008</text>
<text x="118.58" y="256.15" textLength="8.3" lengthAdjust="spacingAndGlyphs">0.195</text>
<text x="130.08" y="256.15" textLength="8.3" lengthAdjust="spacingAndGlyphs">0.050</text>
<text x="141.58" y="256.15" textLength="8.3" lengthAdjust="spacingAndGlyphs">0.017</text>
<text x="153.08" y="256.15" textLength="8.3" lengthAdjust="spacingAndGlyphs">0.017</text>
<text x="164.59" y="256.15" textLength="8.3" lengthAdjust="spacingAndGlyphs">0.017</text>
<text x="176.09" y="256.15" textLength="8.3" lengthAdjust="spacingAndGlyphs">0.033</text>
<text x="187.59" y="256.15" textLength="8.3" lengthAdjust="spacingAndGlyphs">0.044</text>
<text x="199.1" y="256.15" textLength="8.3" lengthAdjust="spacingAndGlyphs">0.044</text>
<text x="210.6" y="256.15" textLength="8.3" lengthAdjust="spacingAndGlyphs">0.017</text>
<text x="222.1" y="256.15" textLength="8.3" lengthAdjust="spacingAndGlyphs">0.000</text>
<text x="233.61" y="256.15" textLength="8.3" lengthAdjust="spacingAndGlyphs">0.096</text>
<text x="245.11" y="256.15" textLength="8.3" lengthAdjust="spacingAndGlyphs">0.022</text>
<text x="256.61" y="256.15" textLength="8.3" lengthAdjust="spacingAndGlyphs">0.050</text>
<text x="268.11" y="256.15" textLength="8.3" lengthAdjust="spacingAndGlyphs">0.011</text>
<text x="279.62" y="256.15" textLength="8.3" lengthAdjust="spacingAndGlyphs">0.022</text>
<text x="291.12" y="256.15" textLength="8.3" lengthAdjust="spacingAndGlyphs">0.006</text>
<text x="302.62" y="256.15" textLength="8.3" lengthAdjust="spacingAndGlyphs">0.011</text>
<text x="314.13" y="256.15" textLength="8.3" lengthAdjust="spacingAndGlyphs">0.017</text>
<text x="325.63" y="256.15" textLength="8.3" lengthAdjust="spacingAndGlyphs">0.000</text>
<text x="337.13" y="256.15" textLength="8.3" lengthAdjust="spacingAndGlyphs">0.000</text>
<text x="348.64" y="256.15" textLength="8.3" lengthAdjust="spacingAndGlyphs">0.006</text>
<text x="360.14" y="256.15" textLength="8.3" lengthAdjust="spacingAndGlyphs">0.006</text>
<text x="371.64" y="256.15" textLength="8.3" lengthAdjust="spacingAndGlyphs">0.008</text>
<text x="383.14" y="256.15" textLength="8.3" lengthAdjust="spacingAndGlyphs">0.000</text>
<text x="394.65" y="256.15" textLength="8.3" lengthAdjust="spacingAndGlyphs">0.171</text>
<text x="406.15" y="256.15" textLength="8.3" lengthAdjust="spacingAndGlyphs">0.011</text>
<text x="417.65" y="256.15" textLength="8.3" lengthAdjust="spacingAndGlyphs">0.087</text>
<text x="429.16" y="256.15" textLength="8.3" lengthAdjust="spacingAndGlyphs">0.008</text>
<text x="440.66" y="256.15" textLength="8.3" lengthAdjust="spacingAndGlyphs">0.023</text>
<text x="452.16" y="256.15" textLength="8.3" lengthAdjust="spacingAndGlyphs">1.000</text>
<text x="463.67" y="256.15" textLength="8.3" lengthAdjust="spacingAndGlyphs">0.000</text>
<text x="26.55" y="265.93" textLength="8.3" lengthAdjust="spacingAndGlyphs">1.000</text>
<text x="38.05" y="265.93" textLength="8.3" lengthAdjust="spacingAndGlyphs">0.000</text>
<text x="49.56" y="265.93" textLength="8.3" lengthAdjust="spacingAndGlyphs">0.951</text>
<text x="61.06" y="265.93" textLength="8.3" lengthAdjust="spacingAndGlyphs">0.000</text>
<text x="72.56" y="265.93" textLength="8.3" lengthAdjust="spacingAndGlyphs">0.387</text>
<text x="84.07" y="265.93" textLength="8.3" lengthAdjust="spacingAndGlyphs">0.262</text>
<text x="95.57" y="265.93" textLength="8.3" lengthAdjust="spacingAndGlyphs">0.297</text>
<text x="107.07" y="265.93" textLength="8.3" lengthAdjust="spacingAndGlyphs">0.000</text>
<text x="118.58" y="265.93" textLength="8.3" lengthAdjust="spacingAndGlyphs">0.086</text>
<text x="130.08" y="265.93" textLength="8.3" lengthAdjust="spacingAndGlyphs">0.222</text>
<text x="141.58" y="265.93" textLength="8.3" lengthAdjust="spacingAndGlyphs">0.086</text>
<text x="153.08" y="265.93" textLength="8.3" lengthAdjust="spacingAndGlyphs">0.071</text>
<text x="164.59" y="265.93" textLength="8.3" lengthAdjust="spacingAndGlyphs">0.296</text>
<text x="176.09" y="265.93" textLength="8.3" lengthAdjust="spacingAndGlyphs">0.222</text>
<text x="187.59" y="265.93" textLength="8.3" lengthAdjust="spacingAndGlyphs">0.049</text>
<text x="199.1" y="265.93" textLength="8.3" lengthAdjust="spacingAndGlyphs">0.062</text>
<text x="210.6" y="265.93" textLength="8.3" lengthAdjust="spacingAndGlyphs">0.049</text>
<text x="222.1" y="265.93" textLength="8.3" lengthAdjust="spacingAndGlyphs">0.099</text>
<text x="233.61" y="265.93" textLength="8.3" lengthAdjust="spacingAndGlyphs">0.044</text>
<text x="245.11" y="265.93" textLength="8.3" lengthAdjust="spacingAndGlyphs">0.016</text>
<text x="256.61" y="265.93" textLength="8.3" lengthAdjust="spacingAndGlyphs">0.044</text>
<text x="268.11" y="265.93" textLength="8.3" lengthAdjust="spacingAndGlyphs">0.044</text>
<text x="279.62" y="265.93" textLength="8.3" lengthAdjust="spacingAndGlyphs">0.036</text>
<text x="291.12" y="265.93" textLength="8.3" lengthAdjust="spacingAndGlyphs">0.011</text>
<text x="302.62" y="265.93" textLength="8.3" lengthAdjust="spacingAndGlyphs">0.006</text>
<text x="314.13" y="265.93" textLength="8.3" lengthAdjust="spacingAndGlyphs">0.011</text>
<text x="325.63" y="265.93" textLength="8.3" lengthAdjust="spacingAndGlyphs">0.000</text>
<text x="337.13" y="265.93" textLength="8.3" lengthAdjust="spacingAndGlyphs">0.000</text>
<text x="348.64" y="265.93" textLength="8.3" lengthAdjust="spacingAndGlyphs">0.000</text>
<text x="360.14" y="265.93" textLength="8.3" lengthAdjust="spacingAndGlyphs">0.022</text>
<text x="371.64" y="265.93" textLength="8.3" lengthAdjust="spacingAndGlyphs">0.009</text>
<text x="383.14" y="265.93" textLength="8.3" lengthAdjust="spacingAndGlyphs">0.009</text>
<text x="394.65" y="265.93" textLength="8.3" lengthAdjust="spacingAndGlyphs">0.044</text>
<text x="406.15" y="265.93" textLength="8.3" lengthAdjust="spacingAndGlyphs">0.000</text>
<text x="417.65" y="265.93" textLength="8.3" lengthAdjust="spacingAndGlyphs">0.000</text>
<text x="429.16" y="265.93" textLength="8.3" lengthAdjust="spacingAndGlyphs">0.000</text>
<text x="440.66" y="265.93" textLength="8.3" lengthAdjust="spacingAndGlyphs">0.000</text>
<text x="452.16" y="265.93" textLength="8.3" lengthAdjust="spacingAndGlyphs">0.000</text>
<text x="463.67" y="265.93" textLength="8.3" lengthAdjust="spacingAndGlyphs">0.000</text>
<text x="26.55" y="275.71" textLength="8.3" lengthAdjust="spacingAndGlyphs">1.000</text>
<text x="38.05" y="275.71" textLength="8.3" lengthAdjust="spacingAndGlyphs">1.000</text>
<text x="49.56" y="275.71" textLength="8.3" lengthAdjust="spacingAndGlyphs">0.004</text>
<text x="61.06" y="275.71" textLength="8.3" lengthAdjust="spacingAndGlyphs">1.000</text>
<text x="72.56" y="275.71" textLength="8.3" lengthAdjust="spacingAndGlyphs">0.018</text>
<text x="84.07" y="275.71" textLength="8.3" lengthAdjust="spacingAndGlyphs">0.080</text>
<text x="95.57" y="275.71" textLength="8.3" lengthAdjust="spacingAndGlyphs">0.089</text>
<text x="107.07" y="275.71" textLength="8.3" lengthAdjust="spacingAndGlyphs">0.000</text>
<text x="118.58" y="275.71" textLength="8.3" lengthAdjust="spacingAndGlyphs">0.214</text>
<text x="130.08" y="275.71" textLength="8.3" lengthAdjust="spacingAndGlyphs">0.040</text>
<text x="141.58" y="275.71" textLength="8.3" lengthAdjust="spacingAndGlyphs">0.062</text>
<text x="153.08" y="275.71" textLength="8.3" lengthAdjust="spacingAndGlyphs">0.071</text>
<text x="164.59" y="275.71" textLength="8.3" lengthAdjust="spacingAndGlyphs">0.009</text>
<text x="176.09" y="275.71" textLength="8.3" lengthAdjust="spacingAndGlyphs">0.009</text>
<text x="187.59" y="275.71" textLength="8.3" lengthAdjust="spacingAndGlyphs">0.062</text>
<text x="199.1" y="275.71" textLength="8.3" lengthAdjust="spacingAndGlyphs">0.027</text>
<text x="210.6" y="275.71" textLength="8.3" lengthAdjust="spacingAndGlyphs">0.009</text>
<text x="222.1" y="275.71" textLength="8.3" lengthAdjust="spacingAndGlyphs">0.000</text>
<text x="233.61" y="275.71" textLength="8.3" lengthAdjust="spacingAndGlyphs">0.000</text>
<text x="245.11" y="275.71" textLength="8.3" lengthAdjust="spacingAndGlyphs">0.000</text>
<text x="256.61" y="275.71" textLength="8.3" lengthAdjust="spacingAndGlyphs">0.000</text>
<text x="268.11" y="275.71" textLength="8.3" lengthAdjust="spacingAndGlyphs">0.018</text>
<text x="279.62" y="275.71" textLength="8.3" lengthAdjust="spacingAndGlyphs">0.036</text>
<text x="291.12" y="275.71" textLength="8.3" lengthAdjust="spacingAndGlyphs">0.009</text>
<text x="302.62" y="275.71" textLength="8.3" lengthAdjust="spacingAndGlyphs">0.018</text>
<text x="314.13" y="275.71" textLength="8.3" lengthAdjust="spacingAndGlyphs">0.000</text>
<text x="325.63" y="275.71" textLength="8.3" lengthAdjust="spacingAndGlyphs">0.000</text>
<text x="337.13" y="275.71" textLength="8.3" lengthAdjust="spacingAndGlyphs">0.009</text>
<text x="348.64" y="275.71" textLength="8.3" lengthAdjust="spacingAndGlyphs">0.009</text>
<text x="360.14" y="275.71" textLength="8.3" lengthAdjust="spacingAndGlyphs">0.000</text>
<text x="371.64" y="275.71" textLength="8.3" lengthAdjust="spacingAndGlyphs">0.000</text>
<text x="383.14" y="275.71" textLength="8.3" lengthAdjust="spacingAndGlyphs">0.000</text>
<text x="394.65" y="275.71" textLength="8.3" lengthAdjust="spacingAndGlyphs">0.016</text>
<text x="406.15" y="275.71" textLength="8.3" lengthAdjust="spacingAndGlyphs">0.000</text>
<text x="417.65" y="275.71" textLength="8.3" lengthAdjust="spacingAndGlyphs">0.000</text>
<text x="429.16" y="275.71" textLength="8.3" lengthAdjust="spacingAndGlyphs">0.000</text>
<text x="440.66" y="275.71" textLength="8.3" lengthAdjust="spacingAndGlyphs">0.000</text>
<text x="452.16" y="275.71" textLength="8.3" lengthAdjust="spacingAndGlyphs">0.000</text>
<text x="463.67" y="275.71" textLength="8.3" lengthAdjust="spacingAndGlyphs">0.000</text>
<text x="26.55" y="285.49" textLength="8.3" lengthAdjust="spacingAndGlyphs">0.000</text>
<text x="38.05" y="285.49" textLength="8.3" lengthAdjust="spacingAndGlyphs">0.186</text>
<text x="49.56" y="285.49" textLength="8.3" lengthAdjust="spacingAndGlyphs">0.186</text>
<text x="61.06" y="285.49" textLength="8.3" lengthAdjust="spacingAndGlyphs">0.000</text>
<text x="72.56" y="285.49" textLength="8.3" lengthAdjust="spacingAndGlyphs">0.139</text>
<text x="84.07" y="285.49" textLength="8.3" lengthAdjust="spacingAndGlyphs">0.287</text>
<text x="95.57" y="285.49" textLength="8.3" lengthAdjust="spacingAndGlyphs">0.089</text>
<text x="107.07" y="285.49" textLength="8.3" lengthAdjust="spacingAndGlyphs">0.000</text>
<text x="118.58" y="285.49" textLength="8.3" lengthAdjust="spacingAndGlyphs">0.028</text>
<text x="130.08" y="285.49" textLength="8.3" lengthAdjust="spacingAndGlyphs">0.019</text>
<text x="141.58" y="285.49" textLength="8.3" lengthAdjust="spacingAndGlyphs">0.089</text>
<text x="153.08" y="285.49" textLength="8.3" lengthAdjust="spacingAndGlyphs">0.000</text>
<text x="164.59" y="285.49" textLength="8.3" lengthAdjust="spacingAndGlyphs">0.139</text>
<text x="176.09" y="285.49" textLength="8.3" lengthAdjust="spacingAndGlyphs">0.000</text>
<text x="187.59" y="285.49" textLength="8.3" lengthAdjust="spacingAndGlyphs">0.093</text>
<text x="199.1" y="285.49" textLength="8.3" lengthAdjust="spacingAndGlyphs">0.000</text>
<text x="210.6" y="285.49" textLength="8.3" lengthAdjust="spacingAndGlyphs">0.139</text>
<text x="222.1" y="285.49" textLength="8.3" lengthAdjust="spacingAndGlyphs">0.020</text>
<text x="233.61" y="285.49" textLength="8.3" lengthAdjust="spacingAndGlyphs">0.019</text>
<text x="245.11" y="285.49" textLength="8.3" lengthAdjust="spacingAndGlyphs">0.000</text>
<text x="256.61" y="285.49" textLength="8.3" lengthAdjust="spacingAndGlyphs">0.020</text>
<text x="268.11" y="285.49" textLength="8.3" lengthAdjust="spacingAndGlyphs">0.009</text>
<text x="279.62" y="285.49" textLength="8.3" lengthAdjust="spacingAndGlyphs">0.023</text>
<text x="291.12" y="285.49" textLength="8.3" lengthAdjust="spacingAndGlyphs">0.000</text>
<text x="302.62" y="285.49" textLength="8.3" lengthAdjust="spacingAndGlyphs">0.009</text>
<text x="314.13" y="285.49" textLength="8.3" lengthAdjust="spacingAndGlyphs">0.000</text>
<text x="325.63" y="285.49" textLength="8.3" lengthAdjust="spacingAndGlyphs">0.042</text>
<text x="337.13" y="285.49" textLength="8.3" lengthAdjust="spacingAndGlyphs">0.000</text>
<text x="348.64" y="285.49" textLength="8.3" lengthAdjust="spacingAndGlyphs">0.023</text>
<text x="360.14" y="285.49" textLength="8.3" lengthAdjust="spacingAndGlyphs">0.009</text>
<text x="371.64" y="285.49" textLength="8.3" lengthAdjust="spacingAndGlyphs">0.010</text>
<text x="383.14" y="285.49" textLength="8.3" lengthAdjust="spacingAndGlyphs">0.000</text>
<text x="394.65" y="285.49" textLength="8.3" lengthAdjust="spacingAndGlyphs">0.040</text>
<text x="406.15" y="285.49" textLength="8.3" lengthAdjust="spacingAndGlyphs">0.000</text>
<text x="417.65" y="285.49" textLength="8.3" lengthAdjust="spacingAndGlyphs">0.000</text>
<text x="429.16" y="285.49" textLength="8.3" lengthAdjust="spacingAndGlyphs">1.000</text>
<text x="440.66" y="285.49" textLength="8.3" lengthAdjust="spacingAndGlyphs">0.000</text>
<text x="452.16" y="285.49" textLength="8.3" lengthAdjust="spacingAndGlyphs">0.000</text>
<text x="463.67" y="285.49" textLength="8.3" lengthAdjust="spacingAndGlyphs">0.000</text>
<text x="26.55" y="295.27" textLength="8.3" lengthAdjust="spacingAndGlyphs">1.000</text>
<text x="38.05" y="295.27" textLength="8.3" lengthAdjust="spacingAndGlyphs">1.000</text>
<text x="49.56" y="295.27" textLength="8.3" lengthAdjust="spacingAndGlyphs">1.000</text>
<text x="61.06" y="295.27" textLength="8.3" lengthAdjust="spacingAndGlyphs">0.040</text>
<text x="72.56" y="295.27" textLength="8.3" lengthAdjust="spacingAndGlyphs">0.433</text>
<text x="84.07" y="295.27" textLength="8.3" lengthAdjust="spacingAndGlyphs">0.309</text>
<text x="95.57" y="295.27" textLength="8.3" lengthAdjust="spacingAndGlyphs">0.370</text>
<text x="107.07" y="295.27" textLength="8.3" lengthAdjust="spacingAndGlyphs">0.000</text>
<text x="118.58" y="295.27" textLength="8.3" lengthAdjust="spacingAndGlyphs">0.014</text>
<text x="130.08" y="295.27" textLength="8.3" lengthAdjust="spacingAndGlyphs">0.202</text>
<text x="141.58" y="295.27" textLength="8.3" lengthAdjust="spacingAndGlyphs">0.240</text>
<text x="153.08" y="295.27" textLength="8.3" lengthAdjust="spacingAndGlyphs">0.087</text>
<text x="164.59" y="295.27" textLength="8.3" lengthAdjust="spacingAndGlyphs">0.040</text>
<text x="176.09" y="295.27" textLength="8.3" lengthAdjust="spacingAndGlyphs">0.046</text>
<text x="187.59" y="295.27" textLength="8.3" lengthAdjust="spacingAndGlyphs">0.009</text>
<text x="199.1" y="295.27" textLength="8.3" lengthAdjust="spacingAndGlyphs">0.048</text>
<text x="210.6" y="295.27" textLength="8.3" lengthAdjust="spacingAndGlyphs">0.025</text>
<text x="222.1" y="295.27" textLength="8.3" lengthAdjust="spacingAndGlyphs">0.020</text>
<text x="233.61" y="295.27" textLength="8.3" lengthAdjust="spacingAndGlyphs">0.046</text>
<text x="245.11" y="295.27" textLength="8.3" lengthAdjust="spacingAndGlyphs">0.026</text>
<text x="256.61" y="295.27" textLength="8.3" lengthAdjust="spacingAndGlyphs">0.026</text>
<text x="268.11" y="295.27" textLength="8.3" lengthAdjust="spacingAndGlyphs">0.010</text>
<text x="279.62" y="295.27" textLength="8.3" lengthAdjust="spacingAndGlyphs">0.010</text>
<text x="291.12" y="295.27" textLength="8.3" lengthAdjust="spacingAndGlyphs">0.000</text>
<text x="302.62" y="295.27" textLength="8.3" lengthAdjust="spacingAndGlyphs">0.013</text>
<text x="314.13" y="295.27" textLength="8.3" lengthAdjust="spacingAndGlyphs">0.000</text>
<text x="325.63" y="295.27" textLength="8.3" lengthAdjust="spacingAndGlyphs">0.064</text>
<text x="337.13" y="295.27" textLength="8.3" lengthAdjust="spacingAndGlyphs">0.010</text>
<text x="348.64" y="295.27" textLength="8.3" lengthAdjust="spacingAndGlyphs">0.026</text>
<text x="360.14" y="295.27" textLength="8.3" lengthAdjust="spacingAndGlyphs">0.016</text>
<text x="371.64" y="295.27" textLength="8.3" lengthAdjust="spacingAndGlyphs">0.010</text>
<text x="383.14" y="295.27" textLength="8.3" lengthAdjust="spacingAndGlyphs">0.000</text>
<text x="394.65" y="295.27" textLength="8.3" lengthAdjust="spacingAndGlyphs">0.010</text>
<text x="406.15" y="295.27" textLength="8.3" lengthAdjust="spacingAndGlyphs">0.000</text>
<text x="417.65" y="295.27" textLength="8.3" lengthAdjust="spacingAndGlyphs">0.068</text>
<text x="429.16" y="295.27" textLength="8.3" lengthAdjust="spacingAndGlyphs">0.000</text>
<text x="440.66" y="295.27" textLength="8.3" lengthAdjust="spacingAndGlyphs">0.000</text>
<text x="452.16" y="295.27" textLength="8.3" lengthAdjust="spacingAndGlyphs">0.000</text>
<text x="463.67" y="295.27" textLength="8.3" lengthAdjust="spacingAndGlyphs">0.000</text>
<text x="26.55" y="305.05" textLength="8.3" lengthAdjust="spacingAndGlyphs">0.000</text>
<text x="38.05" y="305.05" textLength="8.3" lengthAdjust="spacingAndGlyphs">0.158</text>
<text x="49.56" y="305.05" textLength="8.3" lengthAdjust="spacingAndGlyphs">0.132</text>
<text x="61.06" y="305.05" textLength="8.3" lengthAdjust="spacingAndGlyphs">0.046</text>
<text x="72.56" y="305.05" textLength="8.3" lengthAdjust="spacingAndGlyphs">0.063</text>
<text x="84.07" y="305.05" textLength="8.3" lengthAdjust="spacingAndGlyphs">0.112</text>
<text x="95.57" y="305.05" textLength="8.3" lengthAdjust="spacingAndGlyphs">0.046</text>
<text x="107.07" y="305.05" textLength="8.3" lengthAdjust="spacingAndGlyphs">0.000</text>
<text x="118.58" y="305.05" textLength="8.3" lengthAdjust="spacingAndGlyphs">0.078</text>
<text x="130.08" y="305.05" textLength="8.3" lengthAdjust="spacingAndGlyphs">0.058</text>
<text x="141.58" y="305.05" textLength="8.3" lengthAdjust="spacingAndGlyphs">0.023</text>
<text x="153.08" y="305.05" textLength="8.3" lengthAdjust="spacingAndGlyphs">0.036</text>
<text x="164.59" y="305.05" textLength="8.3" lengthAdjust="spacingAndGlyphs">0.046</text>
<text x="176.09" y="305.05" textLength="8.3" lengthAdjust="spacingAndGlyphs">0.046</text>
<text x="187.59" y="305.05" textLength="8.3" lengthAdjust="spacingAndGlyphs">0.033</text>
<text x="199.1" y="305.05" textLength="8.3" lengthAdjust="spacingAndGlyphs">0.040</text>
<text x="210.6" y="305.05" textLength="8.3" lengthAdjust="spacingAndGlyphs">0.023</text>
<text x="222.1" y="305.05" textLength="8.3" lengthAdjust="spacingAndGlyphs">0.018</text>
<text x="233.61" y="305.05" textLength="8.3" lengthAdjust="spacingAndGlyphs">0.013</text>
<text x="245.11" y="305.05" textLength="8.3" lengthAdjust="spacingAndGlyphs">0.013</text>
<text x="256.61" y="305.05" textLength="8.3" lengthAdjust="spacingAndGlyphs">0.026</text>
<text x="268.11" y="305.05" textLength="8.3" lengthAdjust="spacingAndGlyphs">0.018</text>
<text x="279.62" y="305.05" textLength="8.3" lengthAdjust="spacingAndGlyphs">0.023</text>
<text x="291.12" y="305.05" textLength="8.3" lengthAdjust="spacingAndGlyphs">0.018</text>
<text x="302.62" y="305.05" textLength="8.3" lengthAdjust="spacingAndGlyphs">0.013</text>
<text x="314.13" y="305.05" textLength="8.3" lengthAdjust="spacingAndGlyphs">0.067</text>
<text x="325.63" y="305.05" textLength="8.3" lengthAdjust="spacingAndGlyphs">0.000</text>
<text x="337.13" y="305.05" textLength="8.3" lengthAdjust="spacingAndGlyphs">0.013</text>
<text x="348.64" y="305.05" textLength="8.3" lengthAdjust="spacingAndGlyphs">0.013</text>
<text x="360.14" y="305.05" textLength="8.3" lengthAdjust="spacingAndGlyphs">0.036</text>
<text x="371.64" y="305.05" textLength="8.3" lengthAdjust="spacingAndGlyphs">0.013</text>
<text x="383.14" y="305.05" textLength="8.3" lengthAdjust="spacingAndGlyphs">0.007</text>
<text x="394.65" y="305.05" textLength="8.3" lengthAdjust="spacingAndGlyphs">0.431</text>
<text x="406.15" y="305.05" textLength="8.3" lengthAdjust="spacingAndGlyphs">0.000</text>
<text x="417.65" y="305.05" textLength="8.3" lengthAdjust="spacingAndGlyphs">0.000</text>
<text x="429.16" y="305.05" textLength="8.3" lengthAdjust="spacingAndGlyphs">0.000</text>
<text x="440.66" y="305.05" textLength="8.3" lengthAdjust="spacingAndGlyphs">0.000</text>
<text x="452.16" y="305.05" textLength="8.3" lengthAdjust="spacingAndGlyphs">0.000</text>
<text x="463.67" y="305.05" textLength="8.3" lengthAdjust="spacingAndGlyphs">1.000</text>
<text x="26.55" y="314.83" textLength="8.3" lengthAdjust="spacingAndGlyphs">0.000</text>
<text x="38.05" y="314.83" textLength="8.3" lengthAdjust="spacingAndGlyphs">0.000</text>
<text x="49.56" y="314.83" textLength="8.3" lengthAdjust="spacingAndGlyphs">0.087</text>
<text x="61.06" y="314.83" textLength="8.3" lengthAdjust="spacingAndGlyphs">0.333</text>
<text x="72.56" y="314.83" textLength="8.3" lengthAdjust="spacingAndGlyphs">0.086</text>
<text x="84.07" y="314.83" textLength="8.3" lengthAdjust="spacingAndGlyphs">0.160</text>
<text x="95.57" y="314.83" textLength="8.3" lengthAdjust="spacingAndGlyphs">0.061</text>
<text x="107.07" y="314.83" textLength="8.3" lengthAdjust="spacingAndGlyphs">0.408</text>
<text x="118.58" y="314.83" textLength="8.3" lengthAdjust="spacingAndGlyphs">0.087</text>
<text x="130.08" y="314.83" textLength="8.3" lengthAdjust="spacingAndGlyphs">0.013</text>
<text x="141.58" y="314.83" textLength="8.3" lengthAdjust="spacingAndGlyphs">0.000</text>
<text x="153.08" y="314.83" textLength="8.3" lengthAdjust="spacingAndGlyphs">0.078</text>
<text x="164.59" y="314.83" textLength="8.3" lengthAdjust="spacingAndGlyphs">0.000</text>
<text x="176.09" y="314.83" textLength="8.3" lengthAdjust="spacingAndGlyphs">0.000</text>
<text x="187.59" y="314.83" textLength="8.3" lengthAdjust="spacingAndGlyphs">0.044</text>
<text x="199.1" y="314.83" textLength="8.3" lengthAdjust="spacingAndGlyphs">0.031</text>
<text x="210.6" y="314.83" textLength="8.3" lengthAdjust="spacingAndGlyphs">0.000</text>
<text x="222.1" y="314.83" textLength="8.3" lengthAdjust="spacingAndGlyphs">0.031</text>
<text x="233.61" y="314.83" textLength="8.3" lengthAdjust="spacingAndGlyphs">0.000</text>
<text x="245.11" y="314.83" textLength="8.3" lengthAdjust="spacingAndGlyphs">0.017</text>
<text x="256.61" y="314.83" textLength="8.3" lengthAdjust="spacingAndGlyphs">0.013</text>
<text x="268.11" y="314.83" textLength="8.3" lengthAdjust="spacingAndGlyphs">0.000</text>
<text x="279.62" y="314.83" textLength="8.3" lengthAdjust="spacingAndGlyphs">0.000</text>
<text x="291.12" y="314.83" textLength="8.3" lengthAdjust="spacingAndGlyphs">0.044</text>
<text x="302.62" y="314.83" textLength="8.3" lengthAdjust="spacingAndGlyphs">0.043</text>
<text x="314.13" y="314.83" textLength="8.3" lengthAdjust="spacingAndGlyphs">0.000</text>
<text x="325.63" y="314.83" textLength="8.3" lengthAdjust="spacingAndGlyphs">0.006</text>
<text x="337.13" y="314.83" textLength="8.3" lengthAdjust="spacingAndGlyphs">0.027</text>
<text x="348.64" y="314.83" textLength="8.3" lengthAdjust="spacingAndGlyphs">0.000</text>
<text x="360.14" y="314.83" textLength="8.3" lengthAdjust="spacingAndGlyphs">0.040</text>
<text x="371.64" y="314.83" textLength="8.3" lengthAdjust="spacingAndGlyphs">0.000</text>
<text x="383.14" y="314.83" textLength="8.3" lengthAdjust="spacingAndGlyphs">0.000</text>
<text x="394.65" y="314.83" textLength="8.3" lengthAdjust="spacingAndGlyphs">0.000</text>
<text x="406.15" y="314.83" textLength="8.3" lengthAdjust="spacingAndGlyphs">0.000</text>
<text x="417.65" y="314.83" textLength="8.3" lengthAdjust="spacingAndGlyphs">0.000</text>
<text x="429.16" y="314.83" textLength="8.3" lengthAdjust="spacingAndGlyphs">0.000</text>
<text x="440.66" y="314.83" textLength="8.3" lengthAdjust="spacingAndGlyphs">0.000</text>
<text x="452.16" y="314.83" textLength="8.3" lengthAdjust="spacingAndGlyphs">0.000</text>
<text x="463.67" y="314.83" textLength="8.3" lengthAdjust="spacingAndGlyphs">0.000</text>
</g>
<g font-size="3.9" font-weight="bold" fill="#000" text-anchor="end" dominant-baseline="central">
<text transform="translate(26.55,321.2) rotate(-90)">Normal KT</text>
<text transform="translate(38.05,321.2) rotate(-90)">TET2</text>
<text transform="translate(49.56,321.2) rotate(-90)">ASXL1</text>
<text transform="translate(61.06,321.2) rotate(-90)">SF3B1</text>
<text transform="translate(72.56,321.2) rotate(-90)">SRSF2</text>
<text transform="translate(84.07,321.2) rotate(-90)">NRAS/KRAS/PTPN11/NF1/CBL</text>
<text transform="translate(95.57,321.2) rotate(-90)">RUNX1</text>
<text transform="translate(107.07,321.2) rotate(-90)">Del Y</text>
<text transform="translate(118.58,321.2) rotate(-90)">DNMT3A</text>
<text transform="translate(130.08,321.2) rotate(-90)">RAD21/SMC1A/SMC3/STAG2</text>
<text transform="translate(141.58,321.2) rotate(-90)">EZH2</text>
<text transform="translate(153.08,321.2) rotate(-90)">ZRSR2</text>
<text transform="translate(164.59,321.2) rotate(-90)">U2AF1</text>
<text transform="translate(176.09,321.2) rotate(-90)">IDH1/IDH2</text>
<text transform="translate(187.59,321.2) rotate(-90)">JAK2</text>
<text transform="translate(199.1,321.2) rotate(-90)">BCOR/BCORL1</text>
<text transform="translate(210.6,321.2) rotate(-90)">SETBP1</text>
<text transform="translate(222.1,321.2) rotate(-90)">PHF6</text>
<text transform="translate(233.61,321.2) rotate(-90)">CEBPA</text>
<text transform="translate(245.11,321.2) rotate(-90)">FLT3</text>
<text transform="translate(256.61,321.2) rotate(-90)">CUX1</text>
<text transform="translate(268.11,321.2) rotate(-90)">ETV6</text>
<text transform="translate(279.62,321.2) rotate(-90)">CALR/MPL</text>
<text transform="translate(291.12,321.2) rotate(-90)">NPM1</text>
<text transform="translate(302.62,321.2) rotate(-90)">GATA2</text>
<text transform="translate(314.13,321.2) rotate(-90)">GNAS</text>
<text transform="translate(325.63,321.2) rotate(-90)">Del 11q/-11</text>
<text transform="translate(337.13,321.2) rotate(-90)">WT1</text>
<text transform="translate(348.64,321.2) rotate(-90)">KIT</text>
<text transform="translate(360.14,321.2) rotate(-90)">NOTCH1</text>
<text transform="translate(371.64,321.2) rotate(-90)">CSF3R</text>
<text transform="translate(383.14,321.2) rotate(-90)">DDX41</text>
<text transform="translate(394.65,321.2) rotate(-90)">TP53</text>
<text transform="translate(406.15,321.2) rotate(-90)">Del 20q/-20</text>
<text transform="translate(417.65,321.2) rotate(-90)">Other KT</text>
<text transform="translate(429.16,321.2) rotate(-90)">Del 7q/-7</text>
<text transform="translate(440.66,321.2) rotate(-90)">Trisomy 8</text>
<text transform="translate(452.16,321.2) rotate(-90)">Del 5q/-5</text>
<text transform="translate(463.67,321.2) rotate(-90)">Complex KT</text>
</g>
<text x="461.8" y="181.8" font-size="6.3" font-weight="bold" fill="#111">Clusters</text>
<text x="471.3" y="187.59" font-size="5.5" font-weight="bold" fill="#111" dominant-baseline="central">1</text>
<text x="471.3" y="197.37" font-size="5.5" font-weight="bold" fill="#111" dominant-baseline="central">2</text>
<text x="471.3" y="207.15" font-size="5.5" font-weight="bold" fill="#111" dominant-baseline="central">3</text>
<text x="471.3" y="216.93" font-size="5.5" font-weight="bold" fill="#111" dominant-baseline="central">4</text>
<text x="471.3" y="226.71" font-size="5.5" font-weight="bold" fill="#111" dominant-baseline="central">5</text>
<text x="471.3" y="236.49" font-size="5.5" font-weight="bold" fill="#111" dominant-baseline="central">6</text>
<text x="471.3" y="246.27" font-size="5.5" font-weight="bold" fill="#111" dominant-baseline="central">7</text>
<text x="471.3" y="256.05" font-size="5.5" font-weight="bold" fill="#111" dominant-baseline="central">8</text>
<text x="471.3" y="265.83" font-size="5.5" font-weight="bold" fill="#111" dominant-baseline="central">9</text>
<text x="471.3" y="275.61" font-size="5.5" font-weight="bold" fill="#111" dominant-baseline="central">10</text>
<text x="471.3" y="285.39" font-size="5.5" font-weight="bold" fill="#111" dominant-baseline="central">11</text>
<text x="471.3" y="295.17" font-size="5.5" font-weight="bold" fill="#111" dominant-baseline="central">12</text>
<text x="471.3" y="304.95" font-size="5.5" font-weight="bold" fill="#111" dominant-baseline="central">13</text>
<text x="471.3" y="314.73" font-size="5.5" font-weight="bold" fill="#111" dominant-baseline="central">14</text>
<defs><linearGradient id="cb" x1="0" y1="1" x2="0" y2="0"><stop offset="0" stop-color="#fff"/><stop offset="1" stop-color="#ba1c24"/></linearGradient></defs>
<rect x="500.2" y="221" width="7.6" height="57.6" fill="url(#cb)"/>
<text x="510.2" y="221.8" font-size="6.2" fill="#222" dominant-baseline="central">1</text>
<text x="510.2" y="250.6" font-size="6.2" fill="#222" dominant-baseline="central">0.5</text>
<text x="510.2" y="279.4" font-size="6.2" fill="#222" dominant-baseline="central">0</text>
<text transform="translate(493.8,249.4) rotate(-90)" font-size="5.4" font-weight="bold" fill="#111" text-anchor="middle" dominant-baseline="central">Mutation Frequency</text>
</svg></body></html>
